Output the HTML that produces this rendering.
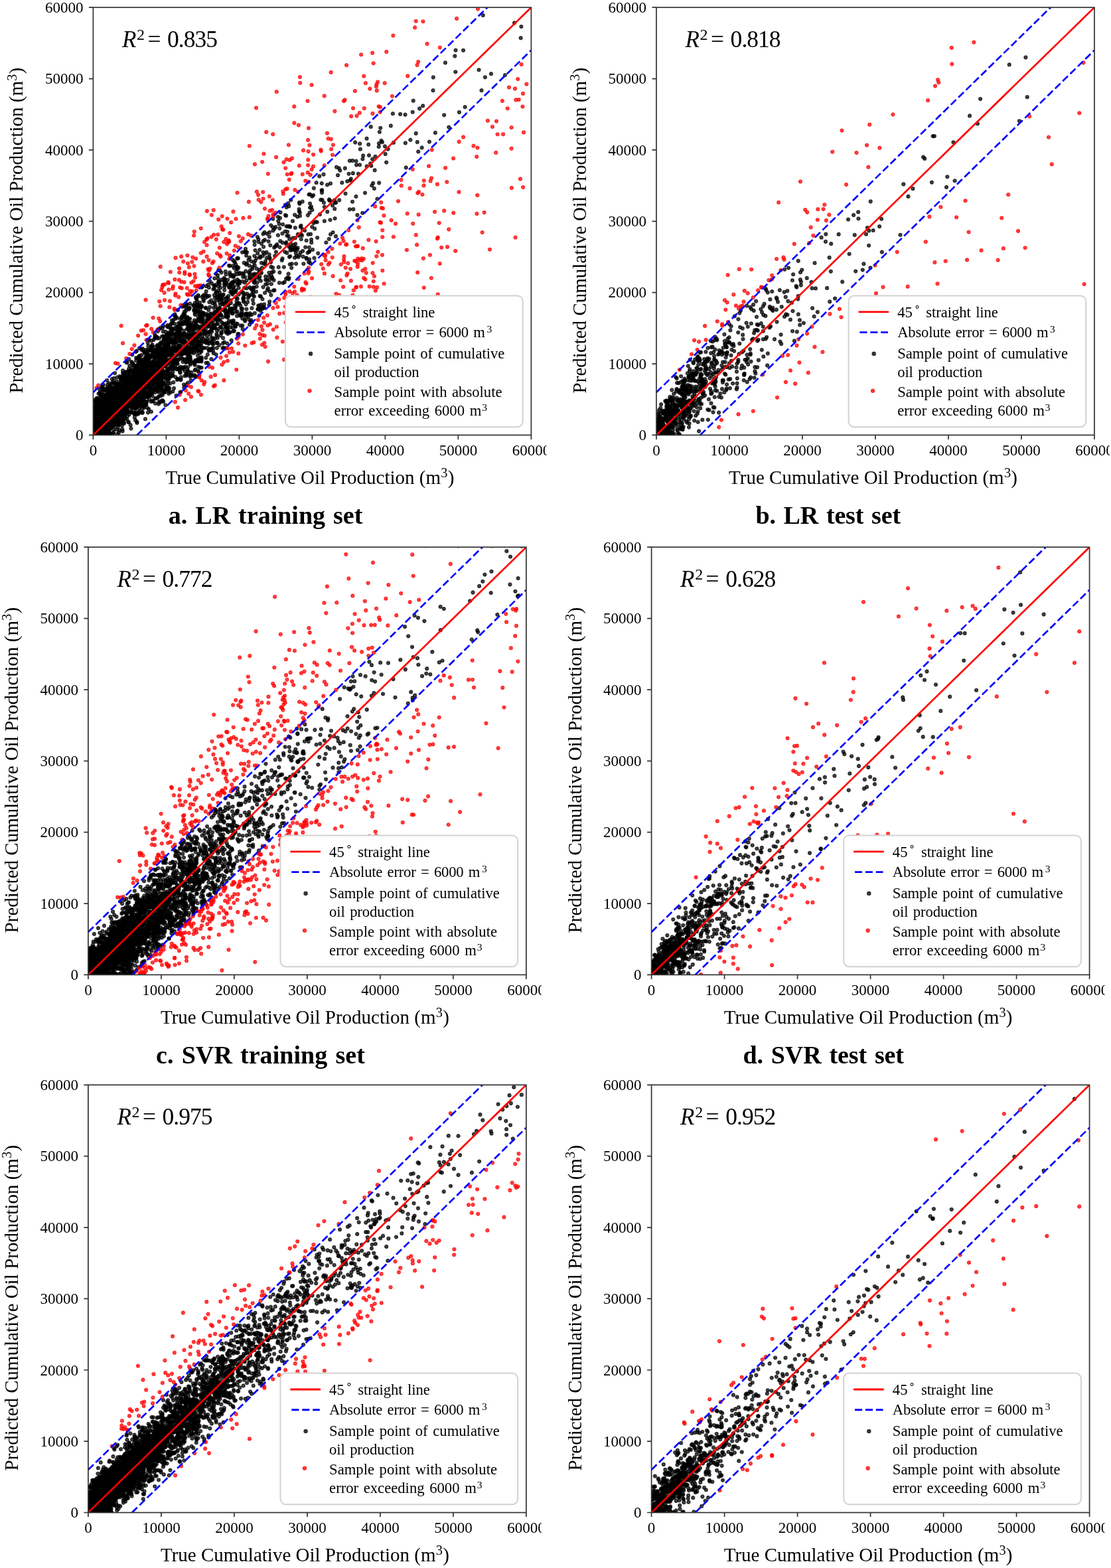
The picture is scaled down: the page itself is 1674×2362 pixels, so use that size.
<!DOCTYPE html>
<html><head><meta charset="utf-8"><title>Figure</title><style>
html,body{margin:0;padding:0;background:#fff;}
svg{display:block;}
text{font-family:"Liberation Serif", "Times New Roman", serif;fill:#000;}
.tl{font-size:23px;}
.al{font-size:29px;}
.sup{font-size:20.3px;}
.r2{font-size:35.5px;}
.it{font-style:italic;font-size:35px;}
.r2s{font-size:24px;}
.lt{font-size:22.7px;word-spacing:2px;}
.lts{font-size:15.5px;}
.ltd{font-size:16px;}
.cap{font-size:38px;font-weight:bold;word-spacing:2.5px;}
.sp{fill:none;stroke:#333;stroke-width:1.7;}
.tk{fill:none;stroke:#333;stroke-width:1.7;}
.l45{stroke:#ff0000;stroke-width:2.7;fill:none;}
.lb{stroke:#0000ff;stroke-width:2.7;fill:none;stroke-dasharray:11.1 4.8;}
.lr{stroke:#ff0000;stroke-width:2.9;fill:none;}
.lbl{stroke:#0000ff;stroke-width:2.9;fill:none;stroke-dasharray:11.1 4.8;}
.lg{fill:#fff;fill-opacity:1;stroke:#d2d2d2;stroke-width:2;}
.pb{fill:none;stroke:none;marker-start:url(#mkb);marker-mid:url(#mkb);marker-end:url(#mkb);}
.pr{fill:none;stroke:none;marker-start:url(#mkr);marker-mid:url(#mkr);marker-end:url(#mkr);}
.mb{fill:#000;fill-opacity:0.7;stroke:#000;stroke-opacity:0.7;stroke-width:2;}
.mr{fill:#f00;fill-opacity:0.7;stroke:#f00;stroke-opacity:0.7;stroke-width:2;}
</style></head>
<body><svg width="1674" height="2362" viewBox="0 0 1674 2362">
<rect x="0" y="0" width="1674" height="2362" fill="#fff"/>
<defs>
<clipPath id="ax"><rect x="0" y="0" width="660" height="644.2"/></clipPath>
<clipPath id="xc"><rect x="-40" y="649.2" width="723" height="60"/></clipPath>
<marker id="mkb" markerUnits="userSpaceOnUse" markerWidth="10" markerHeight="10" refX="5" refY="5" overflow="visible"><circle cx="5" cy="5" r="2.3" fill="#000" fill-opacity="0.7" stroke="#000" stroke-opacity="0.7" stroke-width="1.7"/></marker>
<marker id="mkr" markerUnits="userSpaceOnUse" markerWidth="10" markerHeight="10" refX="5" refY="5" overflow="visible"><circle cx="5" cy="5" r="2.3" fill="#f00" fill-opacity="0.7" stroke="#f00" stroke-opacity="0.7" stroke-width="1.7"/></marker>
</defs>
<g transform="translate(140.4 11.2)">
<g clip-path="url(#ax)">
<path class="pb" d="M107.4 551.6l423.1-468.3l-376.5 395.8l-5.3 27.6l9.6-59.1l-110.5 144.3l36.6-13.8l151.4-169.9l-57 56.3l63-42.1l18-5.3l-132.8 69.6l175.4-128.7l-212.1 211.4l-44.5-11.4l62.9-18.1l39.5-39.3l96.6-97.5l-224.7 223.1l84.9-103.6l-15.3 55.2l-81 49l3.7-7l110.2-136.6l-100.5 119.5l20.7-27.3l8.5 24.9l239.9-299.2l-245.5 251.2l100.2-65.5l-98.8 115.8l148.7-117.4l-174.8 111.9l131.4-104.6l115.4-164.4l-167.3 223.8l-61.4 34.9l158.2-176.8l-141.3 165.2l22.5 44.8l251.3-289.4l-188 136.2l-118.8 122.9l115.4-90.8l86.3-30.3l-213.4 149.9l232.1-229.9l-192.4 215.6l27.2-72.8l150.2-99.3l-148.9 93l-46.3 89.4l5.1-10.2l56.3-67l-57 90.9l44.4-94.3l-58.2 55.3l122.2-52.8l-6.5-31.6l-1.6-2.7l-39.7-17.4l-63.4 114.7l35-86.3l27.1 75.1l-78.7 11.3l-16.2 21l254.1-199.2l69.4-53.6l-259.2 207.4l1.1 20l-32.7-7.1l37.3-18.4l90.8-53.8l-94.7 82.8l-64.4 15.2l68.9-49.9l413.7-374.2l-423.4 420.5l29.3-33.8l-71.8 10.3l54.7 6.5l86.7-119.3l-67.6 88.1l-81.4 64.1l45.4-53.7l159.3-178.7l120.2-46.8l-318.6 274.9l67.7-51.3l180-212.1l-127.3 92.2l55.7-17.2l-171.4 186.5l321.3-330l-252.8 227.5l135.6-95l-167.8 146.1l112.3-33l-155.1 84.7l85.2-44.3l-52.1-26.2l145.3-51.7l-121.9 38.4l28.8 33.6l-39.5-7.4l125.1-153.9l-93.6 140.4l-50.8 8.7l-9.8 59.3l-6.6-19.5l203.5-186.3l78.2-35.3l-304.4 241.4l13.9-25.4l49.4-65.1l70.4 21.7l-138.4 75.4l27.8-23.1l177.1-110.9l-104.7 49.6l-84.2 76.5l90.6-102.6l56.2-10.1l7.9-69.7l20.4 1.2l-125.8 105.4l-41.2 96.5l90-91.9l-109.1 91.1l71-56.6l-49.6 61.9l-8.6-33.4l28.9-31.8l-31.7 19l148-126.3l-124.2 159.5l111.5-129.5l-16.1 23.5l-85.4 62.9l337.6-354.2l41.6 57.5l-332.4 253.4l103.6-127.7l231.1-204.4l-361.7 327.5l-10.6 67.9l58.2-126.9l-2.7 99.6l-55-10.2l88.9-13.5l-93.9 2.8l-13 25.2l-3.3 17.1l8.1-18.3l176.7-131.6l-214.9 170.9l46-31.4l-39.1 54.3l96.6-94.7l-97.9 49.6l6.7 5.1l242.5-192.6l29.1-56.9l-173.3 122.6l73.3-18.5l-147 136.6l172.1-151.8l-173.3 167.4l-20.4 10.1l132-146.5l97.7-16.6l-110.4 27l-0.1-6l-65.4 53.2l86.8-12.8l-55.2 22.6l39.3-66.2l-57.4 50.6l-67.7 83.6l150.8-129.3l-78.3 35.9l3.6 48.3l-65.1 35.6l-8.6-14.2l40.2-57.4l-0.8 58.8l-1.4-23.8l48.1-68.7l359.6-332.7l-356.5 320.1l197.3-108.6l-84.1 69.6l-186.7 152.2l43.3-42.6l105.2-138.3l-159.8 172.1l-13.7 21.2l235.2-209.2l75.3-30.4l-121.7 80.1l-125.3 110.6l-59.6 51.3l35.9-69.9l128.5-40.8l-145.4 72.2l350.3-312.8l-380.3 384.9l49.4-43.7l115.8-124.4l-109 94l72-56.4l448.9-387.7l-523.6 456.7l22.8-40.1l-12.3 18.8l192.1-208l-238.9 245l99.4-112.7l-30.5 68.8l-76.2 84.5l102.7-121.6l168.9-203.5l-216.9 237.6l38.4-58.3l122.7-27l-198.3 123.3l294.5-283.5l-172.9 225.6l10.8-39.4l-86.9 91.6l-79.9 60.2l17.6-29.1l-6.5-8.4l99.9-35.4l-64.2-17.7l83.3 27.2l-34.7-52.4l10.1 53l-101.7 60.6l30.4-41.2l118.9-54.2l105.2-158.7l-209.3 205.3l124.2-102.7l39.7-61.3l-27.6 48.8l-151.2 158.9l38-83.2l30.4-6.1l-100.3 65.4l40.6-50.9l137.6-39.9l-41-4.5l71.2-91.1l-210.6 198.7l68-50.1l40.5-55l203.5-177.5l-184.3 168.7l-101.9 117.4l10.1-37.4l-34.1 46.8l24.3-12.4l258.1-270.3l-70.3 33.2l204.9-119.3l-333.8 273.5l355.7-308.3l-440.7 395.9l30.4-35l-13.7 33.9l145.5-85.6l-108 40.4l-42.8 49.5l80.4-82.4l355.6-371.8l-192.1 173.6l-139.3 150.8l-113.2 139.1l35.5-31.4l-36.8 12.4l236.5-169.8l-200.1 147.6l100.1-124.3l-69.4 100.1l1.7 9.6l1.3-11.8l-65 61.8l168.9-167.7l-111.8 84.9l21.9-37.7l3.1 0.6l16.8 13.3l-90.6 96l32-34.3l-45.3 44.1l113.7-116.6l-22.1 8.7l81.7-115.1l-70.5 76l-51.8 85.5l64.3-40.8l16.7-81.9l18.5 87.6l20.4-61.5l45.7-31.7l-77.8 99.8l-15.7-0.1l-47.2 24l-2.6-14.6l-46.8 58.3l76.2-63.7l-93.8 93.8l346.3-351.3l6 11.9l-335.5 298.8l-14.9-12.7l6.3 10.4l-15.8 8.8l83.7-98.1l76.5-12l-129.3 115.4l106.8-102.4l-101.3 67.9l172.9-130.7l51.8-49.3l-248.4 200.1l49.4 26.1l23.2-71.4l-20.9 28.2l117.8-111.5l-56.8 26.7l-58.8 79l-44.3 39.1l394.5-387.4l-407.5 376l64.9-67.2l-25 42.6l31.1-18.5l-15-3.5l-9.3-8.7l164.2-86.9l-184.3 93.3l121.4-89.6l-124.1 139.1l3.6-9.6l-5.6 19.2l19.2-58.7l-36.7 63.8l309.5-234.6l69-153.7l-265.5 268.8l-76.8 84.7l9.7 36.7l263.1-326.3l-242.8 309.8l-1.3 5.2l1.5-29.4l-31.3-5l29.7 4.5l-60.8 30l81.2-97.3l312.7-290.3l-388.6 359l89.1-70l-2.8 10.2l5.7-33.7l-96.4 154.3l13.4-64.2l-16.8 60.9l23.7-32.6l-15.2-0.1l20.9-57.7l145-58.5l-171.4 101l2.5 2l-14.1 14.6l69.7-49.6l-52 37l13.9 16.3l64.4-76l27.4-21.9l-2.5-11.3l14.8 26.4l32.5-113.2l-50 114.9l-116.3 63.4l-5.1 24.5l97-85.6l-63.9 55.3l145.2-117.7l-143.7 122.4l91.5-94.8l-96.5 120.9l284.3-268l-129.8 120.1l-44.7 43.9l50.7-38.5l76.9-116.9l-126.1 124.9l81.5-23.2l-140.6 72.6l-83 58.3l174.6-74.7l237.6-337.9l-114.6 132.8l-220.9 239.8l-34.3 37.5l82.6-105.5l364.1-273.1l-344.3 344.2l-112.6 49.7l111.7-106.9l-63.9 81.8l-54 28.9l1.3 1.4l277.1-316.5l-290.7 320.1l229.1-264.8l-157.6 198.8l-22.1 56.2l10.7-6l13.7-1.6l105.1-141.1l-177.6 145.8l-0.5 22.4l18.4-0.6l-29.1-27l386.1-311.2l-337 273.3l128.6-103.9l-155.1 154.1l132.9-131.6l-163.1 162.1l58.5-54.4l65.7-92.1l31.4-26.7l142.9-118.1l-200.2 212l-16.9-10.4l-73.5 56.5l126.3-114.5l-123.7 142.2l15.3-16.3l-23.9-3.1l6.7-6.5l125-64.2l-4.2 17.9l225.9-219.3l-44.5-13.1l-291.7 271l80.9-45.9l-98.7 55.2l99.8-36.5l-103 65.5l248.6-284.8l-247.3 289l130.4-81.7l98.3-93.7l-198.6 149.2l96.9-140.5l144.4-49.5l-202.3 129.6l12.5-20.6l-33.7 57.1l-49.2 45.1l75.2-57.8l56-37.9l280.6-302.2l-212.2 162.9l-154.9 198l-44.5 18l67.6-82.2l113.4-83.6l-114.1 134.9l93.1-104.3l68.9-119.3l-68.1 152.9l86.8-61.8l46.9-47l-282 222.1l129.3-103.9l-32.6-6.5l-79.2 77.7l26.7-6l-44.6 50.6l63.9-78.8l60.6-46.7l-110 83.6l7.9 23.7l-4-42l-18.2 46.3l23.4-70.7l82.8-42.7l-28.1 26.2l-55.7 54.1l21.2-5.3l41.8-54.3l-40.7 26.2l108.4-80.8l-163.2 144.3l146.6-129.8l-15.1 34.3l-15.6-25.3l-36.9 51.4l47.2-60.1l195.7-111.6l-180.3 116.5l87-39l-14.3-3.2l-210.9 149.9l87.2-59.9l-6.2-23.5l181.2-108l23.6-72.8l-274.2 280.8l4.5-18.6l25.6 0.5l-1.7 18.2l234.2-209.9l-170.7 117.1l47.8-7.4l-118.8 81l-10.3-4.7l138-158.4l-55.6 69.9l69-66.7l-174.1 196.6l288.7-232.8l-245.6 190.5l148.2-152.4l-163.1 135.2l-33.2 38.4l208.9-217.9l-109.8 143.8l63.1-44.8l-123.1 86.5l26.7-1.6l-53.8 55.7l42.4-46.5l23.6-46.2l9.8 31.5l-25.9-4.2l16-48.7l111.9-111.4l-109.2 129.7l64-94.1l-135.4 122.8l17.9 35.1l21.8-20.9l116.2-129.6l-85.8 125.2l118.8-131.5l-45.6 92.6l261.6-340.1l-388.8 377l8.5 6.3l123.3-140.9l47.9-49.8l-43.8 49.9l168.7-84l-257.5 184.8l30.4-21.1l82.8-15.7l-133.6 86.4l32.1-62.4l168.7-181.1l-224 243.1l71.1-74.9l92.5-84l-23.4 43.6l-141.1 90.7l-11 52l260.8-283.3l-254.7 241.2l57.3-42.8l20.1-12.9l-91.2 108.2l101.3-102.5l-105.7 103.7l245.9-261l-176.3 224.3l-71.6 8.8l108.2-74.7l-24.4 26.9l-66.6 23.9l358.7-343.9l-309.3 321.6l156.5-162.4l-178.3 194.6l-30.5 38.6l2-40.1l97-80.2l61.7-30.5l-63.7 89.7l37.7-79.7l-108.9 113.6l-26 1l19.6-14.5l2.7 12.5l-28.5 23.5l98.6-57.9l38-75.6l-81.2 70.9l-51.4 1.3l57.6-15.9l24.6-42.2l45.4 19.3l-133.3 89.6l146.1-106.9l-99.6 116.4l-3.4-64.4l23.3-19.3l150.1-107l-14.7-32.3l51.9 17l31.6-93.4l-170.2 186.7l59.8-66l-162.2 160.9l26-30.2l242.1-172.1l-170.8 66.9l-15.9 19.7l-90.9 146.3l3.4-6.9l115.5-55.5l-124.2 61.8l158.2-128.3l-12.5-50l-29.9 29.3l-119.9 146l15.1-31.5l42.2-28.8l43.9-20.6l-101.4 65l270.5-248l-189.5 192.8l560.7-538.2l-445.4 414.5l-143.2 103.7l15.9 51.4l-61-4.4l29.4 0l-27.1 30.9l112.3-111l-120.5 100.6l88-34.7l-62.6-3.8l44.5-31l-43.5 48.7l33.9 30.3l112.8-120.2l-103 35.2l-42.9 55l54.3-32.4l125.4-179.2l29 25.8l-153.2 151.4l-35.2 4l42.3-38.3l-66.9 86.5l35.7-64.7l353.7-312l-364 327.4l-24.2 39.6l101.6-112.3l-99.8 99l195.1-125.7l-146.9 134.7l-78.7 23.7l223.8-252.7l-113.2 147l-58.1 66.5l-16.6 15.9l66.3-17l-83.1 25.2l-3.7-22.1l-8 58.6l23.4-41l78.1-107.2l106.8-48.8l-126.8 105.5l73.6-129.6l-93.1 187.5l-53.5-14.1l39.9 5.7l-19.7-7.5l25.2 2.2l203.1-147.5l-264.7 192.9l256.1-280.5l-100.3 96.7l182.5-86.9l-200.9 184.7l136.9-224.4l-240.2 296.7l148.6-163.9l-100.7 93.3l-18.4 55.3l39.2-98.4l-87.3 104.1l-3.3-32.2l367.4-305.2l-375.7 348.9l13.2-35.7l220.5-122.3l-155.2 74.1l-37.2 55.1l-15.3 17.2l128-111.8l-60.6 10.5l380.1-316.9l-464.7 412.9l28.9-9.2l153-89.9l-152.6 63.6l-32.9 41.9l17.9-16.2l264.4-232.8l-122 132.2l-30.3-29.6l-22.6 29.2l-106.4 93.9l23.7-28.3l59-19.8l-81.2 95.4l38.9-38.4l127.3-143.3l-174.2 173.7l-0.6-4.4l98.3-66.5l21.4-101.6l-58.9 112.8l24.1-31.8l63.8-59l-108.2 126.1l-23.9-32.4l337.4-312.8l-130.8 169.2l-179.8 173.7l-42 0.5l100.6-101.3l242.9-206.8l-245.4 228.4l-47.8 31.7l-52.7 80.5l110.8-68.1l-83.9 41.6l158.8-144.4l-113.7 139.8l188-193.7l-254.7 178.6l88.7-27.3l-88 56.8l154.9-174.4l-31.1 107l48-81.5l-146.8 126.8l272.2-216.2l-158.7 120.9l-144.9 113.9l128.6-129.2l-110.6 117.2l41.9-9.6l-7.8 0.4l109.6-134.8l-45.2 75.5l-56.9 47.5l141.8-100.3l49.4-39.8l-169.8 138l97.4-87.6l-79.4 69l-35.3-9.5l139.9-136l-173.1 181.5l331.6-285.3l-295.7 237l-38 41.2l0.2 34.2l147.6-147.7l78.8-96.7l-138.4 147.4l-97.3 80.4l75.9-125.8l50.1-9.8l-83.7 104.4l195.9-200.2l-138.7 88.5l223.4-195.2l-218.6 261l-94.8 46.1l27.6 2l-45.2 41.8l23.1-16.2l-15.9-11.1l469.3-382l-443.3 377.1l-10.6-27l370.1-338.9l-371.3 368.5l74-17.5l-108.4 58.5l50-70.1l-26.3 46.4l1.2-17l306.7-272.5l-283.7 239.3l-44.9 77.9l112-111.4l-97.8 79.6l185.9-144.9l-112.3 35.5l-72 117.8l123.4-97.4l-44 21.1l-50.9 28.4l163.1-140.4l-156.9 99.8l30-6.9l-77.3 69l1.8 40.6l118.7-143.6l-101.5 154.3l55.5-98.9l117.5-135l-133.7 169.1l-48.1 11.1l21.6 29.4l104.8-71.5l8.7-72.7l-13.9 56.9l-63.8-1.3l6.5 41.5l35.6-54.6l-3.5 38.8l130.2-181.8l-223.6 239.8l32-41.9l129.4-101.2l-110.6 92.3l84.8-30.7l96-78.7l-57.5-43.8l-160.9 209.9l29-26.9l128.7-153.3l-38.2 50l39.4-56.3l-109.7 127.5l-14.8 4.3l-5.2 9l73.3-53.5l-124.4 82l-7.4 12.5l134.7-101.7l-92.6 75.7l-9.6-7.8l-33.9 62.1l48.4-51l198.6-143.6l-214.7 123.7l104.8-60.9l184.5-198.8l-231.5 226.7l57.4-51.6l-109.7 90l5.6 7.1l-39 24.7l55.6-33.1l-34.4 28.1l159.5-139.8l-160.1 137.4l-4.8 0.9l2.1-5.1l-0.3 5.6l-4.5-12.2l200.8-179.2l-194.7 204.4l82.4-94.2l-2.4-1.9l-87.8 100.5l134.2-165.1l-23.6 66.5l-43.6 67.4l93.5-122l-165 111l69.6-50.5l-12.3 64.5l-51.1 6.5l25.4-23.4l7 39.3l25.3-42.9l-74.4 70.4l17.5-5l8-71.8l55.1-7.5l-52.2 23.8l333.2-288.6l-230.7 209.6l-51.7 83.5l-66 55.1l35.4-62.4l-48.2 54.8l13.5 5.2l18-72.1l60.8-33l-85.7 89.9l-6.8-18.2l3 35.2l-4.9-7.5l280.7-316.8l-210.9 267.3l-13.8-25l-47.3 52l0.7-20.2l8.3 27.1l92.5-65.3l-0.9-34.6l124.6-48.2l-228.8 147.9l294-256.7l-252.2 208.7l104.3-66.4l253.7-194.3l-361.4 286.5l452.3-447.9l-327.5 289.2l-32.2 80.8l113.9-112.7l-206.4 197l-37.6 36l275.2-329.8l-275.8 335l21.5-32.7l-4.2-0.3l-3.7-15.3l14.8-3l-11.7-12l489.4-475.1l-289.6 359l-179.4 139.4l75.5-98.4l-92.9 80.4l113.8-114.8l-44.2 95.3l-94.9 33.2l102.8-93.5l-64.7 100.9l81.1-105.2l-109.6 78l61.4-46.3l42.1 48.5l-84.3 18l10 5.4l281.5-228l23.7-102l-329 342.7l17.6 11.2l-20.9-12.6l51.6-70.8l-62 86.5l198.3-156.2l-158.1 112.6l-32.6 38.2l31.8-8.6l31.1-46.1l-22.7 17.9l-22.6 38.4l104-77.9l-39.2 6.3l-87.7 47.3l78.8-78.9l125.7-67.9l-199.2 142.2l-1.5-17.7l183.8-100.9l-191.5 128.5l48.6-15.9l-16.3 26.1l-23.6 21.7l80.5-96.3l62.2-32.5l10.7-62.5l-57.9 97.4l-68.3 26.4l154.7-135.2l-28.7 94.1l277.9-311.9l-382.8 353.3l21.9-58.5l256.9-251.6l88.8-39.4l-300.5 304.9l-57.9 60.5l-22.7 45.5l-31.9-19.9l30.7-54.6l84.8-39.3l44.4-52.3l-152.5 153.9l14.8-21.1l447.1-444.6l-343.6 303.9l-44.6 34.7l-74.8 140.7l104.6-92.9l198.7-165.5l-181.9 78.6l-82.8 113.5l-35.6 57.9l76.2-64.8l154.9-110.2l-240.2 129.7l71.8-26.2l122.2-67.7l-46 2.3l-99.1 108.9l-33.6-26.5l155.2-130.2l15.7 11.5l-123.3 86.9l12.7-4.9l9-28.7l43.6-16.6l-81.5 43.5l82.9-51.3l-105.8 88.3l-35.4 62.1l40.9-50.2l66.8-15l53.4-101.9l-27.5 4.5l-131.4 154.5l34-53l153.2-160.3l12.8 45.7l-180.1 167l8-13l8.9-27.3l-33.2 33.3l64.3-51.7l-50.7 49l18.1-7.9l12.5-21l-30.2 3.7l80.9-108.5l45.9-2.5l-120.4 93l97.4-104.3l-32.5 69.5l-37.5 50.6l-27 7.2l-17.2-3.2l35.4 6.2l-21.4 15l341.5-269.3l-97.6 88.5l-51.3 31.7l-18.8-39.1l-74.9 109.7l-17.1 43.2l144.2-170.2l-72.1 121.3l197-265.8l-261.2 243.1l-94 96.8l26.3-21.4l-15.3 5.2l22.3 10.5l272.1-316.4l-284.2 318.5l11.4-2.7l84.7-101.8l-121.8 123.4l169.4-151.4l-181.2 147.7l34.5-29.3l44-23.8l-3.4-42.6l-63.3 116.7l167.8-217.2l52.5-42.5l-229.9 217.1l10.2 30.8l55.6-50.8l-58.7 37l61.6-22.2l308.5-326.8l-368.9 337l227-165.1l-122.3 37.7l-12.3 76.5l-60.1 42.3l86.1-95l109.8-92l-49.3 86.2l-58.6-13l131.5-65.6l-91.3 11.1l-118 172.9l161.4-100l-181.8 97.2l259.7-243.3l-270.6 238.3l109.6-109.8l-70.6 98.1l59.8-84.1l-34.6 63.3l-49.4 27.9l-39.1 42l29.9-9.9l-13 19.2l9-46.3l5.5 22.3l-15-21.9l11.4 14.6l57.5-55.1l-36.9 42.2l209.5-159.6l-139.4 107.2l165-156.2l-269.1 233l62.4-58.3l248.5-246.5l-202 209.1l181.3-148l-290.6 213.3l221.4-120.5l7.1-52.8l-114.3 111.3l9.7-17.1l-59.2 80.9l-23.2-21.3l-27.1 51.8l9.6-36.5l147.7-144.4l-158.7 152.3l58.4-26.1l-52.2 47.4l18.1-58.8l-30.5 22.4l51.7 16l-63.1 22.1l32.6-16.5l-40.7 25.3l73.3-102l-13.9 78.6l-45.6 33.4l245.5-251.9l-195 162.9l-17.9 55.1l68.8-49.7l86.5-84.1l38.5-77l-149.3 170.1l-64.3 21.6l18.1 15l17.8-3l132.2-131.6l-185.3 166.9l96.6-46.5l-21.9-1.2l-35.5 9.6l-1.6-1.3l11.1-19.4l-13.9 3.2l-14.4 23.4l48.1-23.7l-35-12l-41.7 87.4l228.5-211.8l-189 185.6l33.5-17.1l-23.3-21l60.2-70.6l-107.6 95.3l110.6-23.4l-18.2-8.6l58.1-64.4l-94.6 56.8l24.2-19.5l-69.8 62.9l98.1-117.3l44.4 13.9l-82.7 38l35.1-4.1l-6.9 8.6l16.1 32.3l65-148.8l-27.1 40.3l-4.7 11.4l-153 120.4l223.6-172.6l-129.9 105.7l115.6-118.7l-179.7 156.6l-9.6 62.8l56.7-104.6l129.1-141.6l-203.8 252.1l221.8-183.2l-52.4 30.8l160.8-216.8l-331.7 369.4l35.7-65l61.8-64.8l89.7-54.2l-129.5 112.6l172.6-115.9l-82 41.5l-140.4 128.9l249.2-172.3l-149.2 74.6l-55 41.9l29.1-26l-43.3 70.2l48.4-111.1l-79.3 117.8l207.7-227.9l-96.1 156.9l-114 50.4l47.7-38.5l163.5-150.9l-144.8 125.3l31-15.8l-69.7 56.5l149.5-129.4l-122.6 120.5l149.2-134.7l-150.6 111.2l78.3-80.8l-43.5 54.6l-23.2 37.4l-9.3 31.5l-46-11.5l45.3-4.7l-57 53.7l101.4-58.8l-41.8 15.8l-19.9 23.2l45.7-47.6l-81.3 57.4l38.7-9.3l52.6-44.3l-56.5 23.4l97.8-63.5l-71.4 76.1l-48.1 28.9l106.6-80.3l-4.6-12.8l70.8-57.1l-119.1 72.6l-62.9 76.3l2.2-5l-3.1 15.5l50.6-57.6l-49.9 52.1l283.2-329.3l-264.7 279.6l285.2-244.9l-274 275.3l265.8-244.1l-188.6 153.1l-49.9 31.9l28.6-6.7l-63.9 41.9l65.1-30.6l45.6-37l-49.7 56.7l-52.6 16.9l72.1-15.4l104.1-158.4l-201.6 198.8l166.8-134.6l-125.6 106.6l-11.9-0.1l123.2-97.1l27.3-58.9l-179.9 185l4.1-43.5l118.5-57.6l-111 86.1l7.5-12l18.5 7.1l6.4-19.8l28.9 7.7l88.8-108.5l-158.3 144.7l11.5-14.7l-26.3 25.7l139.4-139.6l74.5-101.1l17.1 29.8l-233 191.7l18.7 13.5l75.5-54.2l4.9-41.9l31-3.3l192.6-148l-254.5 198.1l-55.9 39.5l140.4-119.3l84.1-104.1l195.8-190.7l-429.7 412.3l62.2-40.1l0.8-4.6l-9.2-9.4l12.7-45.9l327.2-264.7l-378.3 353.3l150-131.3l25.1 40.2l-187.9 92.8l30.1 1.1l37.7-31.4l439.2-386.5l-393.2 340l-113.3 113.1l45.6-32.3l90.8-122.3l-133.6 134l41.1-23.9l47.6-2.2l-25.8-13.5l-74.1 60.1l6.6-33.4l-3.7 34.4l10.9-30l42.1-18.8l62.6-63l46.7-96.9l-165.4 209.2l50.7-22.9l41.1-60.7l-26.4 16.9l-18.4 38.2l243.4-301.1l-73.4 88.2l-61 111.5l-125.2 62.6l75.5-75.1l118.3-88.1l-135.3 166.5l-62.7 39.9l80.8-123.6l179.7-104.5l-284.9 250.2l5-38.5l28.2 8.1l42.9-37.2l250-224l-290 243.3l15.1 0.7l8.4-54.3l-9.6 55.7l-35.3 0l401.7-356.5l-335.7 326.5l93.3-92.9l-105.4 97.5l-22.2-6.5l-35.2 34.2l56.1-66.4l240.4-227.1l-159.3 212.7l-109.5 82.6l-33.4-9.3l191.3-192.2l-149.8 192.8l337.9-329.9l-349.5 338.9l113.1-97.7l-130.1 94.7l63.9-47.5l102.8-145.3l348.3-223.3l-523.8 425.6l29.9-9.2l-14.1 8.7l532.3-455.5l-379 329.5l-163.1 125.9l15.8 10.4l238-217.9l32.2-34.6l-145.7 178.1l-127 74.9l298.4-331.7l-123.1 132.6l-183.7 182.3l-18.1 28.9l60.9-43.6l97.5-79.1l-137.9 136.8l72.9-84.5l-65.9 69.7l58.7-74.1l-5.8-27.4l61.3 28.2l-135.6 38.5l7.8 9.7l156.2-113.9l-70.7 52.6l65.7-36l-123.2 99.5l172.1-112.9l-154.7 50.3l-54.5 71.1l40.3-9l25.2-39.1l250.2-203.7l-188.9 146.2l-133.3 126.4l62-57.3l118.4-111.2l-25.8 27.5l-86.1 63.6l-29.1 52.1l184.4-171.2l-54.9-2.1l-159.2 167.8l92.4-36.4l45.9-32.7l-81.3 26.9l30.2-22.8l72.1-74.4l-169 150.6l234.6-190.6l65.8-46.9l-273.1 237l21.8-52.7l74.3-24.8l-125.2 100.3l58.7-40l36.8-19.3l-67-13.5l67.6-40.6l143.7-99.2l-94.8 79.3l-117.1 111.3l132-163.5l-147.3 168l7.5 5.5l3.6-44l100.7-72.4l-103 103.5l3.8-2.7l-16.3 7.1l47.1-57.7l132.7-105.5l-48.6 13.7l-32.5 132.3l-103.6 18.1l237.6-202.3l-204.7 165.6l122.5-70.6l-137.7 95l133.7-109.4l177-162.2l-82.3 41.8l-108.5 141.4l-88.9 60.9l38.2-28.5l-74.6 83.3l35.2-37.8l-4.4-5.7l-46.6 19.6l206.6-151.4l-149.4 126.8l-1.2-6.9l13.6 15.6l45.6-77.7l39.5-35.2l-151.3 162.1l19.4-33.2l-11.8 12.2l60.6-15.6l-52.9-19.1l-19.2 38.5l292.8-223.1l-223.9 162.2l11.1-1.8l-19.1 7.4l-12.2 21.1l-30.2 27.2l102.8-140.8l-121.2 128.7l81.5-23.7l90.8-125.8l-135.2 156.6l165-137.5l-28.7-30.9l66.5 2.1l-125 91.3l51.2-61.6l-125 103.9l61.3-10.3l64.4-65.7l-123.4 79.1l-36.1 59.1l13.9-36.1l103.9-45l-111.6 36.8l59.4 2.7l34.8-70.5l-107.4 90.9l5-20.9l56.7-29.4l89.1-71.2l-102.4 53.6l-34.6 52.4l185.8-140.3l-186.4 150.8l175.6-186.6l-89.7 105.8l-50.5 37l120.3-110.2l-135.9 114l176.1-153.4l-208.4 202.1l51.9-42.3l52.8-54.8l50.6-35.9l-103.8 79.7l8.3-3.7l-5.7-21.2l127.2-63.6l-173.8 137.1l127.6-153.8l-94.7 137.2l-34.3 26.4l144.7-184.4l112.1-99.8l-218.8 251.6l56-37.9l-53.2 27.3l105.8-132.9l-129.4 134.7l65.7-29.2l6.3-14.1l158.8-93.9l-61.1-6.6l-145.2 149.7l-25-9.1l-8.6 20.7l190.4-164.5l9 7.4l-208.6 155.9l116.8-62l-29 21.1l79.2-47.5l37.9-95.9l-140.8 121.1l0.3 49.5l27.9-41.3l-42.1 32.5l351.9-302.5l-153.5 61.8l-211.5 264.1l-5.7-11.8l8.7-18.7l21.4 0l130.6-136.2l143.3-148.8l-201.8 158.1l-103.9 147.8l208.3-167.6l-242 165.2l202.5-139.3l-67.2 87.5l-39.5-56.6l-70.1 133.5l-7.5 11.6l50.8-57.8l-72.1 34.1l4.3-15.8l8.7 31l5.3 6l27.1-7.9l15.1-67.7l-21 57.4l164.2-152.1l-183.6 162.4l-10.6-10.8l125.9-146.8l-13.9 49.6l-34.6 24l131.9-123.5l-176.8 174.5l20.2 13.3l35.6-80.5l3.9 43.1l-83 44l47.2-65.3l-2.8 40.9l129.6-182.7l-161.2 200l144.5-137.8l-157.8 131.4l-4 17.1l-12.2 11.7l19.1-29.3l15.9-2l155.1-108.7l50.4-129.4l-231.7 287.6l47.9-80.9l-15.6 25l20-32.9l-32.1 7.3l156.3-81.9l-52.6-27.9l-46.6 93l7.7-43.5l-13 19.3l157.3-115.1l55.8-15.4l-278 220.6l43.9-43.9l-26.2 20.9l-13.5 4l96.8-69.4l-49.9 46l-23.9 21.4l388.6-386l-284.5 292.1l-92 78.3l-35.8 50.6l49.3-82.8l44.4 17.1l-97.7 46.4l202.7-186.6l-213.8 217.3l66.1-75.6l21.7-10.1l-36 28.6l19.9 23.4l32.6-91.5l33.5-13l168.8-145.7l-252 233.9l50-77.1l113.9-21.4l64.4-187.1l-265.1 306.6l6.7 0.2l67.2-70.7l-84.7 63.1l72.3-80l-51.2 62.2l-14.5 29.1l84.3-15.8l-91.1 39.3l176.1-161.6l-129.7 126.2l26.8-52l-4-9.9l225.5-171.8l-275.8 251l-24.8 9.5l130.4-102.2l-57.4 56.1l132.2-164.7l-210.4 222.4l15.6-30.5l-15 38.3l22.7-18.9l-24.1-1.4l108.2-113.2l-108.5 115.5l160.1-96.2l-80.5 11.8l49.6 8.9l-105.8 35.5l267.9-246.3l-150.1 227.6l-77.3 7.1l193.3-201.6l-95.4 88.8l-126.5 121.9l63.5-14.3l-77.4 11.8l37.1-9.6l168.6-98.7l24.1-59l-189.7 157.3l-28.7 18.7l146.8-163.6l-88.4 137.1l-90.7 63.6l121-82l-3.5-21.3l-15.6 9l38.8-15.3l-67.5 18.7l-33.9 88l3.1-36.9l35.8-58.4l-37.4 69l3.9 30.9l59.2-32.7l-57.3-37.3l181.7-109.3l-151.6 85.1l-13.9-0.5l3.4 77.4l107.8-158l133.7-107.5l-265.3 222.1l19.7 11.5l94.1-144l-153.9 209.6l137.9-171.4l61.8-27.9l-167.4 158.5l-16.6 7.2l0-25.2l108.2-103.1l-22 37.8l-38.5 73.1l-35.1-8.7l264.3-252.9l-130.1 168.9l-60.8 17.3l60.2-76.6l-85.3 88.8l102.5-70.8l-149.2 146.1l11.8-49.4l158.8-165.9l-167.6 223.9l154.8-118.4l30.3-15l-136.7 92.8l75.4-40.1l-78 40.1l-2.5-52.2l152.3-57.7l-224.6 136.6l201.7-138.9l-72.8 82l-92.6 80.2l215.4-211.8l-252 189.3l24.2 0.2l58.3-48.3l-81.3 74.1l193.3-177.3l101.7-82.3l-238.8 184.3l-11.6 7.3l262.3-190.8l-300.7 252.9l139.9-64.2l-101 11l-12 48.2l26.3-65.7l-41.4 57.4l201.9-134l4.5-34.7l-190.5 179l-31.2 7.4l171.7-186.4l-133.8 118.4l-48.6 50.4l51.3-35.5l258.8-275.4l-208.9 257.5l-84.9 53.9l-13.4 35.6l50-33.5l149-198.8l-167.1 183.9l194.9-131.5l-229.8 153.4l23.8-44.9l95.2-71.2l-45 60.7l34.2-29.8l-63.4 57.3l0.1-2.1l17-15.3l-22.9 31.9l74.1-71.7l-86.9 56.4l28.4-39.3l-52.5 72.9l99.7-116.7l137-78.5l-225.4 217.3l66.7-80.2l-33.1-3.5l34.8-10.8l2.5-21.5l-47.7 65.5l20.3-58.8l149.2-114.9l-172.1 166.8l177.7-98.6l-202.6 146.3l-4 8.8l23.8-33.8l12.9-0.9l29-14l-54.9 22.8l64.3-59.6l11.9-30.3l-51.4 45.3l-36.1 47.3l208.1-234.9l-202.2 214.3l-9.5 28.7l58.6-52.6l363.8-329.4l-422.6 355l28.3-9.4l-22.2 42.1l68.2-75.9l44.3-31.9l27.9-6.3l60.1-17.3l-116 55.3l-10.8-7.4l310-299.7l-292.6 306.6l-75.8 52.8l12.4-1.7l108.3-90.8l43.4-58.6l-111.1 92.5l-68.9 56.6l15.9-21.4l45.2-49.1l-2.9 50.4l54.4-73.5l-18.4 21.9l-65.8 45.4l55.4-8.5l106.5-155.7l-118.8 134.1l177.4-181.8l-131.1 128.5l81.8-15.9l-189.3 149l19.5-41l210.5-243.9l-210.6 258.6l-1.3-13.6l17.4-6.3l57.1-61.5l-15.5 66.3l-56.1-6.9l-5.5 24.3l-5.3-0.2l9.9-24.7l115.8-121.4l-144.6 182.8l114.9-138.7l6.2 12.4l-115.2 117.8l53.9-22.7l68.3-147l35.9 3.4l80.7-68.2l-218.6 195.6l59.2-22.4l147.3-151.3l-229.1 176.8l120.7-77.4l133.2-142.7l25.2-48.8l-265.3 268.4l132.8-140.3l-124.4 149.5l231.3-164.1l-250.1 146.8l-6.2 32.3l100.2-117.5l18.7 8.6l-122.6 91.4l23.8-10.4l214.6-228.6l-168.3 169.8l-35 83.5l45-58.3l-72.2 80.8l-5.1-23.8l90.9-24.1l287.1-289.7l-300.6 243.5l-55.7 31.7l76.5-78.7l-24.5 22.6l409.5-370.9l-467.5 473.3l164.7-141.4l-26.3-3.4l-139.9 158.7l528.8-481.6l-511.8 408.7l162.7-80.2l-16.3-17.9l-131.7 116.1l-50.4 58.7l86-50l-78.7 35.6l60.5-95.8l17.3-25.2l-7.5 33.6l-21.7 49.8l-51.7 41.5l13.2-30.4l139.3-157.8l-122.7 136.3l75.9-29.8l-100.2 59.5l36.1-17.2l93.5-110.9l-113.6 125.5l-23.7 5.2l106.3-80.1l-37.2-16.3l9.8 16.7l207.9-126.6l-221 167.9l-40.8 21.3l157.5-169.8l-32.5 106.8l-35.9 21.9l-91.6 22.3l124.1-23.4l-137.3 53.9l89.4-84.9l-22.4-17.5l75.6-2.3l-120.9 121l17.3-67.8l64.5-72.4l-62.7 93.9l-31.8-11.6l84.9-66.1l-74 63.1l13.6-9.9l47.1-56.5l102.9-79l-197.7 223.2l129-95.5l-91.8 42.7l65.8-70l112.9-140.2l-50.1 108.3l-79.2 88.5l-3.6-32.8l-14 53.6l-19.1-60.9l10 45.1l3.2 24.2l-58.5 25.8l341.8-335.7l-112.5 140.7l-161.2 150.8l-70.1 6.6l107.3-77.4l-109.6 128.3l16.6-28.8l181.5-154.6l-145.2 129.3l101.9-92.4l-135.2 109l2.7 10.2l210.9-216.8l-117.7 125.2l52.9-71.7l60.7-65.2l-139 130.6l20.2 28.4l-66.6 30.6l-37.1 65.6l87-80.8l63.7-126.6l-31.4 45.8l-121 139l107.4-128.2l-99.7 129.5l27.1-31.8l51.4-71.3l234.1-236.5l-171.7 228.9l103.1-171.7l186.1-125.4l-133.8 93.7l-275.2 284.7l232.5-207.9l-224.9 223l108.1-104.8l-100.8 53.1l-44.3 87.6l41.6-69.1l40.2-36.9l-74.4 99.7l42.3-45.1l3.3-15.2l-29 8.7l24.9-20.8l164.8-131.8l-165 159l4-42.3l82.2-41.1l-45.3 55.4l-64.7 21.8l50.5-43.7l-62.6 70.8l45-25.8l97.9-94.1l-84.6 73.6l-3.7-1.3l-41.9 62.1l47-87.8l62-85.7l-52.9 140.5l-36.2 17.3l93.6-84.4l-144.6 115.5l68.1-84.1l295.5-267.6l-301 260.5l16.9 1.3l40.2-22l-53.9 39.1l22.4-45.9l394-382.9l-459.7 465.1l4.6 19.2l32-57.3l-15.2 31.9l206.3-135.2l-57.9-26.1l-177.4 158.3l163.8-108l-105.4 96l155.3-178.3l-151.1 172.5l57.2-33.8l-83 28.2l34.2-45.3l-49 46.5l25.1-28.3l-25.9 44.2l210.9-175.6l-242.4 226.8l15.9-58l13.6 30.8l-9.5-13.4l50.7-42.2l69.1-8.3l15.3-69.1l-145.1 127.8l6.4 4.3l26.3-48.2l-45.5 64.6l7.8-25.4l93.3-46.4l-73.2 32.9l201.9-221.8l-228.8 237.7l78.3-57.2l-72.2 74.5l54.8-73l191.4-176.4l-105.6 106.1l338.7-277.8l-484.1 410.4l148.5-142.1l-6.6 31.7l-41.7 81.3l-101.1 28.1l134.2-120.1l-20.9 6.7l-69.8 92l197.3-209.2l-231.6 221.3l21.3 8.3l-28.7-0.4l153.6-140.6l-127.5 153.1l-2.9-63.6l-5.2 67.8l31.2-43.4l-52.8 57.9l26.8-49.3l-15.9 34.8l224.2-231.5l-166.4 155.9l-35.7 63.8l-29.9 5.4l235.6-230.5l-205.5 230l52.7-79.5l-0.8 42.5l-33 41.1l69.9-159.2l144.8-62l-239.8 216.6l13.5-25.8l260.2-229.8l-274.8 246.6l42.7-52.9l22.9-11l13-7.2l91.7-119.2l-162.9 176.3l55.8-30.4l68-62.5l-151.5 133.8l145.6-121.7l-28.5 15.4l67-68.2l-133.3 106.6l123.3-89.1l-139.2 118.3l20.7-38.4l208.3-224.7l-134.7 156l36.4 13.1l-167.9 106.5l135.3-58.3l-110.7 74.4l53.5-78.1l311.9-346.5l-289 292l52.9-44.8l99.9-100.4l-225.1 222.4l63.1-33.4l11.1-2.3l-79.2 48.2l68.8-75.6l-32 62.9l145.3-96l-191.3 166.4l89.9-127.7l-50.8 45.4l-51.9 37l147-96.3l143.6-135.3l-96.4 92.1l8.9 2.8l-201.7 139.8l43.6-30.3l-30.8 31.8l290.6-293l-255.7 273l13.1-7.2l185.7-182.6l-192.3 183.4l27.6-16.7l-37 28.3l77.2-98.2l-18.7 18.6l-70.4 116.5l-34.7 18.2l21.5-24.2l-20.8-18.6l29.5-26.3l85.4-79l-45.1 48.2l-34.5 56.7l-26.6 11.6l27.2 15.9l157.8-138.1l-107.1 68.7l-78.1 55.5l12.5 17.6l234.5-204.6l-243.8 161.6l224.5-186l-116.4 117.6l-99.2 79.2l34.5-19.6l37.7-69.2l-92.9 131.8l286.7-311.2l-288.6 281.4l20.5-11.5l38.9-24.5l-42.8 56.1l47.7-87.4l-58.3 67.9l107.2-56.5l132.7-190.2l-235.8 275.3l15.8-35.3l2.7-5.3l267.1-278.2l-224.6 245.2l10.2-16.1l145.1-127.8l0.5 39.5l-103.2 81.7l-33.1 16.5l-34.3-3.2l291.5-290.3l-323.9 364.8l72.3-83.9l-94 61.8l150.5-118.4l17-21.4l-142 122.1l185.5-176.8l-65.5 94.1l-22.8 33.6l-57.3 30.5l31.1 18.5l-63.2-20.8l10.1-21.6l89.9 18.8l-132.7 72.8l146-129.4l-69.2 42.6l135.9-91.8l-193.2 131.7l44.2-14.9l-34.2-3l59.9-57.1l-72.3 95.6l29.3-58.2l145.9-93.9l185.2-212.3l-170.8 230.1l12.9-96l-100.1 133.2l-67.3 80.5l-20.2 6l179.6-181.9l-45.5 55.6l-133.4 123.1l41.4-51.3l-20.1 47.6l118.3-91l26.9-77.6l-200.8 194.7l181.2-182.7l-40.7 90.8l124.1-200.6l-267.8 290.8l201.7-164.7l-81.9 6.9l20.6 50.2l-50.6 13.9l2.7 19.6l193.5-179.7l-162.9 98.9l-56.3 98.3l-57.8 63.8l136.6-119l-128.9 91l75-46.1l-94.3 56.6l14.7-10.5l115.7-91l-37.7-17.2l132.3-92.4l172.8-87.8l-293 203.8l407.1-391.5l-335 391.4l-75.1-3.2l11 32.3l-89.5 64.7l57.7-41.1l-46.2 43.1l43.3-73.4l-20.3 28.5l394.4-363.6l-229.2 250.3l-121.9 65.1l-85.5 90.9l9.3 11.9l315.7-367.7l-326.8 361.3l201.3-189.3l-86 90.9l-22.4 4.4l75.5-88.2l-157.2 171.2l41 8.6l143.9-232.9l180.5-87.6l-297.4 205.5l133.4-54.8l-193.5 147.1l27.1-51.5l-36.5 86.8l81.6-93.2l-86.2 73.8l140.8-106.2l-99.2 70.7l390.7-410.8l-415.9 463.8l230-285.1l-217.2 231.1l-28.6 52.6l39.4-67.1l-43.4 51.3l28.6-31.8l-9 29.2l8.6-5.2l501-525.6l-491.1 470.8l35.5-25l-86.3 98.9l167.3-140.9l-42.7 82.6l-100.3 25.5l-2.6 22.2l2.5 14.1l62.6-29.1l-51.4 5.2l56.8-76.9l-35.2 61.1l-17.8 20.5l15.4-28.8l149.7-128l-160.3 156.4l-15.2-36.6l-28.2 76.2l30.3-36l209.3-247.8l-232.6 273.2l188.6-150l73.9-147.5l-249.7 270.1l75-64.9l46.1-62.2l-15.7 43.3l88.5-42.8l-165.1 113.8l79.8-107.2l-101.9 137.5l57.7-80.7l21.4-8.6l126.7-131l-79.2 79.6l56.1-77l-200.6 218.3l-11.5 6.1l0.4-21.2l354.8-315.7l-79.8 68.4l-117.4 152l-155.3 122.7l163.4-171.9l-96.3 129.9l-54.1 19.1l-11.9-10l127.2-123.4l52-17.6l-126.3 132.7l-46 21.5l100-112.9l319.3-236.9l-429.6 361l23.9-11.1l13.9 0l17.9-19.3l255.5-225.7l-311.9 257.3l136.7-124.1l-131.3 133.7l110.7-105.4l-43.5 21.3l111.5-83.4l24.5 6.8l-28.2 32.2l136.1-121.5l-302.4 230.3l24.1-39.4l63.4-4l-57.6 22l140.8-177.4l-159.1 183.8l-12.9 9.6l-8.6 14.6l52.9-40l-18.3-2l-25.2 29.2l203.2-234.8l-149.1 213.8l-47.1 21l37.8-52.9l96.2-121.8l-112.2 168.1l147.1-172.9l-48.1 34.2l-87.6 109.6l46-67.6l27-16.3l-46.2 93.7l-67.4 38.7l25.2-32.6l-31.7 7.7l260.9-210l-115.6 88.8l-26.5 25.2l-109.8 126.2l23.6 5.7l287.9-295.1l-310.3 265.6l317.6-284.1l-331.2 310.5l75.6-92.7l29.3-13.6l-98.4 116.3l42.7-67.1l-40.7-3.8l38.1 7.6l195.9-159.7l-36.3 62l-109 89.3l-57.6 58.5l144.1-132.5l-59.9-42.1l130.1-8.5l-204.8 154.3l115-88.4l200.8-260.4l-173.5 185.5l-90.1 118.9l0.1-42.8l-98.5 127.8l13-29.5l89.6-105.1l188.6-217.5l-35.9 50.9l-191.5 259.7l282.4-292.9l-247.1 214.4l46.7-68.6l-125.4 144.4l10 34.4l115.5-175.3l-64.4 108.3l-56.2 30.8l37-14.3l-5.1-30.7l110.5-34.2l55.7-148.2l-65.2 115.6l-82 31.4l89.6 7.1l113.3-195.9l-281.3 291.3l2.5 24.4l33.4-48.2l105.5-148.1l104.6-51.1l-205.7 192.4l99.4-100.2l1.2 38.3l-88.4 47.4l74-50.3l-106.2 109.5l-9.7-20.1l111-115l84.4-23.6l-18.4-10.5l-75.3 59.8l26.8-53.7l-142.2 156.9l30.7-47.5l77.4-19.2l-58.8 25.3l-3.8-3.4l286.2-203.8l-316.3 240.3l269.2-202.7l-98.1 40.4l-58.9 30.1l-90.9 114.4l240.3-284.5l-178.4 239.6l52.9-18.5l-119.6 72.9l-27.2-21l539.9-491.4l-498.1 498.6l56.1-48.1l-11.2 10.3l369.9-397.2l-345.7 391l-34.7 28.6l-81.2 30.8l61 1.6l-45.1-12.5l-8.1 30.4l17.6-21.5l50.9-26.2l-49.6 49.1l35.3-28.1l92.7-123l-55.8 83.5l-63.8 30.3l-8 3.5l136.3-177.9l-46.9 97.4l-72.9 29.3l33.1 11.1l-51.4 50.8l12.5 19.9l158.6-124.6l-188.9 110.4l74.4-104.4l-74.2 106.9l45-44.4l61.3-49.6l-85.1 97l91.7-46.4l-5.5-31.6l-89.3 45.6l73.6-44.8l-96.6 95l62.7-98.7l-4.8 22.2l86-76.4l-90.6 88.2l16.9-11.1l-25.1 24l163.4-193.4l-198.7 178.2l15.4 45.8l83.5-57.1l-7.4-6.6l54-60l-129.5 87.2l-24.8 62.7l33.5-54.5l104.6-114.1l138-141.5l-229.6 275.4l64.8-41.9l153.9-158.1l-267.6 233.1l6.3 1.1l82.5-66.6l33-40.6l-54-8.8l93.3-75.9l155.1-114.5l-245 208.6l143.8-106l-2-40.9l5.5 3.8l-156.9 151.9l126.9-99.9l-67.4 71.1l-94.9 72.1l342.1-306.4l-335.3 310.4l-25.3-19.3l98.9-15.8l-42 22.9l-37.2 17.6l64.1-94.9l-52.5 91.2l-9.8 2.2l193.1-150.7l-23.3-17l-71.3 72.7l81.4-37.9l19.1-97.8l-206.3 221.5l39.7-31.7l108.8-61.2l-100 58.6l-49.5 38l-18.1-10.2l113.3-63.1l40.6-65.3l-81.6 126.5l-23.2-1.6l-50.6 42.5l63.4-49.9l48.7-86.1l-107.8 135.5l289.1-265.6l-265.5 227.1l-23.4 17.9l29.5 2.6l198.3-148.6l-137.8 73.2l157.4-80.4l-179.4 111.2l2.4-4.8l-42.9 45.8l68-38.2l71.2-97.1l28-31.7l-194 184.5l-7.8 16.4l39-36.1l0.6-35.9l-30.8 27.2l35.3-21.4l53.2 23.9l15.2-99.4l-50.8 114.5l126.5-199l-91 125.5l-40.4 24.8l-42.8 39.3l52.2-74.6l-60 78.1l337-341.6l-246.4 277l46.3-87.3l-75.7 91l-48.1 87.7l277.5-277.2l-151.6 140.9l-70.3 34.2l115.5-83l-147.1 161.1l52.5-78.4l5.9 27.1l73.8-64.8l-121.1 73.1l52.8-12.3l-68.2 33l74.3-90.1l179.4-202l10.6 36.9l52.7-11.8l-211.3 161.4l-67.2 37.5l-62.5 91.7l189.9-157l118.1-111.9l-212.3 183l-46.5 74.9l18.6-14.7l-10.6-29.1l-71.6 59.6l26-17.9l62.8-72.8l-56.6 44.7l108-40.9l-128.3 85.7l-7.3 7.7l147.5-139l-143.5 142.7l66.2-22.6l-18.7 6.9l173.8-224.7l201.2-203.7l-411.2 447.1l51.5-105.2l366.4-314.2l-343.3 341.4l13.8-40.8l-71.6 103.5l-7.9-31.6l15.1-28.8l99.9-49.1l-99.5 76.9l344.7-350l-385.5 363l141.6-56.2l-39.2 0.8l10.4-48.9l-107.5 132l235.6-243.6l-233.9 252.4l67.4-35.9l-61.9-3.8l167.8-162.2l-89.4 125.5l29.4-52.5l-72.4 91.5l129.7-114.3l-154 102l-26.7 23.5l2.7 26.8l141.6-101.1l-140.4 98.9l86.4-82.5l-31 22.3l-52.5 75.6l53.6-32.3l43.5-77.2l-73.3 84.3l4.4-20.7l553.4-493.1l-453.9 463l6-46.5l11.2-24.5l165.9-136l-245.9 249.6l-72.3-5.5l17.1 2.5l-15.8 24.3l263-255.3l-254.4 261.3l41-84.4l-18.4 51.2l15.1-17.6l110-128.2l-82.8 98.2l43.4-3.4l-75.4 34.3l99-109.1l15.4-27.7l-80.1 96.9l11.3-25.2l-80.8 104.1l2.3 5.1l229.1-191.5l-205.5 162.3l79.8-44.2l-16.1 27.2l-10.5-47l83.9-26.1l-92.9 34.8l10.3 29.8l-37.1-5.3l90.7-30.6l-82.5 6l-22.6 55.6l149.4-133.2l-174 154.3l202.1-186.9l-140.2 118.1l-3.7 11.1l-2.3-18.2l-24.7 44.4l60.6-15.9l6.4-95.8l-57.8 100.6l83.6-123.4l40.8 44.8l-118.4 83l-53.5 41l593.2-527.1l-573.8 525.6l121.5-63.9l-98.7 5.6l-21 36.8l254.3-252.1l-255.3 248.4l-13.2 43.3l65.2-88.8l48.5-67.3l28.9-48.2l-6.9 80.2l-80.4 61l126.8-114l103.9-80.4l-162.1 80.2l-90 92.7l-13.4 24.9l-33.2 40.1l241.5-213.3l-212.3 181.2l36.9-0.6l-61.4 44.9l119.6-121.8l-19.5-0.4l41.7-19.7l56.6-59.6l-140 146.6l-39.1 14.5l610-572.7l-448.6 468.6l-51.5 25.2l-81.7 107.6l30.5-39l-61.9 16.6l-3.8 1.6l-3 10.7l32-1l60.9-103.1l43.5-61.7l-50.8 99.6l-93 70.7l37.9-34.2l192-111.2l-49-9.6l-90.4 94.2l-41.3 20.9l129.6-73.4l-8.4-64.4l-16.9 22l109.9-71.3l235.9-189.6l-217.3 135l-249.1 290.2l121.1-139.7l-133.7 94.2l11.8 37l203.3-183.7l-186.8 132.1l107.3-105.8l-120.9 95l74.4-60.8l126.8-35.4l-173.7 96.8l-21.3 37.8l30.8-52.7l-60.1 88.7l135-124.3l-28.9 77.9l-80.6-33.8l9.3 22.2l83.2-43.2l72.2-76.1l-126.7 115.2l29.5-32.2l-103.5 102.2l69.2-80.5l-76.1 61.5l39.4-32.2l81.9-89.7l-113.9 99.3l14.2-7.8l35.8-40.1l112.2-54.7l-135 98.9l-34.3 35.7l111-96.7l-68.6 48.1l-23.6-19l42.3 40.3l3-19.4l87.5-51l131.5-153.4l-136.3 126.2l-107.4 81.3l33 12.3l6.5-65.8l-76 100.1l187.9-169l-128.1 112.8l91.7-133.4l-25 70.4l-0.3-4l-94.8 76.3l30.1-20.9l-35.2 60.8l65-55.4l66.6-120.1l-38.8 106.9l175.2-191.4l-93.2 36.8l-177.4 215.2l12.7-36.2l-19.8 60.6l-20.6 1.2l-0.4-1.7l182-217.6l-106.2 161.3l111.7-125.2l-117.2 88.4l-7 34.6l174.4-200.4l-230.9 237.2l76.8-119.1l-18.3 77.4l-9.6-10.9l77.5-51.7l10.6 5.5l-93.2 63.4l89.6-137.2l-1.5 27.5l-111.9 100l142.8-39l-88.4 10.2l-57.7 47.5l26.2-11.1l50.1-38.2l57-13.4l-96.9 6.7l-36.6 73.5l184.3-195.7l-109.4 164.5l-95.2 49.8l-0.5 14.1l166.8-115.7l-154.6 79.2l329.4-327.8l-323.4 336l14.3-13.4l34.6-67.8l75.7-64.9l-108.6 131.4l32.5-75.8l-39.3 81.6l78.6-76l47.2-72.5l31 47.2l-52-30.4l27.9 58.7l55.3-155.3l-103.1 126.2l-107.9 138.7l153.7-100.4l-120.4 75.7l18.1-95l-32.2 84.2l93.6-62.9l118.9-70.3l-194.3 103.1l23.8 0l18.8 31.8l154.7-195.4l-173.6 174l-11.9 7.6l180.2-188l42.5-16l-214.4 162.2l336.7-316.3l-320.8 311.8l-42.2 35.4l42.5 9.4l-24.1-7.9l-50.2 23l6.9-10.9l267.2-198.7l-261.9 202.6l116.5-96.9l-82.1 62.2l10.7 7l15.7-7.6l-71.8 56.8l257.2-251.2l-192.1 189.3l-9.9 35.9l42.6-117.4l-48 94.5l-12.3 5.5l351.1-342.6l-379.2 350.9l19.5 20.6l-17.5-3.5l1-13.4l-8.5 49.7l1.4-32.6l6.9 5.7l9.3-18.3l170.7-83.3l271.1-271.9l-454.7 383.2l50.3-64.3l2.5 12.8l115.7-171.5l11.4 10.1l6.2 72.1l-196.8 136.7l13.3 12.4l1.9-49.1l67.7-29.5l-71.2 56.4l200.5-118.6l-113.7-8.9l-49.1 107.8l-36.1 14.3l191.2-215.7l0.2 15.4l-201.4 233.8l192.8-150.5l-161 93.2l-31.7 48.1l39.7-71.6l-25 68.7l37.5-52.2l6 13.6l-61.2 41.9l32.6-52.6l-0.4 29.4l69.7-78.6l-106.7 78.2l321.7-236.6l-312.2 247.4l66.5-40l104.4-158.1l-150.9 161.6l515.1-516l-529.6 518.7l11.4 17.3l120.1-50.8l127.5-181.3l-154.6 196.3l-114.5 46.7l61.2-37.3l13.3-19.6l144.8-116l-198.6 129.8l17.9 0.5l14.3 16.8l34.9-90.2l-42.6 66.3l-28.1 56.7l126-133.9l64.4-55.8l-179.8 198.4l57.4-95.5l-68.2 58.3l36.3-29.8l4.1 50.4l-44.1 7.4l26.1-24.2l242.6-180l-280.6 209l-2.7 6.2l8-23l46.8-25.2l-12.9 17.6l41.5-88.1l210.4-117.8l-255.3 169.2l3.5 41.1l-46.3 28.7l174.2-165.4l-141.1 137l-17.4-25.8l140.3-119.4l-36.8 34.6l62.1-9.2l-132.3 67.9l14.5 42.9l2.3-35.3l11.2-39.1l-66.7 93.8l17.7-19.1l-13.9 35.3l90-99.8l-26.3 4l-73 55.4l100.6-87.9l-23.2 70.2l30-65.3l-102.2 121.6l19.1-4.8l-10.3-23l18.2 9.6l-35.7 12.3l158-140.1l-159.4 137.1l41.9-57.3l-1.8 41.5l161.2-97l-170.7 81l82.9-64.6l181.4-146.6l-199.4 140.6l-86.2 94.1l33.2-41.5l32.5-15.6l36.3-74.7l-29.8 80.5l-60.1 59l-10.6-1.9l-4.5-11.8l84.1-46.3l81.8-94.3l-148.1 177.8l86.6-121.3l-52.9 53.6l53.1-50.3l-55.9 49.7l98.9-137.4l60.9 40.2l-34.8 37l-149 64.7l-21.7 64.1l28.2-69l148.5-86.1l-147.1 102.1l2.5-11.1l379.7-313.3l-284.6 238l87.8-23.6l-171.8 94.1l30.4-6.4l73.1-82l25.5-22.6l-165.8 165.4l16.4-22.5l80.4-92.6l-101.2 100.1l-3.7 22.1l-3.9-25.2l300.9-247.6l-279.6 272.4l10.7-31.9l301-279l-256.5 244.5l-43.7 37.6l183.5-205.8l-56.2 95.4l-145.2 109.1l24.7 1.9l66.9-84.5l-93.6 80.9l-4.7 38.9l174.2-204.3l-161.9 179l112.1-43.5l-96.2 14.8l128.5-134.8l418.1-440.8l-175.2 185.7l-361 408.1l109.4-84.8l-154.2 109.4l0.8 10.2l31.1-32.9l12.6-51.5l23.1-3.2l-69.9 59.8l198.9-134.4l-7-1.4l-112.6 69.8l-58.4 82.3l-21.3-1.5l30.5-26.9l12.2-12l-38.4 23.5l37.1-11.8l32.8-55.5l108.8-87.6l-161.9 119.5l76.1-52l-27.5 48.7l-45 28.6l2 39.3l-16.2-9.6l7.2-5.7l0.4-25.7l168.2-91.4l62.8-110.3l19.5 12.4l-109.7 99.4l-113.6 73.9l18.9-0.2l58-66l-117.3 105.3l108.4-100.4l-100.5 95.9l30.9-61.5l-25 45.1l-17.9 32.8l26.8-17l-14.7-18.4l21.9-19.7l9.4 25.4l-13.5-38.3l144.4-68.9l-79.9 26.4l208.8-209.5l-265.3 300.4l-23.8-12l27.6-28.4l15.4 15l75.1-103.3l-119.2 156.4l113.6-140.7l216.1-251.1l-273.2 342.2l-41.7-19.5l8.8 23.9l-29.7 11.2l267.5-287.6l113.1-17.7l136.8-141.9l-457.1 410.5l69.7-65.5l-55.7 66l135.7-108.7l-104.3 18.3l-34.5 42.3l-64.8 65.6l93.1-89.4l79.3-41.7l-90.4 75.1l33.7-68.9l-71.4 97.1l15.7-22.4l19.5 36.3l-90.3 65.7l3.7-46.4l48.7-10.7l-7.8-14.5l277.3-216.6l-188.3 140.3l68.2-22.2l-77.9 22.2l-117 133.7l-4.2 11.6l9.4-35.2l116.4-110.7l-123.1 96.6l53.3-34.2l-11.4 56.9l69.9-109l-26.1 5.3l210.4-167.8l-295.4 285.6l-11.8 8.7l325.4-334.4l-235.9 224.6l157-155.8l-83.5 100.8l-126.9 122l191.1-178.6l-62.6 76.4l-163.9 138.2l144.3-103.4l-145.6 115.3l14.3-52.6l9.9 4.3l2.3 14.1l-24 16l48.5-61.2l40.1-18.4l35.4 16.4l73.5-78.2l-102.1 41.7l-87.9 104.7l5.6-22.9l135.9-106.8l-151.2 93.2l71.4-11.4l-31.7 13.8l68.3-64.3l-43.2 67.4l341-373.7l-247.9 326.1l-88-18.9l-53.5 45.6l-10.9 58.6l-0.6-11.6l18-14.6l-3.1 28.1l61-33.2l84.1-142.9l-136.1 141.5l126.1-128l-125.2 153.3l45.6-71.8l-24.8 6.5l220.1-135.5l-0.7-107.9l-258.6 325.2l37.3-62l57-59.8l-90.9 102.1l77.5-58.6l81.8-130.8l-67 82.4l-30.3 41.4l123.7-75.3l-173.4 89.8l160.9-177.3l-115.5 136.6l-19.3 20.1l-5.7 67.2l-42.7 11.4l93.7-132.6l26.8-17.3l-99.3 119.3l51.7-33l22.7-37.5l543-483.8l-546.8 511.9l-70.7 45.6l187.5-123.1l-114.9 54.9l18.1-14.3l-65.7 70.3l25.1 0.6l10.9-31.3l-76.7 43.8l2.1-10.3l22.8-24.9l87.2-67.8l-122.8 133.4l150.1-121.9l49.6-23.3l-181.3 135.5l11.1-41.2l-19.5 35l102.8-45.5l-32.7-12.2l172.3-125.8l-126.8 97l-92.9 49.3l195.3-213.5l-155.5 201.7l147.4-123.9l-157.8 171.5l105.5-129.5l-158.8 125.2l112.5-75.4l20.7-41l-126.7 141.9l179.8-192.3l-147.7 159.8l160.8-152.5l-200.6 169l44.6-25l220.2-235.9l-222.2 230.8l67-100.9l8 43.5l115.9-106l-230.4 154.9l195.9-179.1l-116.3 161.1l-0.8-10.4l82.5-84.4l-78.3 47.7l-16.6 28.9l-2.8 8.7l65.2-21.6l-68.2 39.1l35.1-61.9l-64.9 114.9l130.9-157.1l-169.2 123.7l58.1-12.3l45.7-26.5l70.1-68l-46.8-11.5l138.7-76.6l91.9-59.9l-230.7 176.9l20.7-67l7.7 47.3l-147.1 137.1l188.1-188.7l202.5-231l-361.3 357l92.3-102.8l36.3 35.5l-138.5 75.9l160.6-156.7l-180 195.1l201.9-136.6l-49.9-12.7l237.9-262.9l-394.5 413.3l1 7l31.2-32.8l14.2-4.6l-38.8-13.9l15.8 18.7l-20.7 44.5l59.1-68.4l-36.9 26.3l-26.6 29.9l291.3-250.4l-268.4 237.3l-12.6 28.9l30.7-63.6l21.4-18.1l7.7 2.5l-37.2 27.7l-33.9 40.2l104.5-54.9l92.1-159.6l-167.9 158.2l18.4 35.9l198.8-160.2l-75.9 16.9l-44.5 25.4l174.7-135.4l-234 200.8l103.6-76.2l-172.7 115.7l21.8-5.9l105.8-77.8l117-119.2l-203 225.7l-28.8-8.4l2.3 7.8l349-324.5l-292.1 281l-34.9 65.1l-1.9-38.6l21.8-2.3l192.5-164.6l30-73.6l300-267l-276.8 253.2l-173.4 121.9l27.9 47.4l-102.1 58l1.3 0.8l5.7 19.4l-15.1 17.5l421.8-408.1l-391.9 335.9l-30.3 39l-0.6 12.9l-16.6 10.2l5.8 5.3l-30 0.2l61.3-52.6l-52.5 42.8l44 12.3l-5.7-21.4l106.4-116.8l-101.7 83.3l53.1-11.5l23.4-9.9l-103.8 66.2l-28.5 41.4l92-145.7l-88.1 104.7l54.2-26l33-22.5l-55.8 44.6l36.7-6.1l-45.7-7.7l-9.3 38l-16.9-4.9l106.4-56.7l-65.4 18.3l21.7-60.2l-1.4 67.3l-53.7 53.3l12.7-53.2l216.3-153.4l-97.5 82.6l173.3-221.4l-151 143.8l-139.2 155.2l13-7.3l164.3-117.1l-5.3-59.4l-96.3 98.4l-60.9 81.6l161.3-143.1l-80.6 40.6l234.9-195.9l-277.8 254l-42.4 51.5l10.4-39.4l109 1.2l47.3-109.2l-138 71.3l10.3 59.4l296-335.9l-282.9 268.4l-18.7 38.5l78.3-35.2l-60.4 36.9l5.7-2.1l10.9 27.1l107.6-87.8l-178.6 99.1l76.6-56.7l322.6-342.8l-403 417.9l116.5-152.9l-103.7 141l32-17.9l96-71.9l16.8-9.3l-54 7.4l-123.7 109.4l49.6-47.4l-56.4 46.1l189.6-213.7l-96.9 139.1l-57.9 42.1l30.6 24l38.8-36.1l36.5-96.4l-103.3 115.5l-35.5 42.8l58.7-34.8l286.3-270.7l-298 241.7l-47.7 80.5l25.6-18.3l73.1-75.8l-55.8 58.3l-7.9-5.7l26.3-30.6l10.1 0l-60.2 70l-11.5-28.3l40.9-45.2l-29.5 48.6l159-147.1l-57.1 50.5l-33.4-19.8l108.5-56.4l-168.4 132.7l8.6 9.1l73.1-22.5l144-162.3l-80.5 31.5l6.7 73.9l-36.6 9.8l-25.1 49.5l-99.5 26.2l-9.1 50.5l87.2-85.4l143.1-123l-226.1 186.3l132.5-66.2l-111.6 46.8l219-146.9l-242.4 150.1l30.3-13.8l-6.2 15.9l44.9-35l-72.2 36.2l17-0.3l-1.5 32.7l49.3-94.7l-44.6 51.7l5.1 8.5l68.9-40.1l52.4-81.4l12.5-29l458.9-353l-340.3 224.2l-65.8 126.7l24.3 9.9l-217.2 157.8l-6.8 6.7l54.4-77.5l-2.4 28l-63.5 59.8l16.9-27.1l67.8-63.1l226.7-203.9l57.4-97.9l-269.6 260.8l67.8-78.7l-131.7 139.1l20.3 2.5l-33.8 24.9l4.3 21.9l2.3-21.7l280.8-263.9l-263.1 237.8l-26.5 38l2.9 20.6l9.1-23.5l131-132.7l-112.5 83l28.1 9.1l148.4-165.5l-219.1 244.5l546.9-577.2l-531.6 525.8l290.1-215l-199.1 110.2l-28 93.1l-69.2 43.8l76.6-95l-76.5 47.4l27.7 6.5l175.6-120.6l-149.5 104.8l48.7-61l-99.8 106.4l77.5-91.6l102.7-70.9l-199.2 159.1l56.6-29.4l-11.3 6.2l-25.5 23.1l155.7-93.9l-39.6 8l70.6-60.5l0.1-47.6l-186.5 168.1l60 0.3l142-176.1l-203.8 212.4l109.2-114.7l-94.6 139.1l28.9-92l139-78.5l-41.1 57.9l-43.4 10l-61.3 19l308-318.5l-243.8 274.3l-88 92.7l152.1-171.4l-74.1 114.3l-99.4 65.5l21.5-28.3l148.4-121.6l-174.8 175.9l11.1-39.7l-19 35.5l354.7-288.9l-331.7 282.5l-8-40.5l50-39.9l-15.2-15.8l-48 67.6l28.2 37.5l49.3-110.2l-72 86.9l47.9-47.2l71.3-33l-92 75.7l-4.9 0.8l37.3-60.8l105.8-134.9l-103.4 153.4l-30.2 16.8l-32.8 39.2l10.4-33.2l10.3-18.8l-22.2 51.5l54.1-77.5l56.1-5.9l-42.1 20.9l82.2-72.7l-135.7 129.4l93-58.9l-97.6 62.4l75.7-91.4l162.4-147.9l-244.3 244l134-133l-135.7 124.1l7.8 0.2l218.8-240.1l-205.3 221.2l34.6 3.1l-44.2 22.9l49.6-91.7l-38.1 99.7l124.6-116.3l-53.9 66.2l-67-9.8l135.6-155.4l-153 190.1l38.2-17.7l19.2-78.4l11.1 33.7l-23.5 37.1l37.7-46.8l-77.9 43.7l4.3-5.3l174.2-110.4l-187.9 152.6l53.1-57l9.1 12.1l82-126l112.9-40.8l-255.3 194l21.8-32.8l176.7-154.4l119-130.7l-283.3 318.2l51.3-52l-98.2 65.5l62.9-21.3l-57.4 44.7l118.9-114.1l106.8-80.1l-143.7 69.2l170.7-107.7l-180.9 122.9l16.9-6.3l-77.2 107.6l141.9-99.8l-127.7 21.2l-24.8 60.1l269-254l-74.2 134.6l-112 65l-57.1 11.9l43.7-30.1l-73.8 76.3l61.2-72l123.8-122.5l-131.5 214.1l-23.9-61.7l-8.1 29.7l16-44.1l244-217.7l-127.2 176.2l-154.2 119.2l62.3-54.9l-54.8 43.8l91.9-70.6l-68.4 43.7l-18.3-6l96.2-45l-75.4 36.4l-36.5 39l133.7-79.8l73.6-117.5l-151.8 146l-21.7 35.9l201.2-129.1l-151.6 52l266.9-175.7l-326.7 236.6l127.7-55.8l-121 89.9l136.4-160.2l-134.9 140.7l23.4-32.2l49.9-47.1l-75 59.9l22.5-38.5l-29.2 61.3l180.6-187l-134 151.1l119.7-118.2l-46.1 68.5l2.3-30.1l-125.8 96.2l110.7-104.6l-92.7 110.3l227.3-167l-117.7 72.8l-126.1 97l96.9-77.7l36.4-70.2l-95.9 122.9l-34.1 62.1l24.7-55.9l-33.1 52.9l6.4-21.6l111.6-108.3l-26.7 23.4l197.9-150.7l-176.1 154.4l198.4-228.7l-124.6 118.5l-126.1 101.4l-32.4 33.6l12.9 16.2l43.5-33.3l51.9-56.1l-129 140.5l16.4-59.1l99.4-10.6l-82.2 51.8l7.2-24.9l4.9 12.5l-27.2 33.4l-33.5 17l284.3-297.1l-253.6 250.8l-24 17.3l-0.2 7.8l2.5 8.8l-7.5-24.8l165.5-89.5l70.1-108.1l-175.6 153.5l-29.9 35.7l193.8-206.5l-16.9 27l-149 155.2l-25.1 67.1l25.5-53.3l-65.2 56.1l73.7-75.7l-24.5 34.4l45-32.3l-49.2 16.2l133.3-175.7l158.7-96.3l-76.8 93.4l-101.5 122l-135.8 53.5l8.4 33l158.9-167.5l-41.1 9.7l-63.1 63.5l-5.1-3.3l36.3-4.7l-91 85.9l-27.3 8.7l140.5-90.2l-67.7 30.2l55.2-68.3l63.8 28.4l-127.5 47l91.1-19.7l201.8-235.2l-65.6 62.3l135.5-155.7l-346.9 331.1l-41.6 89.3l173.2-166.3l-182.7 138l-5.1 0.4l119-99.9l-46.1 19.7l-30.5 53.3l-56.6 32.3l298.3-288.7l-258.2 266.3l48.3-46l-22.6 2.9l93.7-38.1l-139.1 99.2l201.4-164.4l-184.6 147.6l373-308.7l-206.7 117.9l-31.5 132.2l-64.5-15l-62.5 82.8l-50.2 52.6l46.4-94.3l2.1 19.6l-20.4 30.4l26-19l15.6-51.1l24.1-13.3l43.3 17.1l-130.3 62.4l-4.2 28.4l-1.1-7.9l43.7-38l106.9-67.8l-139.5 85.8l240.6-227l-94.7 116.1l-154.3 110.6l284-265.2l-152 181.8l81.6-82.7l-74.4 91.7l-122.6 66.5l-9.1 8.6l215.7-191.3l-234.2 237.1l289-286l-173.1 165.4l-70.7 90.5l135-109.2l-171 96.2l44.8-43.7l160.9-163.4l-209.4 229.4l134.7-87.2l-115.9 69.3l2.6 5.4l130.1-60.9l-120.8 43l162.5-110.9l-90.8 8.8l-80 111.7l10.5-18.3l43.6-22.4l-35.6 21l29.8 6l-69.6 32l38-19l-43.3 36.9l105.3-117.2l147.2-79.8l-244.9 148.4l-9.9 56.3l69.8-73.7l-30.3-2.2l169.1-137.9l-195 192.3l-5.8 11.5l138-78l-124.8 40.6l-14.1 2l54.6-22.4l151.6-122.3l-161.6 130l-12.6 31.1l-17.5-46.9l72.1 20.4l-33.4-31.1l74.4-36l-119.4 94.5"/>
<path class="pr" d="M547.7 16.8l-88.1 275.1l-248.9 227l415.8-398.5l-29 244.2l-305.2-113.2l-237.4 270.5l551.9-303.1l-179.1 202.8l-24.2-1.2l-215.7-78.3l-1.1 28.4l112.3-120.8l189.9 29.9l-446.7 199.9l151.8 58.6l114.6-260.3l5 164.8l9.3-47.6l38.6-187.9l148.8 7.4l-295.3 104l-59.6 107.6l242.5-66.5l27.5 66.9l16.4-359.7l-317.7 310.4l348.3-11.8l-43.4 2.8l-133.7-108.8l-24.2 52.1l-129.8 120.4l294.5-96.3l-3.3-185.5l-107.8 242l311.4-45.6l-230.1 49.8l-240.1-13.5l-37.2 53.5l249.3-61.4l-257.7 45.4l516.6-281.1l-312.4 42.6l248.5 26.7l-74.7 213.6l-208.1 52.4l-9.5-13.3l169.8-327.6l-86.6 22.7l-196.3 196.9l411.2-70.3l-88.2-5.1l-300.7 114.2l76.3-85.7l115.6 50.6l106.9 42.3l-165.2 43.9l195.9-96.7l-323.5-11.7l158.4 52.4l-149.4-34.4l-55.9 74.9l430.6-425.3l-280.3 494.9l-120.9-184.6l93 1.7l136.4-210.8l-205.3 428.9l433-410.1l-512.8 333.4l285-48.2l-201.9-33.8l299.8-134.7l-182.3 9.7l-122.7 276.3l173.8-73.7l-163.4-143.8l-29.9 75.3l143-165.9l-216.1 200.2l58.3-49.5l241.2 11l-210.6 183.1l311.3-300.2l-371 152.4l-69.5 80.5l20-10.2l35.7 110.1l34.6-16.4l-5-176.3l111.1-87.4l30.4-107.1l-249.9 298.6l332.9-364.7l-315.5 368l209-56.3l153.7-153l-295.4 110.8l15.9-8.4l351.8-381l-117.9 118.2l-116.3 339.7l109.9-67.9l234.9-239.7l-378.7 338l-67.2-90.6l462.6-266.7l-303.2 264l-207.5-0.7l429.1-188l-505.6 309.2l114.9-147l19.1-31.6l212.7 27.3l114.5-124.4l-170.3 182.6l63-10l-239.9-21.1l188.4 30.9l-11-6.8l77.8-73.8l-247.4 215.6l223-174.7l-291.5 85.7l347.8-73.2l-82.1-31.5l283.7-276.7l-516.2 325.9l34.8-14.5l275.4-125.7l-108.9 104.3l-120.7-46.9l113.5 73.8l121.5-310.8l-11.9 11.2l-157.7 179.9l122.8 121l-211.1-120.8l95-178.3l-226.6 401.7l30.4-27.7l101.4 69.6l-27.9-151l375.2-113.4l-167.7 98.5l-302.9 109.9l17.3-28.5l224-258.8l-198.3 222.6l247.1-211.9l-314.8 297.8l284.6-135l224.7-91.3l-253-67.4l110.5 89.2l-76.6-93.7l-65.2 65.5l31.4-29.2l45.3 184.9l-138.4 75.5l-2.2-199.9l-55.3 242.5l32.1-270.2l-38.7 68.6l70.2 138.3l194.2-350.3l-85.6-58.4l98.9 9.1l-63.8 258.3l171.9-24.1l-92.1-229l-201.1 228.8l172.9-27.5l-172.2-3.3l134.3 59.4l68.3-264.4l-30.4 278.5l-21.1-39l-214.8 18.3l46.2 143.6l-72.7-130.8l259.7-22.9l252-230.2l-357.8 299.1l-92.8-75.5l99.1-123.6l15.8-116.1l40.6 75.9l-177.6 351.8l154.3-424.6l-26.2 57.3l6.3 235.1l177.1-388.5l-115.9 412.5l-271.6 35.4l25.3-37.4l29.6-24.2l172.2-199.4l-68.9 13l-252 352.8l260.4-288.7l-48.4 214.5l37.4 9l16.4-317.1l146.1-68.5l-74 91.9l-80.4 103.7l125.1 75.8l-258-0.8l291.1-324.6l-297.8 341.2l140.5-159.1l65.8-6.6l-154.8 152.2l358.5-133.3l-428.3 155.6l187.6-145.5l-175.8 125.4l-9.3 31.4l270.6-50.3l131.9-122.4l-292.5 22l-39.9 277.2l42.3-211.7l-122.8 140.7l227.5-84.8l77.1-241.7l149.7 119.2l-332.2 83.5l159 22l-245.1 29.7l250.4-12.3l-223.2 156.5l79.2-51.9l225.2-237l-321.4 164.5l144.9 4.5l-36.5 61.4l49.2-68.3l129.7-281.5l-38.6 2.8l-2.9 12.1l-221.9 403.6l186-65l295.8-314.4l-134 119.7l-92.4-223.8l-276.6 319l68.6-44l29.4 124.4l386.6-302.6l-306.4 48.6l97.2-69.7l-133.9 73.4l135.2 187.8l-126.4 6.9l-19 69.4l16.5-54.3l105.2-56.5l-40.2-188.1l-166.3 329.1l108-40.4l-143.6-67.1l99.6-131.9l-108.6 298.4l172.5-172.5l60.8-56.8l7.6 54.6l-133.4 74.1l194.2-165.3l-286.9 12.3l490.6-217.4l-573.8 325l95.5-36.4l10.8-54.8l180.6 82.1l66.2-273.7l-258.6 244.5l-72.9 70.6l395.3-190.9l-135.3-59.8l157.7 44.2l-312.9 253.3l302-146.7l26.1-12.2l-271.2 103.2l60.7-323l-65.5 333.9l-155-49.1l28.2-3.8l227.8-208.4l-2.7 291.1l221.9-279.7l-234.1 161.9l-73.3-96.7l-87 279.1l-111.1-82.3l247.5-225.7l161.5-17.4l-4.2 28.7l-325.4 71l-21.9 55.9l60.6-37.4l191.2-275l-6 260l-116.4 164.1l172.8-187.4l-26.7 173.6l-245.7 58.5l234.8-429.9l-262.5 322.6l425.7-253.2l-242.3 56l-207.7 189.6l150.3 64.5l-119.3 85.9l258-170.1l91.1-63.7l101.5-48.6l-322.8 168.3l-98.6 87.1l226-182.7l27.5 3.3l-27.9-32l142.4-18.6l-248.2 126l37-197.5l23.6-129.5l-114.8 208.4l-95.5 59.6l20.7 19l331.2-338.4l-316.8 312.4l103.4 86.8l-268.7 88.2l171.9-26.5l113.5-57.3l78.9-129.6l125.4 22.1l-262.1-62l74.2-138.7l-159.6 199.1l302.1-334l-137.6 381.3l-34.4 16.2l184-180.2l-136.8-7.5l108.7 144.2l-40 25.2l31-46.7l-110.3-159.6l-60.8 62.8l374.6-6.3l-550.7 207.4l565.4-393.4l-209.3 260.1l-50.1 190l49.8-163l-251.8 180.8l-2.1-211.2l96.3 108.6l-155.7 2.7l90.2-87.6l119.1-126.7l67.3 138.9l89.3-291.6l36.6 274.8l-333.8 11.5l227.3 93.8l-337 11.7l156.5-134.8l65.9 84.3l170.2-324.9l-358.2 339.1l130.8-164.8l331.6 33.2l-436.7 112.1l205.1-29.4l-242.4 28.2l74.2-76l439.5-154.6l-475.2 194.5l132.7 59.7l-22.4-152.1l101.4 75.1l-149.2 10.5l80.4 124.7l151.1-200.8l36.7 7.9l-158.7 115.7l-213.2-35.7l248.3-17.7l-187.2 210.6l259.9-170.8l75.7-144.4l143.3-129.3l-392.1 150.9l112.2 218.4l72.2-183.9l-56.3 141.9l-235.3-92.6l5.9 40.9l115.7 118.8l23.9-2.8l-87.6-181.6l216.4 71.4l-268.8 151.5l31.9-186.8l96.2-159.5l-14.8-37.8l261.5 198.2l-32.1-73.9l-141.8 88.7l47.5-18.2l-160.5-173.9l-83.1 129l122.6-28.5l-161.9 104.8l321.4-111.9l-102.7-80.4l72-150.5l-155.4 399.7l-2.7-319.5l384.5 61.2l16.9-63.1l-220-33.6l-185 388.7l-70.8-129.3l374.6-8.5l-343.8-48.6l157.9 45.4l-68.8-134.7l-1.3 203.5l87-11.4l3.5-28.8l34.6-41.9l136.3-147.9l-300.3 289.5l175.3-139.4l-207 143.6l-114-78.4l149.5-185l200.9 93.2l130.6 13.1l-342.7-102.7l259.6-181.4l-199.2 220.1l226.8-33.2l-145.9 93.9l-271 89.4l209.8-225.3l-101.3 152.4l-62.1 200.8l65.2-60.5l-62.2 69.3l12.9-168.3l25.1-22.8l-86.4 80.9l293.5-299.5l-192.5 393.6l431.9-274.7l-293.6-73.4l-148.3 142.4l120.5 96.2l23.1-60.7l-160.6-56l405.6-148.8l7.1 9.2l-115.2 162.9l-136.1 38l-23.7 72.7l-19.4-20l-103.9-79.8l249.2-8.1l-308.6 236.3l109.6-101.4l184.6-166.9l-17 86.5l-120.2 59.5l-42.5 34.9l-39.5 26.8l278.5-34.4l-73.8-81.9l95.8 27.2l-347.1-84.3l237.8 61.8l112.4-349.2l-351.6 289.2l-21.8 33.7l-15.6 39.6l12.7 9.4l470.3-291.6l-408.7 183l55.3-4.2l-88.9 61.1l-28.2 46.5l46.1-51.8l387-163.9l-280.9 39.4l-153.8 140.5l-65.2 100.7l564.4-233.7l-553.3 209.1l319.6-73.6l-4.6-12.8l-250.4-2.6l-27.2 224.3l182.7-364.5l181.9 237.8l-10.4-150.4l-165.2 99.3l-123.4-95l78.1 155.3l140-85.3l-154.6 67.6l144.4-86.6l-258.1 188.7l149.1-60.4l192.6-479l-364.9 393.3l253.5-36.4l-118.3 106.7l-155.2-50.9l258.4-345.2l151.2 309.9l-260.7-125.2l-110.8 116.2l383.3-74l-390.9 258.9l159.3-132.9l53.7-234.2l61 161.8l-210.1-63.7l92.1-33.8l112.1 78.8l210.8-168.4l-363.1 287.7l83.5-70.8l-128-51.6l101.2-207.2l104.1 323.9l-188.2 33l107.3-7.3l-91.6-206.1l68.4 127.9l-16.8-143.5"/>
<path class="l45" d="M0 644.2 L660 0"/>
<path class="lb" d="M0 579.78 L594 0"/>
<path class="lb" d="M66 644.2 L660 64.42"/>
</g>
<rect class="sp" x="0" y="0" width="660" height="644.2"/>
<path class="tk" d="M-6.5 644.2H0M0 644.2V650.7M-6.5 536.83H0M110 644.2V650.7M-6.5 429.47H0M220 644.2V650.7M-6.5 322.1H0M330 644.2V650.7M-6.5 214.73H0M440 644.2V650.7M-6.5 107.37H0M550 644.2V650.7M-6.5 0H0M660 644.2V650.7"/>
<text class="tl" x="-15" y="652" text-anchor="end">0</text>
<text class="tl" x="-15" y="544.63" text-anchor="end">10000</text>
<text class="tl" x="-15" y="437.27" text-anchor="end">20000</text>
<text class="tl" x="-15" y="329.9" text-anchor="end">30000</text>
<text class="tl" x="-15" y="222.53" text-anchor="end">40000</text>
<text class="tl" x="-15" y="115.17" text-anchor="end">50000</text>
<text class="tl" x="-15" y="7.8" text-anchor="end">60000</text>
<g clip-path="url(#xc)">
<text class="tl" x="0" y="674.8" text-anchor="middle">0</text>
<text class="tl" x="110" y="674.8" text-anchor="middle">10000</text>
<text class="tl" x="220" y="674.8" text-anchor="middle">20000</text>
<text class="tl" x="330" y="674.8" text-anchor="middle">30000</text>
<text class="tl" x="440" y="674.8" text-anchor="middle">40000</text>
<text class="tl" x="550" y="674.8" text-anchor="middle">50000</text>
<text class="tl" x="660" y="674.8" text-anchor="middle">60000</text>
</g>
<text class="al" x="109.1" y="717.6">True Cumulative Oil Production (m</text>
<text class="sup" x="523.98" y="708.1">3</text>
<text class="al" x="534.28" y="717.6">)</text>
<g transform="translate(-106.1 581.2) rotate(-90)">
<text class="al" x="0" y="0">Predicted Cumulative Oil Production (m</text>
<text class="sup" x="470.67" y="-9.5">3</text>
<text class="al" x="480.97" y="0">)</text>
</g>
<text class="r2" x="43.5" y="59.7"><tspan class="it">R</tspan></text>
<text class="r2s" x="65.6" y="48.6">2</text>
<text class="r2" x="82" y="59.7">=</text>
<text class="r2" x="111.6" y="59.7" textLength="76" lengthAdjust="spacing">0.835</text>
<rect class="lg" x="289.6" y="434.2" width="357.7" height="197.8" rx="8.5"/>
<path class="lr" d="M304.5 458.7H350.1"/>
<path class="lbl" d="M306.4 489.4H348.9"/>
<circle class="mb" cx="327.7" cy="521.7" r="2.3"/>
<circle class="mr" cx="326.1" cy="577.5" r="2.3"/>
<text class="lt" x="363.2" y="466.5">45</text>
<text class="ltd" x="387.7" y="457">&#8728;</text>
<text class="lt" x="406.3" y="466.5" textLength="108.6" lengthAdjust="spacing">straight line</text>
<text class="lt" x="363.2" y="497" textLength="227.4" lengthAdjust="spacing">Absolute error = 6000 m</text>
<text class="lts" x="593.1" y="490">3</text>
<text class="lt" x="363.2" y="528.5" textLength="256.8" lengthAdjust="spacing">Sample point of cumulative</text>
<text class="lt" x="363.2" y="556.4" textLength="128.1" lengthAdjust="spacing">oil production</text>
<text class="lt" x="363.2" y="586.5" textLength="252.9" lengthAdjust="spacing">Sample point with absolute</text>
<text class="lt" x="363.2" y="615.1" textLength="221.7" lengthAdjust="spacing">error exceeding 6000 m</text>
<text class="lts" x="585.8" y="608.1">3</text>
</g>
<g transform="translate(989 11.2)">
<g clip-path="url(#ax)">
<path class="pb" d="M162.6 446.5l-77.1 163.3l-55.9-5.2l-9.5 23.8l104.4-106.4l89.3-59.8l223.2-191.5l-295.5 180.8l-117.3 191.9l64.3-105.6l-81.2 85.6l135.2-90l-127.2 58.8l-0.2 28l47.1-87.8l-44.7 102l42.9-57.2l76.3-13l5-42.9l63.8-63.9l-180.7 164.3l223.8-275.2l-173.8 221.3l-46.3 59.1l187.7-148.7l-110.4 33.6l-100.5 125.1l50.6-101l-44.8 76.5l13.9 10.8l72.9-35.6l8-46.1l-101 84.4l53.5-39.6l-39.2 54.9l80.7-76.3l16.5-54.9l-77.3 80.4l-4.1-9.8l-30.6 62.7l153.3-167.3l-114.4 99.1l22.4-43.7l-32.7 77.1l-24 32.8l104-108.9l-61.9 72.2l-24.4 38.2l-15.2 1.3l251.3-246.5l-168.8 152.3l31.3-43.5l-38 59.2l-10.6-35l23 31l-79.8 29l166.6-87.2l-142.2 91.4l-19.6 46.4l275.5-243.8l-297.5 245.1l319.8-250.4l-202.1 150.1l-78 73.7l20.6-77.5l-1.8 57.8l106.5-166.8l-98.3 137.5l25 19.6l-45.8-6.7l33.6-59l95.8-21l-153.2 133.6l-4.5-19.6l47.8-60.2l-13.9 32.3l-15.4 49.6l68.6-136.3l-107.2 131.5l109.1-126.2l-51.2 94.9l239-286.6l82.3-28.1l-56.7 7.6l-294.4 315.9l-23.7 15.4l102.1-104.1l-76.8 82.5l9.5 2.1l49.2-33l-79.4 72.1l151.5-162.3l-159.9 150.8l41.8-58.4l-18.7 20.7l78.9-91.5l-37.9 26.1l-9.8 67.7l50.1-20.1l-18.5-35.6l14.8-19.6l103.5-33.4l-146.6 74.5l-53.3 65.5l10.6 9.5l24-62.1l121.5-111.7l-123.3 137.9l-21.3 40l74-142.3l-70.9 104.9l-5.3 3.1l15.2 5.5l23.4-60.2l11 18.6l-1.5 37.8l154.5-209.6l-111 142.3l-16.2 8.7l170.8-173.2l-88.5 103.6l386.6-345.4l-525.8 456.7l224.2-169l-253.4 193.4l125.3-76.6l-121.5 79l12.3 11.3l101.7-63.6l-97.3 25.2l-7.4 6.6l15.5 1.6l132.4-100.4l-127.7 94.7l-26.5 37l29.8-33.7l258.4-254.4l-256.8 234.5l2.9-3.2l19.7-8.5l-62 57.1l133.1-147.4l-129.9 140.9l121.2-159.4l11.3 81l101.7-114.6l-91.7 63.1l-148.1 157.7l98.8-124.5l21.9 55.6l-51.5 46.1l36.7-98.4l-90.7 96.4l17.4-12.7l148.1-151.2l-179.5 185.4l39.6-28.5l-8.9-19.1l-19.6 16.3l-9.4 16.3l4.7 7.6l37.2-21l103.5-70.6l-106.6 43.5l-31.7 42.8l253.1-272l-36.5 51.7l-188.8 192.3l6-23.7l-2.3 6.3l-25.2 28.9l87.1-77.2l38.5 23l162.1-249.1l-267.9 327.1l52.2-120.1l-6.1 63l-40.6 22.9l-37.6 35.9l66.3-51l-42.7 22.9l-10.9-10.8l121-117.2l-97.7 92.8l43.4-38.8l-35.8 58.6l-43.8 30.9l20.5-27.8l113.3-67.7l-95.7 65l-14.1 5.4l48.9-45.6l74.2-87.6l37.7-15.2l147.4-121l-287.9 252.9l-8.8 9.2l-20.6 19.2l49.3-32.6l14.4 17.6l81.8-172.9l208-157.1l-303.6 271.2l-25.1 50.2l99.6-133.1l-115.4 149.2l112.7-44l-134.4 58.4l6.6-10.1l29.5-23l150.4-156.2l-150.8 135.9l-22.4 51.7l-3.5-22l-11.8 47.3l177.4-168.1l-112.2 86.6l378.2-357.1l-281.3 293.5l-83.5 15.2l-61.9 96.7l16.2-44.2l25-37.2l-38.3 88.4l59.1-60.6l-27.9 5.2l-7.4 19.4l-26.7 28.9l41.6-44.9l-16.6 30.2l27.9-22.5l-63.4 56.7l11.7-9.4l-20.8 8.6l58.2-56l245-253l-304.3 325.5l31.5-8.8l81-154.5l-70.2 89.7l359.7-344.6l-322.6 381.1l-24.7-55.1l120.7-94.5l241.1-263l-334.7 355.8l4.3-30.3l-47.8 94.4l108.7-123.3l-104.5 108.1l212.7-257.1l-207.7 236.5l75.6-88.4l-48 55.7l-74.2 75.3l289.6-249.2l-203.7 188.1l13.2-25.4l-94.9 109.5l5.5-11l12.5-45l-1.5 32.2l20.1-48l232.8-230.1l-272.9 299.3l34.6-22.4l-15.6 20.6l109.4-146l-120 118.4l10.2 0.3l150.4-161.1l-34.7 83.5l-37.1 40.4l61.9-124.6l-111.8 182.2l18.8-78.8l-65.6 68l89-44l-48.4 7.2l-39.5 33.2l133.2-94.6l-78.2 39.3l-34.1 31l168.9-199l-187.6 247l60.2-44.3l223.3-277.9l-100.8 187.5l-173.9 107.6l2.8 3.3l36.9-46.7l152.1-169l-54 100.3l-132.6 128.9l21.9-16.8l-37.2 27.1l54.3-48.8l281.3-224.3l-335.6 273.3l75.2-97l-63.4 99l4.8-44l17.7-6.5l2.9 27.2l23.2-89.9l-0.5 107.7l-41.6-26.4l121.6-111.2l-59.4 2.5l-37.8 99.5l164.4-181.2l-28.3 22l-88.9 166.8l-84.2-1.7l7.5 35.4l3.2-37.8l346.9-263.6l-361.1 291.3l50.1-25.8l-56.1 26.5l167.4-113.3l152.5-185l-258.8 192.5l-48.3 89.2l19.6-18.3l-10.1 30.5l24.1-68.9l-12.9 81.9l-21.4-5.7l30.7-59.7l98-63l-121.6 105.8l73.5-97.9l-54.8 49.2l97.8-122.5l-120.8 194.6l60.3-112.7l-57.1 98.4l431.1-368.6l-430.7 344.2l142.4-79.4l81.5-67.1l-143.8 86.1l42.7-21.8l-110.6 53.3l-20.6 32.2l31.4-25.6l-14.4 43.1l-7.3-5.2l20.6-14.4l68.8-109.5l-108.1 146.2l48.4-51.3l64.3-50.9l83.1-78l189.1-190l-253.7 278.7l-0.5-9.2l25.1-88l-106.4 116.8l14.5-51.5l-6.1 54l68.5-30.2l-79.7 32.5l50.3-36.9l-64.9 26.5l-13.9 56.6l70.3-65.2l-48.7 43.1l30.9-65l13.4 17.4l-14.9 29l4.3-37.7l-46.7 55.5l44.8-51.6l58.7 13.8l-44.3 41.1l-75.6 28.1l15.4-7.2l94.3-51.1l-71.1-27.5l43 1.3l-60.1 44.4l63.1-9.1l-75.5 27.5l-9 1.4l308.2-251.9l-231.5 218.2l63.1-99.3l-119.1 163.6l24.6-88l16.1 6.6l-65.2 62.7l46.5-27.1l68.7-61.5l-64 19.5l-28.3 12.2l3.3 32l-27.5 29.5l13.6-40.4l-17.7 53l68.5-72.5l12.7-0.9l18.5-73.7l-49 69.7l-38.8 70.4l0.6 5.5l36.2-62.2l-12.6 56.3l65.3-125l11 59.2l-1.7-50.9l-7.7 5.5l-51.1 37.8l200.3-206l-228.2 257.3l5.8 4.4l23-59.9l-19.9 70.2l31.4-61.8l10.8 58.1l-13.9-31.3l22.9-45.4l-5.8 30.1l-6.7-34.1l-12.7 3.3l-32.8 69.4l84.7-105.1l47.3-8.1l-126.8 120.4l118.7-133.6l-80.6 43l-24.1 46.4l46.6-59.5l377.4-353.4l-400.3 401.2l-62.8 58.1l15.4 5.8l31.1-30l-5.5-50.2l-11.9 30.9l-6.5 58.3l13.7-13.8l-43.9 2.1l39.2-16.9l91.7-54.8l-119.5 78.5l64.8-119.4l-62.9 130.9l8.4-27.1l211.5-193.8l-157.2 105.5l14-27.4l14.3 10.3l426.1-425.2l-522.8 540l14.7-2.4l15.6-53.8l92.1-52.8l425.1-441.9l-490 470.2l21.2-44.2l93.3-64.1l-114.6 119.4l-64.5 80l46.8-31l-9.6 20.8l-22.1-4.7l87.4-68.5l-65.8 30.1l-36.1 60.3l122.8-183.2l-85.5 175.4l-37.4 6.3l119.1-105.6l-10.2 23.2l-37-8.3l127.7-81.1l-193 173.4l64.7-99.3l-1.7 24.5l-5.4-15l-22.6 17l116.9-83.3l-160.6 145.1l74.2-113.8l-34.3 97.1l-17.1-23.2l44.1-48.2l64.9 7.6l-93.6 42.3l110.9-43.2l289-296.2l-418.9 361.5l-1.8 20.7l7.2-0.5l-20.6-3.9l181.6-207l140.9-90l-283.2 276.4l109.9-133.9l-106.8 128.7l22.9-25.2l-39.7 25.8l-1.2 15.5l76-96l1.5 40.8l127.4-154.3l-148.9 97.6l-40.5 86.5l73.8-132.7l-52.8 110.6l83.3-27.7l-136.1 62.9l54.5-59.1l-62.5 89.6l47.3-25.5l-40.8 16.9l55.4-29.1l-61.3 19.4l3.6 5.1l-8.4 5.2l108.6-73.2l17.4-78.6l-94.8 119.2l19-38.6l52 17.6l-85.1 23l263-189.5l-201.3 176.9l-61.7 3.7l148.3-168.2l69.5 27.3l-228.5 185.9l44.3-34.8l78.1-84.7l355-344.3l-446.8 380.5l-34.7 78l12.6-39.2l64.6-64.9l133.6-90.1l-203.2 201.8l86.1-122.1l-78.7 82.5l26.9-2.5l-42.9 44l309.4-247.7l-271.1 195.6l-12.8 29.1l167.8-183.9l-71.4 94.7l-81.8 53.9l14 3.9l31.7-59.1l-35.4 85.4l-41.1 16.3l37.1-15.3l57.9-41.8l-47.6 3.1l49.3-72.9l-69.7 98l159.6-175.4l-155.7 163.9l-15.4-8.7l291.7-250.3l-171.9 115.8l-115.5 127l92.9-105.1l-55.5 89.8l-5.5-33.7l68.1-26.1l-113.4 124.7l3.4-19.2l-7.2 29.3l5.9-40.6l-8.2 42.4l163.2-208.3l13.4 65l-184.3 117.7l-1.1 32.7l13.1-0.9l40.6-94.5l-50.2 87.8l13.2 1.3l140.1-177.8l-133.9 144.2l-23.5 39l151.9-141.7l-144.7 138.9l68.8-106.7l-58.3 99.6l70.9-99.8l19.6 3.4l-72.2 62.1l30.4-0.8l-24.7-26.3l-12.7 17l16.4 14.3l16.6-11.3l152.3-120.1l-194.1 119.6l-12.3 33.2l154.9-159l-82 117.2l-33.2 38.4l-24.2-8.3l9.4-33.5l81.4-71.7l59.4-54.5l312.9-314.5l-400.5 393.5l-59.6 66.2l89.1-80l-102.4 77.3l14 23.9l13.8-54.9l-2.5 11.1l-35.8 66.6l57.4-29.6l-48.4 31.6l-11.6-1.1l217.7-247.1l-163.5 194l-50.4 52.2l84-77.6l-63.6 24.3l196.1-112.9l-204.2 151.9l7.9-20.7l24 20.3l-36.3-34l-12.5 50.6l-0.6-17.4l77.1-20.3l-59.3 16.8l11.7-43.7l3 33.9l69.4-70.8l43.7-42.9l-35.4 43.9l-57.8 49.1l17.3-24.2l-32.9 56.7l-28-17.1l35.5-1.2l-38.1 37l-2.2-2.8l9.4-22l14.4-6.1l20.8-56.8l11.6-12.3l28.6 18.6l128.8-143.5l-50.7 120.9l-98.2 23.4l18.2-37.7l-29.9 97.4l-35.3-7.8l37.3 0.4l-11.5-74.9l3.4 55.7l153.8-184.7l-159.3 159.7l-36.4 62.8l7.3-19.3l181.9-171.8l-152 183.1l58-115.3l-79.4 97.4l-20.6 30.4l93.7-120.3l-64.7 94.9l-9.1-4.4l189.4-173.6l-9.8 10.1l-197.7 158.7l-0.5 32.2l212.2-222.3l-158.8 139.2l-4.7 48.7l-23.6 0.5l10.4-16.5l1.1-26l218.9-116.1l-196.6 116.3l-42 73.1l5.1-2.5l7.2 13l-34 0.2l17.5-0.5l-8.8-8.4l41.5-17.6l19.9-37.7l6.6-27.3l-41.8 25.6l74.4-72.6l-95.1 115l135-177.3l-67 94.1l-33.5 72.3l23.6-24.5l-31.7 31.5l14.3-57.8l15.8-19.5l-61.3 83.1l201.5-133.2l-172.2 74.3l81.4-14.2l-88.1 80.6l23.6-49.9l-4.6-25.6l-20.7 56.1l29.9-31.9l-32.4 40.7l3.7-11.4l14.6-31.7l-29.5 63.3l220.1-173.3l-170.6 108.1l-48.8 51.2l-3.4-1.9l76.6-87.4l-88.4 107.2l33.1-52.5l33.5-19.7l246.4-229l-302.6 301.4l16.6-17.2l32.6-1.2l-25.9 8.7l62.1-110.1l-94 115.2l7-26.4l392.4-384.2l-135.1 210.7l-248.4 182.8l2.6-44.9l-1 41.7l45.6-47.6l-0.9 17.6l-17.7 22.4l51.5-48.6l-83.7 74.9l83.6-124.2l-96.7 94.1l0.2 19.3l-2.5 0.9l46.7-70.3l-33.1 46.9l-0.3 7l28.8-14.1l6.3-39l-14.4 18.9l38.4-41.2l164.4-150l-166 150.2l9.5 6.2l29.4-55.2l-0.5 87.4l-59.7 3.6l-0.8-7.5l37.5-19.6l93.6-111l-178.6 174l62.5-19.9l68-62.3l-30.2-24.1l18.6 51.9l-9.3-34.6l-2.6-47l32.9-1l-78.2 57l-47.8 72.5l-11.4 36.8l124.4-158.9l-55.1 79.9l-54.8 60l173.1-157.7l-183.4 169l75.7-69.6l62.3-7.2l-140.7 84.5l-4.2-0.9l38.1-46.5l271.6-208.7l-117.2 75.8l-160.2 131.9l-23 49l75.9-75l-53.1 27.8l135.5-113.6l-149.4 124l66.8-19.2l-59.6 4.2l125.8-59.9l-147.4 80.2l28.8-32.4l172.6-76.8l-57.1-16.6l-130 158.5l192.9-262.4l-132 120.6l-29 76.5l118.7-125.8l-168.2 174.7l3.9-29.9l139.6-141.2l-141.9 167.2l35.6-6l40.1-59.3l136.3-148.6l-122.3 111.7l-47.3 47.1l-7.9 40.6l3.9-48.3l7.4-30.4l-44.2 104.3l-0.6 8.7l41-92.6l56.1 0.5l-100.9 87.7l36-9.8l-15.2-29.6l7.9-41.2l8.6 24.1l0.9-15l-35.8 61.5l56.5-79.2l-59.1 90.3l13.4-40.4l45.6 2.3l110.5-162.6l-104.3 79.7l-25.9 43.2l16.4 19.8l-8.3-1.8l365.7-317.1l-241 191.4l-121.8 144.2l-3.6-22.4l-25.3 30.9l32.3-73.1l-33.9 69.9l397.3-410.5l-365.1 381.1l-25.3 29.9l32.8-56.8l-3.2-17.8l-47.1 88.7l124.8-88.6l16.2 11.6l-63.5-45.7l-54.6 114.9l-4.8-54.3l46.2-13.4l123.7-151.1l-168.4 219.8l10.4-2.5l-31.8 31.6l329.9-322.7l-302.1 280.2l46.5-17.9l127.1-161.3l-189.4 170.1l23.5-8.2l-4 50.4l506.2-460.8l-461.1 431.2l73-86.4"/>
<path class="pr" d="M478.3 52.5l-53 60.6l-368.2 388.3l101.8-79.6l127.1-154.9l-251.1 278.8l301.4-334.2l-85.9 307.5l-151.3-42l116.3 57.9l299.2-154.3l-411.7 60.4l42.9-4.1l65.7 72.3l2.7-9.3l316-217.9l-293.9 61.6l253.2 22.4l-291.3 157.6l-10.9-127.7l-95.6 77l16.3 0.7l84.5-93.8l15.2-23.6l191.3 186.7l69-162.7l-251.1-117.9l13.2 92.7l-72.3 66.3l220.8-0.8l57.1-38.4l126.5-218l-300.8 297.6l143.7 3.1l-63.6-43.6l-98.7-101.3l209.3-3.8l-357.9 316.2l138.4-301l-116.3 101.2l354.3-94.1l-324.8 269.7l28.4-204.5l145.1-163.1l37.1-79.2l-232.4 292.2l29.1-27.4l98.4-122.2l-61.5 220.8l238.4-224.1l-104 217.6l266.6-322.7l-325.8 22l-105 335.6l259.1-169.1l25.4-323.3l-24.7 57.7l-315.7 337l77.7 132.2l27.1-20.9l-136.1-87l-11.4 35.9l129.8-139.1l32.8-71.6l298.6 58.1l-2.6-45.9l-96.1-208.1l-291.4 317.8l422.9-64.7l-381.4 47.3l-36.6 21.1l458.1-194.3l-521.2 264.5l152.5-9.4l184.4-176.1l-135.6 139l-47 96l113.2-71.1l81.5-63l121.5-79.3l-214 93.9l-201.3 18.5l-22.1-46.2l298.1-50l-127.2 113.6l364.9-383.3l-459.3 210.5l-14.8 117.1l-49.4 38.3l-20.7 30.2l538.1-320.3l-228.2-19.1l-277.5 303.2l106.8 68.1l78.6-303.8l-82.6 273.3l-91.3-86.2l-16.7 55.8l-62.4 53.1l257.2-327l-10.1 330.9l-55.3-186.6l-131.1 73.4l154.8-208.8l165.8-100.1l-264.2 293.6l20.9 168l41.3-242.9l-16.1 4.6l417.4 108.3l-315.1-28.4l33.2-20.1l-264.8 253l162.4-309.1l-65.4 252.1l-141.9-42l412.5-231.3l-212.2 6l48.2-78.2l-178 393.9l-16.9-168.4"/>
<path class="l45" d="M0 644.2 L660 0"/>
<path class="lb" d="M0 579.78 L594 0"/>
<path class="lb" d="M66 644.2 L660 64.42"/>
</g>
<rect class="sp" x="0" y="0" width="660" height="644.2"/>
<path class="tk" d="M-6.5 644.2H0M0 644.2V650.7M-6.5 536.83H0M110 644.2V650.7M-6.5 429.47H0M220 644.2V650.7M-6.5 322.1H0M330 644.2V650.7M-6.5 214.73H0M440 644.2V650.7M-6.5 107.37H0M550 644.2V650.7M-6.5 0H0M660 644.2V650.7"/>
<text class="tl" x="-15" y="652" text-anchor="end">0</text>
<text class="tl" x="-15" y="544.63" text-anchor="end">10000</text>
<text class="tl" x="-15" y="437.27" text-anchor="end">20000</text>
<text class="tl" x="-15" y="329.9" text-anchor="end">30000</text>
<text class="tl" x="-15" y="222.53" text-anchor="end">40000</text>
<text class="tl" x="-15" y="115.17" text-anchor="end">50000</text>
<text class="tl" x="-15" y="7.8" text-anchor="end">60000</text>
<g clip-path="url(#xc)">
<text class="tl" x="0" y="674.8" text-anchor="middle">0</text>
<text class="tl" x="110" y="674.8" text-anchor="middle">10000</text>
<text class="tl" x="220" y="674.8" text-anchor="middle">20000</text>
<text class="tl" x="330" y="674.8" text-anchor="middle">30000</text>
<text class="tl" x="440" y="674.8" text-anchor="middle">40000</text>
<text class="tl" x="550" y="674.8" text-anchor="middle">50000</text>
<text class="tl" x="660" y="674.8" text-anchor="middle">60000</text>
</g>
<text class="al" x="109.1" y="717.6">True Cumulative Oil Production (m</text>
<text class="sup" x="523.98" y="708.1">3</text>
<text class="al" x="534.28" y="717.6">)</text>
<g transform="translate(-106.1 581.2) rotate(-90)">
<text class="al" x="0" y="0">Predicted Cumulative Oil Production (m</text>
<text class="sup" x="470.67" y="-9.5">3</text>
<text class="al" x="480.97" y="0">)</text>
</g>
<text class="r2" x="43.5" y="59.7"><tspan class="it">R</tspan></text>
<text class="r2s" x="65.6" y="48.6">2</text>
<text class="r2" x="82" y="59.7">=</text>
<text class="r2" x="111.6" y="59.7" textLength="76" lengthAdjust="spacing">0.818</text>
<rect class="lg" x="289.6" y="434.2" width="357.7" height="197.8" rx="8.5"/>
<path class="lr" d="M304.5 458.7H350.1"/>
<path class="lbl" d="M306.4 489.4H348.9"/>
<circle class="mb" cx="327.7" cy="521.7" r="2.3"/>
<circle class="mr" cx="326.1" cy="577.5" r="2.3"/>
<text class="lt" x="363.2" y="466.5">45</text>
<text class="ltd" x="387.7" y="457">&#8728;</text>
<text class="lt" x="406.3" y="466.5" textLength="108.6" lengthAdjust="spacing">straight line</text>
<text class="lt" x="363.2" y="497" textLength="227.4" lengthAdjust="spacing">Absolute error = 6000 m</text>
<text class="lts" x="593.1" y="490">3</text>
<text class="lt" x="363.2" y="528.5" textLength="256.8" lengthAdjust="spacing">Sample point of cumulative</text>
<text class="lt" x="363.2" y="556.4" textLength="128.1" lengthAdjust="spacing">oil production</text>
<text class="lt" x="363.2" y="586.5" textLength="252.9" lengthAdjust="spacing">Sample point with absolute</text>
<text class="lt" x="363.2" y="615.1" textLength="221.7" lengthAdjust="spacing">error exceeding 6000 m</text>
<text class="lts" x="585.8" y="608.1">3</text>
</g>
<g transform="translate(132.9 824.2)">
<g clip-path="url(#ax)">
<path class="pb" d="M41 597.8l129-141.5l-161.3 182.4l10.5-3.5l36-4.8l-5.4-43.3l356.9-338.3l-379.5 383.1l32.6-96.1l0.3 32.9l-31.4 74.6l98.3-81.2l-3 5.5l-70.9 41.2l-39 16.4l84.3-41.4l198.3-282.9l-233 293.7l78.8-118.1l-50.1 81.3l23.6 0.1l11-1.3l-48.3-18.4l76.7-97l44.9-28.5l-54.2 127.1l-37 14.2l-1.2-55.5l-65.3 111.4l-4.2-27.9l87.1-0.1l-62 5.1l-43.4 44.8l213.2-259.8l-193 234.2l355.8-328.8l-197.7 154.9l-85.7 81l-83.3 102.4l-25 11.4l4.7 14.7l27.3-33.5l76.6-50.9l-66.8 58.9l21.6-71.6l10.7 23.1l5.8 23.7l-80.2 25.2l98.7-67.9l14.7-27.6l45.6-50.4l-157.2 172.6l67.4-46.7l220.9-286.3l-204.2 244.6l-27.5 26.7l-61.9 62.1l209.5-225.4l-186.4 202.3l-14.1-6.2l74.8-75.8l-49.6 79.7l80-37.6l-16.3-5.1l-86.8 34l42.6-2.5l127.1-102l-0.1-5.4l-94.5 70.4l-70.6 69.8l50.5-39.8l60.5-33.4l111.5-132.5l-197.7 150.9l11.8 7l40.5-69.4l-46 98.9l-44.8 19.1l84.1-55.4l103.6-98.7l-155.2 107.8l18 16.6l132.6-150.3l-181.5 181.6l66.6-115.5l8.4 9.7l-40.8 76.2l29.6 26.7l68.7-85.2l-81.4 64.3l-1.4-58.7l134.2-81.3l-109.8 116.3l-46.6 2.7l22.6-12.6l-53.5 59.2l19.4-29.2l114.1-117.3l-46.7 100.6l-5.2-69.5l-59 56.4l15.1 5.3l262.1-225.7l-232.8 229l-54.4 47.4l16.5-21l-9.4-13.2l211.4-145.9l-171 99.4l36.1-1.4l116.8-92l-144.7 98.5l58.5-81.1l143.3-90l-117.5 102.5l-78.7 61l-4.3 15.6l-60.6 69.1l29.1-36.6l548.5-478l-572 473.4l4.2 6.4l12.1-19l116.7-142l-65.2 141.4l-38.1-10.6l20.3 25.7l108-85.3l-53.6 34.9l-104.7 20.9l47.2 8l365.1-381.5l-207.9 277.8l290.9-295.2l-501.6 461l208.7-164l-175.5 99.3l63.4-66.4l-98.3 128.9l58.1-7.5l57.5-72.6l-91.4 57.1l277.2-302.9l-297.9 312.9l90.3-95.8l-99.1 100.3l130.6-85.5l-21 7l-40.2-14.5l-41.3 90.5l503.8-459.7l-434.8 370.2l62.4-63l-73.6 80.4l-81.5 83.5l13.7 0.5l20.9-25.9l-2.3 26.9l136.2-109.4l-139.8 86.4l-10.1-13.5l34.3-26.9l-8.8 33.3l93.1-103.5l2.3-21.5l-5.8 16.9l-40.5 66.9l-95.6 42.1l23.8-7.4l131.2-124.6l-139.5 142.3l476.8-457.6l-382.4 305.7l-83 118.8l127.2-90.1l-38 71.1l21.8-91.4l493.9-425l-548.6 504.5l82.8-66l-159.4 146.2l177.5-130.6l53.6-61.2l-190.4 168.6l-8.2-25.5l103.6-63.5l-123.1 104l-10.9 4.5l191.6-137.7l99.6-192.1l-288.6 305.5l70.7-57.1l-83.9 85.8l250.3-216.8l-232.4 193.5l-17.8 18.9l24.7 6.9l23.4-29.6l-46.1 27.6l41.6-19.3l0.3-56.7l34.2 64.1l182.5-273.6l-38.4 41.4l-199.4 224.6l134.4-96.2l66.7-85l-157.6 120.1l289.6-250.2l-106.4 71l-176.3 155.7l5.8 77.4l37.6-88.3l45.3-5.6l87.1-105.5l-198 190.8l-21.3 23.8l375.3-358.5l-382.2 361.4l61.2-27.7l74.3-169.9l-109.8 116.1l69.4-69l-101 121l31.6-3.1l174.5-237.7l165.7-108.5l-348.5 353.6l-8.7 15.2l52-89.8l41.2 28.4l-37.5 24.6l-59.6 18.2l368.4-357.4l-380.2 381l-8.8-14.7l99.5-54.3l500.8-561.4l-507.1 584.1l60.9-38.2l-130.3 53.7l-28.2 43.3l389.9-426.8l-384.7 420.1l70.3-56.6l-73.1 44.3l219.1-199.2l-158.5 191.9l4.1-90.4l-15.2 87.3l100.3-184.8l114.6-75.1l-266.6 267.5l58-20.3l-51.4 41.5l61-72.1l238.6-198.8l-37.8 53.5l-214.6 220l47.5-106.5l-68.9 70l-2.5-8.4l-22.1 21.6l44.4-21.3l5.1-4.1l12.1-25.1l117.3-148l-40.3 133.3l-56.9-59l-57.3 98.7l8.2 14.3l-11.2 2.7l-24.8 30.1l70.5-67.3l-56.6 29.8l8.2 4.8l3.1 11.8l157.7-111.9l-93.9 84.8l-92.8 32.5l5.3-13.4l189.4-168.1l-166.8 159.4l-30.8 22.4l135-148.9l-54.3 69.3l178.8-192.8l-221.6 221.8l339.1-279.7l-289.2 243l-41.8-5.4l-27.7 76.5l0.7 31.1l199.9-221.8l-210.7 196.1l368.5-386.6l-372.3 401.6l269.5-294.1l-79.5 151.4l-91.1 112l81.4-94.7l-83.2 19.8l-31.3 29.6l222.4-138.6l-187.4 92l-71.2 102.6l31 9.4l20.3-78.9l-84.7 101.2l72.6-96.5l-70.1 95.7l83.8-130.3l69.4-19.5l-58.9 2.5l-94.7 148l282.3-310.4l-198.1 271.6l-72.9 39.5l48.3-1.7l243.9-308l-284.9 287.3l83.5-93.3l-54.9 34.4l252.1-274.4l-245.1 314.6l94.7-122.9l-140.3 162.9l144.5-99.6l97.4-160.6l-93.9 135.5l-148.8 108.4l372.2-302.2l-377.6 294.9l45.2-34.9l46.7 5.9l-73.7 29.2l147-114.3l-154.6 120l-12.5 14.6l92.4-145.6l112.7-16.7l170.1-161l-377.5 297.1l40.6-14.9l188.7-162.5l-112.4 113l11.2-72.9l26.1 41.8l-120.4 64.1l48.9 11.2l-83 33.8l51.5-8l-30.5 24.6l-7.3-14.8l-16.5 15.9l151.8-149.9l18.8 27.8l56-135.3l-66.4 157.7l-78.1 3l-71 76.5l7.2 18.6l84.3-62.9l-56.8-8l-24.9 68.7l67.9-102.8l89.2-71.7l4.3 15.4l-162.7 160.5l56.2-52.5l87.8-90.5l-102.1 131.3l-19.1-72.7l250.5-154.3l-49.9 30.6l-215.6 201.2l8.1-23.8l-3.5 4.4l29.9 28l184-286.4l24.9 78.6l-178.3 120.5l165.8-127.2l-241.8 213.5l219.9-257.7l-201.5 207.3l170.9-194.8l-55 90.5l-144.3 151.6l138-160.1l430.5-397.6l-474 441.6l-66.7 56.1l85.4-43.2l-87.4 77.8l235.1-287l-248 302l174.6-172.3l-51.1-0.3l-85.5 138.8l83.8-39.3l-123.1 83.2l311.5-285.8l-255 221l92.8-67.1l-72.3 4.4l165.9-96.8l-202.8 215.7l42-93.6l-63.3 97.9l-35.1 9.5l132.7-109.4l-83.1 24.7l23.8 28.1l-9.6-34.8l-57.6 89.1l-4.4-5.3l197.4-128.6l-44.5-28.1l-108.2 107.2l-4.6 12.7l379.6-426.5l-381.3 437.8l71.3-115.6l24.4-18.4l-77.7 123.1l55.6-57.2l64.7-18.4l16-29.2l128-176l-319.6 305.8l199-186.4l-179.9 150.2l129.2-135.7l-15.6 18.4l-107.7 124.3l52.8 29l3.3-110l-70.2 113.5l181.9-155.4l-194.8 169l11.4-15l15.6 7l321-359.5l-278.4 345.1l64.7-84.1l-134.3 83l28.3 4.3l186.3-201.4l-216.6 220.8l169.4-141l-103.5 52.7l-39.9 57.3l87.2-62.2l-9.7-3.2l222.1-278.4l-162.2 222.6l64.5-7.2l-219.9 100.4l426.6-310.7l-412.9 332.2l94-102.3l-108.4 113.6l144.2-180.3l-41.6 124.9l-75.5 61.4l67.3-93.8l-66 75.1l158-88.1l-88.9-6.5l6.9 34.8l-67.9 58.2l107.8-85.9l-128.1 117.5l13.7-18.5l-7.4-14.7l66.5-28.7l78.6-80.1l-160.7 125.2l46.5-27.5l-28.3 12l30.5-43.2l-34 72.4l18.8-24.1l47.6-33.3l62.6-60.6l-25.1 0.6l-98.6 94.6l103.8-56.3l-86.2 58.6l119.5-118.8l-167.4 153.1l77.2-99.5l-64.4 99l185.2-236.9l29.9 59.3l-168.9 144l-56.4 19.1l3.6 13.9l48.8-41.2l-7.1-4.4l69-7.3l322.4-368.5l186.3-215.1l-583.6 617.4l-30.4 15.4l89-82.3l-38.9 8.1l204.5-137l-190.7 154.9l-34.5 16.3l15.9 36.1l-47.1 1.3l2.3-7.2l21.3-14.1l-26.3 19.9l125-119.2l-98.5 75.4l52.7-44.1l37.6-32.2l32-12.8l-132.4 95.5l-25.1 34.1l212.1-193.4l-1.4 38.8l-198 137l186.1-169.2l387.2-386l-482.6 540l46.7-73.5l-135.3 85.9l73.5-109.3l32.6 4.3l11.3 42.6l-73.3 12.4l-46.6 77.5l296.3-250.5l-300.4 247.8l-7.8-11.9l32.1-4.6l18-31.7l276.1-299l-271.6 276.4l-54.5 38.7l69.4 20.5l-52.4 17.4l-14.1 0.9l63.8-59.3l-51.2 29.7l249.1-226.5l-211.4 241.1l-26.2-28.3l39.4 0l-28.1 21.6l564.8-552l-599.1 553.2l245.7-205.8l-244.7 209.1l109.9-103.7l-105.8 101.8l22.6-21.9l28.3-34.6l123.2-99.9l-180.8 175.8l128.9-75.2l-134.1 74l4.1-0.1l69.7-27.3l-13.2-36.2l57.8-75.4l39.4 2l-113 104.8l60.8-50l-82.9 38.9l95-70.7l-75.9 78.4l39.9 6.8l167.8-237.4l-202 212.1l56.3-60.3l-36 38.1l97-101.3l-152.3 159.7l46.2-17.7l-18.5-20.6l5.7 16.1l-12 14.3l74.5-76l-60.4 42.8l93.4-120.7l-95.4 131.6l34 32.5l-12.4-37.7l1.2-6.5l42-22.6l-65.1 19.6l7.4-8.5l133.2-110.2l-4.8-4.6l-119.7 176.4l31.2-90.5l-71.2 81.8l480.4-429.1l-298.5 275.5l31.2-4.7l-149.1 53.4l50.4 51.6l-71.3 71.1l2.9-27.4l-55.8 22l47-68.6l131.1-166.2l-1.4 114.7l-5-69.4l-171 179l17.2-21.5l272-288.2l-128.5 175.9l-33.6 11.3l-132.5 136.6l-2.5-0.5l51.7-53.3l-18.9 3.4l392.2-400.3l-407.2 434.2l121.6-61.3l-90.7 45.5l65.7-96.5l-24.7 97.7l131-236.2l-164.8 226.7l424.7-380.5l-238.9 174.5l-175.7 154.3l-11 51.4l48.2-48.3l-69.3 52.7l265.6-283.3l-261.8 279.3l-26.9 39.2l-5.1-28.8l19.3 4.4l92.8-137.6l-116.4 155.3l20 9.9l-5.4 0.9l12.8-29.3l-28.7 28.3l212.2-207.2l-197.6 181.5l-14.7-0.8l18.5-15.1l54.4 7.7l-41.4 34.1l135.6-114.1l-123.7 76l15.1-38.8l125.8-50.8l-167.5 90.1l-14 8.2l6.2 29.7l9.6-43.3l144-85.6l-120.4 96.7l74.5-84.8l210.6-178.5l-242.1 251.5l266.2-258.2l-279.8 248.6l-27.1 9.9l117.6-91.1l-115 80.9l175.9-212.3l41.7 55.8l-233.4 195.4l32.1-64l-14.7 39.2l0.5-7.1l-32.6 1.8l-20.2 46.4l54.7-39.6l0.6 10.9l3.7-79.2l-56.2 97l14.3 9.2l22.2-51.2l90.9-131.4l-49.8 125l-66.6 32.2l25.1 27l-12.4 0.5l0.5-1.8l453.2-507.4l-413.8 468.6l47.9-91.7l37.1-63.5l-109.1 155l203.8-151l-156.7 66.2l-67.4 109.1l117.2-100.8l-100.8 97.8l50.8-89.4l35.8-60.5l79.8 13.8l-181.8 130.9l14.8 8l-5.8-45.6l77.6-15.9l6.9-46.4l-89.1 112.4l-18.9 7.3l216-249.6l-176.4 212.9l4.2-27.6l-42.7 38.2l161.1-117.5l-95.4 63.2l237.9-277.3l-280.2 306.7l2.5 33.1l32.5-49l-24.4 33.4l46.5-52.3l-91.7 78l72.6-87.1l-19.1 85l3.4-98.6l54.1-45.6l-81.1 143.5l52.2-89.6l37.7-16.2l-75.2 111.8l86.9-98.9l-127.5 72.3l57.9 11.6l-39-12.9l105.3-44.1l-109.3 73l384.1-353.3l-383.7 340.1l127.9-137.7l-4.8 6l-69.1 92.2l2.8-7.8l-9.1 3.3l-56.2 64.1l486.1-464.6l-435.1 464.1l35.9-49.7l-74.4 30.2l-4.8 21.1l132.9-91.6l0.2-71.4l-7.9 1.9l146.9-109.6l-290.1 269.5l217.8-158.4l-210.3 160.3l149.4-104.1l-110 51.6l-38.3 40.4l140.4-193.5l-141.3 174.2l65.9-20.5l-24.5 4l59.9-31.8l94.6-149l-68.8 106.6l316.2-346.9l-446.6 467.2l39.9-59.1l-0.1 20.6l1.3 15.4l-13-1.5l2-34.7l17-5.9l33.7-26.1l-52.2 82.2l74.7-31.1l90.1-179.4l-167.8 201.6l51.9-77.1l-56.8 82.4l0.5-31.8l-15.2 23.5l13.6-5.6l60.3-18.4l-82.5 40.1l67.3-49l133.7-163.3l-29 106.9l-13-72.1l139-98.9l-155.3 184.5l-54.8 38.1l-63.2 30.2l249.4-248l-198.3 176.7l22-7.6l-31 36.8l-12.3-2.7l-12.3 49l145.9-127.2l-90 26.6l-57.4 76.9l-28.9 22.5l180.5-202.1l-177.5 206.6l47.7-26.2l-14-13.1l-24.5 38.1l11.5-26.6l54.8 13.1l163.6-169.8l-187.1 126.7l-69.2 79l139.1-159.9l-78.9 113.1l-1-15.2l-56.8 34l9 18.2l25.9-66.9l-34.3 74.2l41.4-37.3l8.3 8.8l-14.2 7.9l-26.9 12.9l77.7-96.3l-40.6 53.4l52.7 5.1l-62.8 1.5l-29.4 29.3l93.4-65.8l-97.1 83.2l30.4 0l277.3-332.1l96.2-26.3l-221.3 207.5l-159.3 150.6l97.3-123.1l-123.6 109.4l35.4-12.1l11.1-23.4l-6.6 26.4l-24.9-6.3l26.1-16.6l6.4-27.1l37.9 0.3l165.2-209.1l-193.3 260.1l-3.6-13.7l-35.3 28.5l374.7-328.2l-383.8 312.2l139.9-127.5l61.2-16.3l18.4 7l-199.2 134.7l37.7-48l92.1-36.5l-115.1 77.1l-34.5 23.1l-5.4 10.8l159.2-137.6l88.5-85.7l-118.8 48.2l-81.9 132l303.9-250.8l-347.5 293.3l32.6 0.7l-25.3-21.3l32.6-0.8l-14.7 13.4l76-52.8l198.4-273.4l-246.1 281.7l113.2-131.3l-95.7 89.7l193.5-127.4l-77.4 73l-149.3 110l-12.5 24.8l7.8-33.4l2.9 38.3l50.7-66.3l-27.3 1.5l122.3-48.6l-8.7-44l-72.7 86.7l-46.6 10.7l14.9 16l137.4-181l73-66.2l-244.2 270.7l-38.8 28.6l58.9-97.5l26.6 19.7l-36 35.5l-1 17.8l305.9-356.9l-196.7 245.4l-72.1 60.1l-11.5-8l-7.2 18.5l-71.8 55.5l17.3-45.1l159.4-88.3l-82.1 74.9l-67.7 18.2l164.1-169l-26 92l50.2-117.1l-188.2 210.4l78.8-69l11.1-3l77.5-60.4l4.1 8.9l125.7-192.2l-26.7 56.3l-211.5 190.6l160.5-91.2l-212.8 173l14.8 11.1l11.5-73.4l105.1-97.1l5.9 63l-139 100.8l373.9-338.5l-373.6 334.5l48-41.9l-66.4 62.7l21.2-15.3l142.7-151.8l-127.9 69.5l26.8 15.8l-58.8 70.3l199.5-217.8l-168.1 194.2l157.4-104.5l-55.7-3.4l6.3 50.1l-79.6 39.2l-25.9-14.4l108.1-103.9l-152.7 162.7l14-11.6l194.8-230.7l-17.6 35.5l-53.2 100.8l-64.5 57.5l17.3-43l180.2-198.3l-165 231.7l-68.7-11.1l-45.1 65.4l99.4-124.2l-97.4 102.6l192-119.3l-35 6.4l-9 33.4l-56 53.3l335.3-362l-279.6 258.2l-96.3 87.2l-14.9 43.6l108.3-95.6l-96.3 68.3l-14 47.8l-30.5 14.7l166.9-182.5l-90.9 117.3l26.4-16.1l260.8-277.5l-281.1 243.3l25.1 49.7l-56.2 20l7.7-2.6l186.8-226.9l-221.1 234.4l27.5 12.9l-18.3-42.8l-1.2 46.3l12.5-19.8l-48.9 38l69.9-102.1l51.4-33.4l-37.2 40.1l43.2-25.7l-80.1 110.5l65.3-101.5l-114.2 112.8l199.2-182.7l-30.6 46.4l-39.9-22.9l-103.8 132.5l9.3-27.3l-26.2 37.4l176.6-138.4l-157.3 122.4l18.3-31.4l-9 69.6l-10.3-10.1l261-313.5l-251.1 289l99.4-72.9l-43.7-7.4l93.2-68.8l-142.3 137l8.6-31.1l-52.6 74.2l80.6-69.6l-45.4 48.3l-24.4 13.1l34.3-22.2l-42 1.5l71.1 0.1l98.2-74.9l-68.1-16.9l-97.9 122l201.8-201.5l-41.9 45.6l35.4 8.6l-56 13.3l60.7-129.3l35.6 20.7l-178.2 196.1l30.1-37.8l28.6 8.7l-75.4 36.5l-10.3 2.7l215.3-173l-161.7 101.7l81.7-34.6l-155.1 140l19.7-17.2l19.9-13.9l268-297.3l-295.1 298.2l242.9-167.7l-186.5 102.4l-55.1 85.1l-15.3 12.9l184.8-207.8l-74.7 135.3l-9.6-28.3l-49.2 67.7l-49.1 9l140.8-129.7l-145.1 152.1l13-24.2l35.7-6.5l113.5-114.6l-169.8 108.9l105.7-4.5l-64.2 19.3l-20.6 6.5l-25 13.7l8-13.7l40.6-6.6l-4.9-18.9l5.8-35.6l64.7-28.7l68.9-84.7l-176.5 189.4l10.5 2.4l159.1-150.5l-163 150.3l-1.2 0.1l3.8-48.4l183.5-117.3l56.3-57.9l-168 123.6l82.5-2.4l9.4-67.5l-113.4 127.4l-54.4 14.3l4 26.4l36.2-44.7l-48.1 14.9l335.7-335.3l-314.2 322.9l70.3-57.2l-86.6 81.1l-0.9 19.4l-3.9 1.5l75.4-81.5l-10.3 49.8l-64.5 30.1l38.9-57.2l22.9-13l4.2 6.3l305.2-269l-341 300.6l34.8-19.2l-1.6 29.2l3-32.8l151.7-146.7l-190.7 164.1l-6.3 22l25-32.8l50.8-26.6l-37.3-11.8l-55.9 72.7l22.7-24.9l-9.7 17.8l241.2-222.1l-105.6 88.8l-70 54.6l39.6-51.5l32.7 17.2l-136.4 116.7l378.7-402.1l-383.8 422l308.6-287.9l-90.7 104.3l-134.1 95.1l-71.2 75l6.2-6.3l-5.7-0.3l291.6-276.5l-173.4 193.7l-68-9l-78.9 91.2l85.4-73.4l-78.9 82.9l397.5-376.6l-390.5 377.6l25-24.9l221.3-256l-186.4 181l48.2 35.8l-33.4-1.6l31.8-84.1l-58 101.1l-35 38.7l-12.2 13.6l64.8-98.9l-52.9 96.2l9.7-26.1l-11.9 5.9l54.1-69l-69.8 83.9l4.2-24.8l117.5-53.4l39-90.3l248.4-179.9l-394.3 352l108.9-82.8l-129.6 92.3l5.6-5.7l188.4-193.6l-186 176.5l107-90.3l133-158.9l-201.6 255.7l87.7-178.1l-118.6 151.9l5.1 26.3l146.4-142.5l-95.7 88.1l-44.5 25.7l94.5-95.4l-109.7 114.6l114.2-75.9l-43.3-6.3l-20.9 24.1l2-14.2l26.1-6.3l-80.3 85.2l360.2-330.9l-257.5 195.7l-118.5 153.8l141.8-108.3l-44.3 30.8l-87.6 79.2l-2.6-41.5l242.3-222.6l-215.1 262.3l73.4-146.4l-108 128.3l93.8-129.1l-4.2 46.8l37.4-46.2l-84.9 108.6l112.2-164.6l156.5-94.6l-303.8 285.7l-5.6 11.2l58.3-70.2l-18.6 4.4l25.7-28.4l12.3 62.5l-24.2-33.9l-26.8 31.4l-20.6 36.9l28.6-60.5l33.9 46.8l164.7-210.5l-116.3 118.9l-58.3 58.6l27.1-31.3l-40.9 47.5l30.7-34.3l3.1-31.5l100-70.3l-31.5-20.9l268.4-262l-414.5 447l119.5-78.5l-101.1 48.3l-4.3 29.8l-3.9-7.5l377.3-360.4l-251.8 290.8l-95.3 20.6l29.9-6.3l3.5-14l67.1-96.7l-121 145.8l19.7-47.9l199.3-183.3l-141 153.7l542.4-469.3l-571 513.2l-4.2 29l10.9-42.9l-4.6 20.5l99-138.2l-153.7 159.1l33.9-10.8l-42 46l32.6-15.8l171.4-172.8l-82.4 101l-6.8 21.5l-28.8-68.5l93.2 3.6l-79.6 12.8l-28.2 66.7l33.5-61.9l16.7-9.2l-109.1 117.8l-5.3 0.5l78.8-109.1l-13.8 52.7l495.6-513.5l-528.2 502.2l-43.7 61.1l58.8-33.8l72.1-123.8l13.8-1.2l-27.5 78.3l111-151.2l-156.2 179.8l69.1-101.7l-89.7 69.7l-58.5 94.7l78.9-50.9l140.6-160.1l-89.3 113.7l-24.1-11.9l-76.1 63.2l-27.1 12.8l168.4-108.4l-115.5 77.4l-18.4 40.8l-37.4 23.1l291.5-299.6l-244.5 233.1l1.9 66l-9.9-12l14.8-6.6l154.4-177l-172.5 172.3l45.5-77.2l-43.2 75.2l247.1-211.1l-278.8 237.6l26.5-86.2l169.5-103.9l-200.6 173.9l31.6-4.2l7.2-21.6l-27.6 39.9l5.5 2.2l-8.7-26.8l39.2-31.1l-36.8 41.1l133.1-151.4l173.9-102.5l-316.1 269.4l41.7-21.7l-9 4l21.5-55.9l-37.6 43.6l486.3-500.2l-501.1 529.9l56.1-57l185.6-144.6l-5-11.8l-200.1 193.4l-29.3-8.2l-4.3 29.3l123-122.3l-71.1 69.8l-49 53.4l35-19.7l121.3-116.1l-75.6 34.9l-72.7 65.6l42.3-31.7l12.3 29.4l-51.2 4.7l122.2-56.7l-117 57.7l38.6-51.7l-18.9 11.9l109-131.1l-151.8 200.5l156.6-187.5l-126.6 179.1l-10.8 0.5l87.2-81.3l-10.2 10.9l-36.4 13.6l-24.5 17.9l162.1-153.3l10.5 58l-181.3 109l362.4-393.6l-289.7 340.8l-33.3 27.4l77.9-66.8l7.1 22.2l-119 68.7l65.8-9.2l-92.7 45.1l70.1-92.7l-16.2 27l50-50.5l0.1-38.7l-82 137.8l172.6-212.4l-190.4 218.1l54.9-67.9l-61 80.3l102.8-88.7l17.4-49.2l49.4-12.8l-137.9 148.5l69.5-127.8l134.3-136.1l-233.6 266.1l54.1-98l-56.9 89.3l37.3-49l-15.9 50.6l-12.2-44.7l-4.9 26.1l27.4 6l-23.2-1.6l55.5-59l35.4-14.6l19.3-5.1l2.9-12.3l-125.8 105.8l408.4-412.1l-371.6 407.5l24.9-52.9l-9 27.5l-30.7-5.2l76.5-35.6l47-110.9l-130.8 180.6l79.9-65.4l-67.8 24.6l59.8-16.6l-50 2.8l123.8-144l-47.1 88.4l98.1-55l-176 140.5l37.5-21.7l-58.6 51.6l99.9-136l-63.1 100.9l267.1-331.7l-111.2 175.6l-84.2 116.1l162.1-169.6l14.4-111.3l-221.2 257.8l-48.6 69.8l-1.7-7l75.3-46.7l-73.3 44.8l-5.1 34.5l-7.2-34.9l74.2-14.1l63.4-59.7l-104 43.5l105.9-77.7l-116.6 105.5l77.3-31.3l-47.1-12.6l-21.1 44.2l95.1-143.7l-126.8 178.8l49-40.3l-44.1 43.4l112-89.5l17.2-14.8l-97 32.9l40.1 9.4l0.3-45l-32.2 96.3l33.8-103.6l113.4-55.9l-211.9 172.8l58.8-28.5l-10.5-36l-47.1 65.2l137.6-191l116.9 5.3l-253.4 162.8l79.1-72.8l-46.4 64.5l-21.3 18.1l29.6-20.3l86-93.9l-21.6 5.9l-26.1 72.2l327.1-401l-409.5 448.9l92.6-89.1l172.4-212.9l-85.7 156.7l-67.3 79.7l84.9-135.9l235.1-167.1l-167.5 153.1l-249.7 216.5l8.4-49.4l-13.8 39.8l42.9-37.9l17.7-54.6l-24.3 57.3l-13.1 28.4l141.4-128.6l-12.2-50.7l-100.3 149.6l-58.2 12.4l0.2 32.5l189.1-168.7l-193 170.4l54.1-48.8l98.5-88.8l-85.4 93.5l-45.7-20.3l32.7 19.5l-52.7 43.2l177.5-220.4l-148.1 171.9l-24.1 6.3l40 44.3l-39.9-4.8l96.9-67.8l54-100.7l-149.7 173.7l117.5-65.4l-116.8 46.3l23.3 17.7l373.8-336.6l-389 306.4l171.8-207.7l-121.8 198.4l41.6-26.3l-73.9 20.6l-23.4 22.1l151.6-175.3l-87.3 112l71-29.1l-145.7 114.6l25.9-12l254.1-289.6l-222.1 254.3l-25-10.9l96.8-40.1l57.6-91.5l-161.7 172.7l176.2-166l-57.4-4.8l4.2 40.7l61.5-108.1l-149 186.3l-27.6-1l68.2 21.1l-92.7 46.2l212.2-237.5l-147 179.4l139.3-93l-17 24.4l-169.5 92.3l264.1-188.3l-271.5 204.7l193-245.7l-144.8 209.8l-30 21.8l41.9-69.2l-4 52.3l14.5-75.5l152.3-102.8l-55.8 40.3l-43.8 53l261.4-241.8l-246.9 271.6l-73.4-5.9l263.5-163.2l-276.1 226.6l49.3-50.6l-115.3 100.5l5.8 1.8l64.8-35.2l-34.1-12.7l-40.2 44.3l87.8-61.1l-50.5-0.1l265.8-200.6l-130.7 122.5l-94 68.1l-23.1 22.7l-27.8 36.7l36.3-60.5l-58.4 63l40.9-34.7l-5.1 2.8l135-130.1l-39.3 65.5l-33.7 40.1l-40.5 27.8l-40.2 11.3l-8.8 29l265.8-303.7l-262.4 272.1l2.7-6.1l123.4-65.3l-137.3 102.8l16.8 0.5l19.3-38.1l37.1-60l160.4-85.4l-226.5 182.6l88.4-100.4l-93.6 85.8l-3.3 2.8l6.8-23.8l9.5 27.1l3.8 9.9l36.7-51.1l-56.6 29.5l53-60.6l153.9-103.2l-112.8 63.3l164.3-141.7l-201.1 223.4l-56.6 30.8l628.1-619.3l-544.6 557.2l24.9-18.2l55.8-61.7l-21.8 19.2l32.8-37.8l-120.1 93.2l-23.3 37.1l36.1-22.5l-40.8 49.8l2.1-11.4l-0.2 24.6l8.6-59.7l0.5-13.6l-25 25.7l132-66.1l-10.6-20.4l-87.3 100.6l148-212.2l327.6-273.2l-455.7 431.7l27.9-14.8l-92 83.9l636.7-578.9l-568.7 548.2l398.9-410.8l-279.2 283.8l-140.7 135.5l-43.4 28.4l51.6-57.3l53.8-18.2l54.3-86.5l-158.7 143.7l68.7-55.3l55.9-63.8l17.3 53.9l55.3-85.4l-170.8 139.6l-15.1 4.3l78.1-26.1l-84.6 49.2l23.5-21.8l-1.7 3.3l-4.2-23.6l-27 53.8l-7.5 1l30.8-10l-13-21.8l80-55.7l198.8-161.3l-233.4 171.5l39.4-14.7l25.7-52.2l15.4 51.9l-97.4 50.3l130.9-157.7l61.3-40.5l-181.1 194.4l-13.6 3.3l31.2 7.8l45.1-76.9l-108.5 110.7l54.2-36.5l-29.8-0.8l18.9 25.5l-19.5-56.9l17.8-22.5l-22.6 92.3l234.3-206.5l-88.1 27.8l-145.6 125.5l494.1-416.3l-507.3 446.2l-6.1-3.5l308.2-308.3l-265.4 280.5l451.2-398l-505 442.1l152-131.9l-92.9 104.9l-35.4-2.6l39.5-8.4l12.5-7.1l-76.9 37.3l37.9-15l88.9-31.1l-50.4 5.4l-54.9 48.1l6.3-49l44.9 6.8l0.4-6.9l46.9-81.8l22.7-10.9l-52.3 82.5l-47.1 23.3l22 9.1l6.8-38.8l23.4-31.8l18.2-59l-115.5 165.5l10.5-33.8l44.5 15.2l8.4-4.2l34.9-110.5l-69.5 126.8l96.9-159.5l361.8-244.4l-260.5 228l-228 158l206.9-191.7l-161.5 180.9l7.7 3.7l-6.8-21.8l108-120.2l-57.4 108.4l86.1-90.3l-110.8 60.3l201.7-183.2l-84 85.1l249.9-273.9l-378.7 423.8l261.6-287.4l-318.1 331.9l8.3-16.1l34.9-44.2l32.8 6.5l97.4-111.9l-172.8 164.4l-2.2-5.3l-0.4-24.2l328.5-250.3l158.3-195.6l-349.3 280.8l-129.6 170.1l-8.8 21.9l114-129.4l150-170.8l-185.9 213l-73.1 83.6l56.4-27.9l142.2-128.5l-113.1 98l-57.7 46l113.3-138l-114.4 134.5l375.8-318.6l-294 265l33.4-80.2l16.4 10l95.4-153.1l-36.1 130.6l-113.5 65l54.6-31.9l-23.8 28.4l-111.1 65.7l-29.2 31.9l30.7-1.2l31.1-102.7l24.9 51.6l-25.8 58.9l51.3-89.3l29.4-29.5l-120.5 100.8l50.5-36.9l-67.6 19.1l426.5-400.1l-301.1 263l-50 112l-48.4 28.2l129.2-123.3l-120.5 111.1l-31.4 48.3l148.8-106.4l-151.1 89.6l170.8-132.1l-31.1 21.9l27.5-15.3l-148.9 115l-11.2 19.7l0-23.4l127-124.9l-130.8 108.5l283.4-281.1l-273.4 307.5l253.8-254.8l-205.7 226.1l14.5-14.8l124.3-152.8l-120.1 180.2l115.1-123.2l-104.1 65.5l15.3-2.6l115.7-139.8l-218.4 228.4l59.9-102.9l78.6-30.5l19.9 27.1l-137.9 117.5l83.6-65.6l-46.7 44.6l-64.8 5.4l15.8 4.3l5.6-24.9l34.4 27.7l-49.9-29.5l-6.4 36.4l18.5-25.3l6.6-12.1l7.7 16l-23.3 4.1l-11.4 16.2l30-31.2l259.4-240.7l-73 68.1l-211.7 194.6l13.3-4.4l14.2-18.2l17.3-11.1l132.7-143.2l-172 179.9l-5.8-5.9l641-555.6l-529.5 484.8l-23.4-60.5l-89.2 131.3l73.6-53.9l-10-14.2l95-39.2l-163.3 120.9l77.6-47.2l-40.5-13.9l194.4-120.4l-73-7l-95.3 112.4l21.4 56.9l9.4-72.9l-55.6 86.3l0.2-47.7l275.6-316l-242.8 326l-61.9 16.4l-4.9-10.3l36.4 8.3l235.2-209.6l-263 225.3l149.1-129.5l-114.7 98.2l55.7 0.7l82.5-157.6l-161.4 162.4l45.1 11.6l-25.1-29.6l-24 34.2l29.7-16.3l-13.5 38l52.4-103.5l-49.1 38.4l-8.3 16.2l71.4-12.8l33.3-22l38.4-77.6l-70.3 118.2l161.2-209.2l312-250l-494.4 434.8l29.6-72.9l268.9-169.4l-336.9 282.8l86.2-117l-100.3 105.6l6.2 18.9l131.8-194.5l-110.4 157.5l-53.3 56.9l37.3-33.9l16.2-70.5l6.7 77.1l22.4-82.5l2.7 49.4l-89.7 48.5l9.1-3.4l18.6 16.9l168.4-185.1l-174.5 151.4l2.4 28.7l106.6-76.4l-106.8 51.3l141.2-111.3l-132.6 98.7l79.3-69.8l-97.6 101.4l40.9-46.1l-25.6 30.5l47.4-14.7l172.7-181l-201.5 155.1l68.9-42.6l-116.2 83l2.5 24.9l17.2-28.9l25.2-12.8l137.2-163.5l-170 192.6l45.2-5.7l-58.6 14.3l19.3-32.6l9.6 37.3l-23.5-39.3l26.3-6l46.9-0.2l47.1-80.5l15.9 52.8l-78.9 42.2l108.2-74.9l-170.5 94.8l130.3-62.4l-68.2-6.9l-3.9 29.5l14.3-13l-0.3 58.6l-30.7 6.1l13.3-51l-22 9.1l-15.2 40.6l81.7-114.5l110.7-132.9l-108.2 108.1l-30.6 58.5l-14.2 25.1l75.9-30l-133.1 86.3l83.4-60.5l-8.2 3.8l30.4-21.8l281.4-286.4l-372.4 355.9l66.1-18.2l110.7-139.4l-82.8 81.3l-101.5 60.4l29.9 8l148-148.1l-133.7 158.1l154.1-139.6l-197.9 134.6l132.7-108.3l-50.8 62.4l-31.8-35.1l-50.9 80.8l110.9-108.3l-26.8 41.4l-71.9 70l59.3-86.4l-43.8 13.1l65.4-41.1l-48.7 31.7l56.3 30l-90 61l80.4-113.8l-44.8 108.1l-26.6 5.4l18.9-37.9l-28 11.1l34.5-16.8l-32.7 24l4.6-19.2l23.7 1l75.3-57.5l-50.5 10.2l25.9 23.7l-57.4 53.5l249.1-241.6l-130.2 113.2l-46.3 57.9l-56.2 29.8l119-79.7l14.6 7.5l-66.2 21.5l-86.3 55.1l6.5-32.8l71.7-28.1l-91.7 65.5l215.1-189.6l-49.6-17.6l-118.6 186.8l-34 31.5l120.6-167.9l-153.2 197.5l75.8-103.8l78.4 7l-117.2 74.4l43-40.9l-75.5 62.6l9.2-2.3l127.1-97.6l56.2-104.1l-177.2 175.6l7.7 3.2l244-269.9l-219.3 223.3l-5.3 1.2l-48.8 67l136-73.5l61.9-120.9l-186.7 191.3l7.9-5.1l208.6-158.4l-211.1 140.9l40.8-47.5l43 10.6l113.1-119.7l-141.6 118.9l-42.8 9.7l0.1-2.8l-12.7 13.2l207.2-161.4l-98.4 129.4l-75.5 57.7l150.1-158.4l192.1-249.2l-355.8 395.2l34.2-35.7l-35.3 70.6l1.3-34l208.9-239.4l-190.2 248.5l-28.4 7.6l146.3-171.5l10.7-24.8l-28.3 59.7l-80.5 64.1l32.9-17l23.8 35.1l18.5-120.1l12.3 49.5l-102.2 88.7l-51.8 38.7l180.1-230.9l-165.3 245.6l198.5-246l-166.1 208.7l46.2-2.7l-22-54.8l-52.6 58.1l5.4 1l33.8-89.3l291.5-259.7l-260.2 282.4l-51.6 54.8l161.9-117l-125.5 103l391.1-461.5l-321.1 394.6l131.6-154.3l-156.6 153.5l-118.8 117.5l66.3-34.3l26.5-85.2l-57.7 102.8l234.3-242.8l-183.6 231.6l-18.5-11.6l52.2-128.8l454.5-337.6l-584.7 517.2l14.1-33.9l-6.5 32.5l48.3-39.6l-41.1 6.5l21.1-22.9l93.7-51.6l11.3 26.8l-129.3 54.2l163-158.2l-118.2 167.1l71.7-101l154.7-119.8l-276 233.1l30.6-57.9l10.8 34.2l99.9-119.2l-129.1 150.1l52-50.5l-58.3 29.8l-0.4 8.1l54.2-12.5l307.6-330.6l-160.2 200.1l-167.1 134.9l33.9-60.2l8-24l-80.6 87.3l-4.8-10.9l46-19.9l25.4 13.4l6.8-31.9l-62.2 33l242.6-209l-139.5 124.5l25.1-70.5l-123.3 147.9l58.3-69l108.8-89.6l-82.3 136.1l-49.8 17.3l83.8-90.4l-136.6 136.7l3.4-26.8l7.3 2.7l-8 22.4l158.6-184l-115.7 127.8l58.1-52.6l-81.7 64.9l-20.6 30.2l233.7-185.3l-171.7 156.4l33.7-10.9l-41.9 2.4l115.7-79l127.5-189.8l-210.7 238.5l-41.9 82.6l-33.8-12.5l114.4-61.8l-118.5 44.9l77.1-42.3l-76.5 39.5l4.2-25.9l8 57l-10.9 2.5l-8.6-4l-0.3-0.6l33.4-48.3l23.5-36.6l330.2-352.2l-363.9 424.8l-12.9-11.6l26.6-11.9l117.5-135.3l-109.3 106.1l29.4-37l435.1-379.6l-515.6 469.2l260.2-209.7l22.1-10.2l-223.6 230l-0.4-10.9l254.7-329.6l-308.3 315.6l-6 29.1l147.9-141.9l-38.4 32.5l-82.7 80.8l-16 2.2l-11.5 0.7l24.7 25.7l9.9-75.7l26.6 24.2l-53.7 51.8l96.9-157.7l-69.2 141.9l38.3-67.4l-37.5 60.3l9.2-34l119.8-79.6l-47.9 50.9l11.1-9.9l-54 51.5l-55.6 27.7l115.2-96.9l-50.5 36.6l37.8-7.7l-46 35.3l119.5-131.2l-194.4 182.7l52.6-44.6l202.5-165.7l-238.8 173.8l-4.4 34.2l128.9-109.9l-135.8 101.1l33.3-6.1l107.1-97.2l-86.5 13.1l9.9 22.1l-52.2 76.4l48.2-81.8l-23.8 40.5l77-63.3l-79.1 48.9l-15.9-15.2l69.9 4.7l-54.6-20.8l77.7 19.2l-27.2 13.6l-76.6 56.2l25.5-9.3l220-223.9l-81.5 41.2l-68.2 126.3l-76.5 11.2l-30.1 53.9l18.6-8.9l5-17.2l-2.3-11.1l103.6-84.4l14.6 22.3l-128.1 69.9l40.5-7.5l-42.1-15.1l35.6 23.4l34-97.4l-79.8 118.2l189.4-166.2l-162.1 172.8l-19.1 0.9l305.1-319.1l-298.9 298.3l11.1-39.3l-8.1 33.2l-0.8 26.7l10.9-17.7l122.3-137.8l-22 50.2l-108 85l91.8-128.3l-73.8 112.7l613.1-607.6l-601.7 605l230.6-283.3l-247.2 300.9l78.2-113.6l-11.5 51.4l-73 60.5l27.5-75.9l18 27.1l462.1-477.8l-430.7 479.3l-80.5 44.2l163.4-108l172.2-207.1l-213.8 150.6l203.1-169.1l-202.2 256.3l-99.6 89.5l162.1-145.4l-39.2 50.4l-121.5 28.5l101.8-114.9l-88.4 120.3l12.7 25.4l23.1-33.6l7 11.7l-74.4 4.4l98.3-46l11.1 40.8l144.8-218.9l-72.7 40.7l-149.7 236.7l-47.2-13.6l42.8 28.5l67.7-84.7l-115.5 83.3l200.1-237.9l-58.2 71.8l-54.3 57.1l6.1-39.1l-91.2 142.4l131.1-194.1l19 33.9l-128.4 103.2l5.9 26l97.2-152.1l-78.7 158.2l-44.3 20.5l-0.9-12l90.3-61.7l-12.4 37.2l-74.7 29.2l278.1-255.6l-237.7 187.4l98.1-81.6l-46.7 97.9l-84.2 55.2l136.8-144.8l-24.5 18l-110.2 124.6l8.3-37.6l129-148.9l-139.5 159.9l113.7-101.8l-30.7 66.1l-35.7 6.7l-53.4 40.7l138.2-146.8l-61.1 85.6l-11.1-6.9l73.8 10.1l4.8-83.3l-33.3 91.8l-9.7-39l-75 98.1l154-179.9l13.1-33.8l-2.7 20.5l-186.1 202.7l142.5-127.9l-138.2 117.2l-14.6-8.8l172.8-203.5l-174.8 234.5l18.3-17.8l-1-0.4l-26 17.6l12.6-27.6l362.4-274.3l-242.4 176.5l-129.3 114l82.3-18.7l74.7-136.6l-142.7 169.4l56.1-84.7l193.3-119.5l-197.6 137.3l-9.8 39.3l-31.4-18.1l-3.1-3l184.7-175.7l-177.6 209l13.8-9.2l-34.5-13.8l-11.4 17.8l21.2-34.7l3.3 12.4l117.2-44.1l-104.7 87.3l71.8-121.2l-46.2 80.4l320.5-392.1l-302.8 380.8l-22.9-27.4l-28.8 40.5l99.9-114.7l2.8 18.3l-0.5 50.1l-70.4 33.6l89.6-118.3l-30 92.5l-73.3 14.6l2 50.4l42.4-62.6l3.1-46.2l103.1-51.7l-76.5 38.2l85.1-19.8l-175 114l68.4-18.6l-85.6 44.2l34-31.4l102-115.4l-130.7 146l13.1-22l59.4-80.5l8.9 50l-91.5 32.8l95.9-41.9l-71.1 33.8l27.2-40.5l73.5-49l-91.4 73.6l-37.1 56.5l-6.7-26.7l255.8-233.2l-225.4 229l84.8-56.5l31.2-66.5l-84 140.7l-45.5 13.9l46.2-95.7l-25.5 33l102.8-47.9l339.6-295.7l-468.6 376.7l2.9 13l97-117l-42.7 65.3l-66.8 54.6l22.1-3.5l-4.3 1.1l244.3-274.1l-234.4 252.7l-29.7 30.1l92.3-51.8l13.9-89.1l-95.4 149.8l-9.1-1.9l3.6 2.3l19.9-12.6l285.6-326.5l-219.6 209.8l169.1-148l-234.6 213.1l12.8 43.9l-13.8-1.7l-16-1.8l-0.4 20.5l186-220l-0.8 8l64.6-19.8l-105.6 81l-30.7 25.5l-2.5 20.7l94.5-107.9l27.5-49.7l-161.5 226.5l9.2-77.6l121.8-75.3l-85.3 68.6l33.4-38.2l-141.2 145.2l53.8-36l-55.7 48.7l155-175.6l-73.7 59.8l-29.3 28.8l-38.8 89.3l93.6-71.8l-89 51.8l348.6-346.6l-275.2 236.5l-94.9 80l81.6-39.8l-76 73.3l99.8-115.5l322.6-318.1l-356.1 370.4l-68 62.5l155.4-92.4l-103.8 46.5l24.2-8.8l-39.6 45.8l39.4-2.2l37.7-109l-94.9 112.7l-7.3 7.3l178.1-233.2l-169.9 177.8l-3 13.2l39.4-26.3l21.7 10l15.8 21.9l193.3-242.4l-252.5 224.1l90.4-31.9l-98.4 91.5l34.6-96.4l418.8-426.8l-374.1 402.1l-117.1 133.3l9.6-28.4l4.8 20.2l222.7-177.3l-185.9 174.6l-53.5 10.8l75.8-90.2l52.6-45.3l-104.8 102.2l0.7-12.4l8.7-12.7l-8.4 39.1l248-231.4l-271.9 252.8l30.9-41.6l35.7-18l-40.2 49.3l115.5-108.7l-51.6 13.9l96.7-86.8l-75.1 117l70-62.9l-182.2 135.1l34.2-28.7l120.3-136.3l-120.4 166.8l29.3-73.9l-59.7 72.5l80.9-28.1l0.7-40.9l-4.1 18.8l-72.2 48.3l3.8 2.6l-13.9-0.6l104.1-126.1l-85.8 124.6l-2.6-8.9l200.4-151.9l-161 112.1l63-31.4l-62.3 45.9l340.9-395.5l-331.4 408.3l-32 14.9l32.9-107.6l-46.5 115.4l333.4-350l-322 323.3l101.3-72.4l-107.7 83.4l26.4-26.6l10.3-23.7l-19.9 12l-37.2 44l164.1-173.3l-137.2 156.5l31.5-10.7l111.1-69.2l-149.2 87.7l12.4-22.9l-27.3 15.1l238.6-269.3l-191.3 290.8l183.5-194.8l85.3-166.1l-260.4 334.7l-55-4.5l350.7-301.6l-258.8 229.1l-46.7 60l45.7-61.2l-33.2 43.4l2.4-38.2l386.3-338l-439 431.6l35.9-54.6l-22.5 29l32.3-57l-46.2 70.6l189.2-210.8l-196.2 234.3l92.7-148.1l219.7-146.5l-308.1 233.7l77.4-87.5l41.8 18.1l-35.9-25.6l45.1 39.6l85.2-84.6l-31.4-15.8l-169.8 183.9l34.4-59.7l66.9 21.9l-112.8 18.2l-5.9 52.2l250-267.3l-249.3 269.2l50.9-63.3l92.3-34.4l-133.9 95.7l232.3-263.3l-101.1 152.3l-59.4 40.7l-28.6 28.5l-52.6 16.9l76-31.4l-60.4 20.7l-13.6-11.1l29.4-2.3l-17.4 39.6l-12.2-10.8l25.9-11.9l-0.2-0.7l30-35l261.2-281.1l-287.5 292.8l-13 19.6l293.5-272.9l-309.1 292.3l34.9-25.9l101.7-112.3l-149.1 138.1l34.8-28.2l6.6 25.2l60.9-70.9l-38.5-5.6l6.5 42.4l-45.7 46.8l-12.8 4.4l13.2-11.1l41.9-57.7l27.3 31.2l42-119.8l-129.7 162.2l20.1-10.6l-1.5-11.1l94-124.6l-32.6 27.1l24 15.5l-55.1 45.4l-27.9 34.9l145.8-182.8l-42.2 63.7l-50.4 53.6l61.5-99.2l-62.9 89.1l-18.4 53l-6.9-15.1l96.7-132l-151.9 193.5l67.4-72.8l23.6-13.2l-71.3 86.1l97.3-144.5l-95.7 121.4l44.8-17.1l-35.6 38.8l430.2-416.1l-431.2 403.8l25.1 11.1l23.9-52.1l-58.6 18.2l54.4-3.2l-25.2-5.3l19.1-16.1l-29.4-17.8l-32.2 76.3l32.9-24.5l0.1-7.1l101.7-58.3l473.2-449.8l-490.4 440.6l-119.5 65.2l2.1 22l123-135.1l87.6-66.8l-176.9 153.9l147.6-158.6l-174.6 186.7l46.8 5.4l79.3-140.6l-77.9 111.2l18.7-26.8l-37.6 40.1l101.7-90.1l74.2-32.1l128.9-180.5l-216.7 222.3l-89.2 85.7l-12.1 8l26.3 24.1l51.7-142.7l181.9-102.7l-277.3 242.6l143.3-147l-131.3 135.7l2.4-20.4l18.1-37.7l23.7-4.2l-60.3 66.5l103.2-110.9l88.5-105.4l-171.8 234.2l-24.3-0.1l17.5-15.7l26-25.6l59.3-90.3l80.5-66.4l-172.9 186.4l24.7-36.1l156.8-191.7l8.6 67.9l-15.6 47.3l-102.7 54.6l206.1-167.2l-249.9 218.3l-8.9-26.7l-28.6 27.3l171.9-143.1l-150.9 125.6l101.9-48.3l-109.3 70l-14.7 3.8l205.3-204.9l-198.4 213.2l141.9-158.9l-65.6 119.5l-83.8 14.4l-2.3 11.2l26.8-16.2l7 9.4l163.4-175.6l-181.1 147.1l176.2-91.4l149-204.5l-325 312l-3 34.4l83.6-72.5l-22.5-23.1l84.5-93.2l37.9-60.6l-144.3 234.6l49.9-66.5l-40.8 34.9l-32.8 11.3l142.3-123.2l-139 151.8l-30.8 6l120.4-91.8l58-39l-70.1 22.5l-50.3 45.8l-26.4 50.9l59.3-82.1l40.5-13.9l-0.4-45.1l-119.4 151.3l171-207.1l-160.5 162.2l81.7-17.7l-92.7 43.9l98.1-56.2l-77.4 17l116.9-80.9l-147.6 121.5l154.1-89.1l-36.2 17.5l-101.5 70.9l194.9-204.2l69.9-74.7l-185.2 209.4l-76.3 73.7l-21.2 13.1l50.9-28.1l-44.1 3.8l106.1-75.3l-97.6 81.2l75.8-54.8l-65.4 73l73.6-99.9l-82.2 82.4l38.2-24.7l60.7-112.8l-104.8 122.6l356.2-306.2l-212.3 209.1l-135.1 84.2l-6.7 32.6l144.2-120.1l-148.6 132.9l10.8-27.2l46.8-25l-65.4 41.3l151.3-155.6l-100.3 166.4l-53.5-7.1l62.1-49.9l39.4-48.6l-79.6 78.8l59.5-70.8l18.7 61.3l-51.3-38.6l94.6-34.6l-38 11.8l-64.4 84.4l64.9-41.2l-68.9 40.1l-11.8-6.9l86.9-33.7l-78.6 9l48.6-45.2l-53.3 52.7l-29.6 18.3l97.4-53l52.9-78.6l-146.4 152.3l35.3-62l361-377.6l-292.1 347.2l-26 15.1l-75.6 77.7l8.4-18.1l208.7-223.4l-169.4 197.3l-36.7 28.1l12.5-4.8l60.6-122.5l112.4-17.3l-178.6 141.9l56.4-45.6l-73.9 50.9l154.5-129.8l-83.3 48l61.4-47.3l-123.9 99.8l5.6 7.4l-16.6 29.7l185.8-165.9l19.3-9.3l-177.2 171.1l98.4-83.8l-115.3 42l113-55.1l-77.2 40.3l-45.7 62.8l-6.1-34.3l155.9-123l-0.4 44l-20.3 9.5l180.7-212.3l-160.7 134l-149.6 172.3l35.9-8.8l-34.2 17.3l4.2-4.3l-5.1-23.7l146.5-136.8l-146.7 161l131-110.4l-31.3 38.6l-24.9 30.7l189.4-156.7l-166.7 72l-30.1 20.2l-15.4 28.6l-7.3 43l1.6 1.8l-50.4 40.3l99-32.3l-73.5-0.2l47.8-66.9l22.3 2.2l180.4-125.4l-116 128.5l-140.1 41.3l42.9-12.4l0.1-8.3l14.9 3.3l-71.4 71l35.5-57.1l-31.4 34.9l28-19.1l67.9-88.2l117.5-69.2l82.4-100.7l-264.8 249l22.3-16l125.3-180.2l-104.2 161.1l-85.3 82.1l45.8-3.7l-42.2-7.2l-4.8 15.2l16.4-8.4l319.7-272.2l-336.7 270.1l73.5-99.3l-8.2 30.1l47.9 1.1l-42.1-7l111.5-121.9l-9.5 82.2l-143.4 123.7l10-42.7l14.8-48.5l-53.7 80.4l49.7-93.6l-37.7 90.8l149.9-134.8l165.5-153l-269.2 229.7l53.6-48.2l-4 6.3l-14 56.8l6.4-40.3l-56.1 24.1l278.6-260.8l-303.4 334.2l57.9-82.2l-70.4 62.6l129.5-154.3l-90.1 146.6l107.9-103.2l-127.9 99.6l2.8 25l152.3-111.5l-109.7 84.2l5.6-97l298.7-186.9l-234.3 120.1l84.9 18l-154.1 63.9l121.7-42.4l-168.7 134.3l-8.3-2.9l35.7-3.9l-11 23.4l103.8-99.1l-106.6 66.6l158.1-207.6l-179.9 223l9.8-17.8l95.8-78.2l-88.5 66.4l-3.9 11.5l-31.4 43.9l58-65.8l-49.5 62.9l27.1-64.9l-29.7 47.2l249.8-195.7l-251.5 214.5l2.7 0l26.9-61l93.4-88.8l-106.2 122.8l101.5-59.3l0-21l-116.7 91.1l7.4-19.9l22.3 16.1l210.3-215.2l-208.7 234.1l-14.1-22.2l93.5-125.7l20.6-11.4l174.8-138.4l-307.8 286.1l239.1-214.7l-156.2 159.4l-26.4 23.9l69.6-141.1l-119.1 182l3.7-10.7l62.6-53.9l-52.6 15.2l-21.4 35.1l21.7-9.2l116.5-130.1l-106.1 120l85.7-15.9l-47.2-37l-61.7 85.9l97.1-134.8l19.4-22.6l-109.4 129.4l33.4-38.7l-48.9 67.9l6.2-22.1l-6.8 11.7l396.6-385.5l-324.8 347.9l-37.2 14.6l4.5 4.1l18.7-62.2l-10.2 57.6l-22.2 16.1l137.2-134.3l-55.7 73.7l44.4-46.4l-45.2 34.2l68.1-79l-62.6 19.3l-23.2 78.9l-43.1 10.8l262.5-209.2l-253.1 215l78.8-123.1l-91.4 160.9l25.6-78.2l34.1 61l-50-17.4l154.9-126.6l-162.6 126.6l21.4 10.1l-33.2-10l71.1-61.5l-60.5 63.6l26.2-45.5l144.3-121.9l-21.7-23.6l63.9-57.8l-177.6 265.5l-14.8 5.9l61.4-74.9l-49.8 23.8l-2.5 35l-73.8 47.2l1.1-2.2l124.7-101.2l95.2-73.5l-194.8 144.3l10.1-29.6l-14.7 44.4l142.6-114.1l24.4 0l72-61.5l-252.5 164.3l70.6-38.2l-68.5 52.2l-1.4 14.2l46-52.3l-9.4 4.9l123.1-91.7l-52 19.5l-47.1 37.2l27.7 30.2l-67.2 28.6l-24.1 24.6l116.2-88.1l-110.6 67.4l61.9 9.3l5.7-69.6l-53.8 57.5l8.4-1l-30.4 23.2l486.8-419.4l-276.7 195.1l-172.8 163.3l24.8 4.6l129.5-161.4l-127.6 192.9l-64.5-4.5l251.2-249l-136.2 147l-63.3 51.9l-44.4 65.9l55.9-69.4l-63.4 71.6l17.2-12.7l508.8-528.8l-308.7 339.6l-41.3-0.2l-156.1 210.1l106.8-142.3l-123.6 145l21.9-46.9l-6.6 44.8l36.5-80.2l272.3-271.6l-299.3 323.3l-10.6-4l-4.5 21.6l81.3-43.1l31.5-60.3l-76.6 63l12-18.4l33 16.3l-76.6 30.5l52.7-29.8l-26.4 16.5l186-187.3l-196.3 184.2l388.9-422.9l-169.9 169.4l-195 232.8l240.7-278.6l-260.2 274.5l226.7-209.6l46.1-84.7l37.4-37.8l-325 361.6l-10.6 14.9l0 17l200.1-260.5l-186.8 222.2l64.8-56.5l-88.5 90.4l15.9 10.2l9.1-35.3l99.9-72l-100.5 91.9l258.7-284.1l-276 271.6l167.2-183.9l-105.1 169.3l-20-7.3l111.3-167.7l-60.8 127.5l56.9-30.8l-157.1 120.6l-1.7 0.5l43.9-42.4l13.4 6.9l74.6-87.1l187.6-173.2l-159.3 188.9l-158.8 77l62.9-43.6l-17.9 35.2l283.9-317.1l-181.2 234.8l-100.1 54.6l-39.8 43.9l30.2-20.4l51.6-71.9l-87.7 92.9l-4.5 14.9l73.1-86.3l-73.1 87.4l131.1-179.3l-132.1 182.5l38.3-63.5l30.4-48.4l2.9 85.3l18.3-38.1l43.2-51.2l-59.2 52l-54.6 23.5l59.5-22.7l-39.8 17l175.8-101.8l-25.4-35.9l-191.2 156.9l23.6 25.3l76.1-134.5l54.6-26.2l-42.6 96.5l-34 18.6l-36.2 24.9l-4.9-1.2l45.5-51.2l-18.6 7.9l32.3-2.7l-57.9 31.2l0.4 15.9l3.9-7.4l323.2-334.6l-219.2 260.7l-84.7 52.3l-42.4 36l124.6-132.8l-119.1 145.1l-17.2 4.4l108.9-107.8l-62.6 89.6l55.4-77l204.9-237.6l-313.5 319l67.5 12.4l110.1-145.8l-45.8-7.6l61-67l37.7-46.3l25 40l-175.7 177.9l249.7-303.5l-224.8 226.6l2.2-6.6l118.6-87.2l-193.1 153.3l0.1 23.6l5.8-8l-4-0.2l121.6-72.6l3.6-37.5l-130.1 145.2l17.8 10.7l-37.7 5.7l30.8-23.1l87.5-95.4l-55.2 33.7l-45.9 83.3l116.1-77.5l-19.3-22.9l62.3-50.7l-171.3 135.5l11.6-35.1l47.6-11.5l-9.6-22.9l250.9-231.5l-277.3 288.4l281-292.1l-119.9 82l-198.8 240.6l297.7-259.4l-231.9 166.6l111.2-88.6l-81.6 77.8l80.6-98.9l-131.5 185.8l26-40l-42.1 32.5l117.2-104l-90.1 108.1l14.9-8l-39.1 28.9l565.1-601.8l-565.6 575.8l191.3-244.5l-222.6 270.7l28.8-51.5l99.9-109.7l-115.1 140.6l-1.8 19.2l36-50.5l-31.9 49.8l172.1-156.2l57.5-35.5l-187 155.1l170.9-216.3l-175.9 143.5l72.9-2.6l-23.5 36.4l-75.2 55.8l56.1-74.6l-43.6 48.3l21.2 0.8l-12 39.4l3.8-69.7l8.5-23.5l-34.9 88.8l197.8-262.9l-183.7 244.3l60.5-45.8l386.7-339.7l-412.4 335.5l-52.3 48.1l15.1 0.2l14.7 30.3l294.5-324.7l-301.3 327.2l143.1-162.3l-100.4 53.2l-31.7 73.4l-19.2 27.7l-11.6-40.8l117-48.8l104.8-116.4l-206.3 172.4l-28.7 12.6l-13.3 18.7l111-101.8l38.6 12.4l241.3-330.9l-141.6 203.6l-141 93.8l241.2-152.9l-315.4 248.5l13.5-30.5l37.8-29.1l124.3-138.7l-180.8 219.1l144.9-156.9l-114.6 88.5l122.9-119l62.8-71.6l-142.6 186l-91.4 88.8l178.3-146.3l-168.4 104.8l59.2-3.3l58-115.9l-13.2 24.4l64.4-14.3l458.7-418.9l-574.2 486l-74 82l114.4-166.2l-72.8 125.4l97.7-60l-131.8 103.6l56.8-61.9l33.6-23.4l-48.3 32.3l43-58.7l-43.5 71.2l-21.2 30.7l158.4-135.5l-161.6 141.5l36.3-57.7l-49 46.1l48.9-1.1l-17.1-47l-21.4 26.5l29.6 14.7l-10.6-24.2l161.7-164.4l223.4-209l-231.1 278.5l-125.1 82.2l297.9-252.4l-175.4 135.6l-70.4 106.3l86-85.5l-108.3 110.4l-65.7 12.1l200.5-190.1l-219 222l72.1-65.5l8.3-60.5l-40.4 40.3l67.8-53.4l-107.4 108l154.9-177.5l-110.7 176l-13.2-2.1l114.6-164.5l-35.7 59.4l293.2-258.4l-323.7 293.4l23.7 9.5l-47.5 25.7l-8 10.7l-2.8 37.4l98.6-166.4l56-0.6l-156.6 109.5l-56.8 50.1l5.3 26.9l348.1-322.3l-219.8 191.9l-57.2 51.3l-54.3 75.7l5.9-26.8l65.4-54.3l-80.3 66.8l10.4-6.1l1.5-1.4l-1.3 1.1l12-37.1l3 27.6l-20.4 32.3l38.3-63.2l19.2 14.3l145.5-170.5l-175.2 177.3l-32.3-3l87.3-29.4l-26.3 4.8l18.7 2.1l138.6-148.4l122.7-166.9l-230 242.2l-33 35.8l-59.7 100.2l157.3-160.6l-116.4 83.2l-41.3 66.2l10.2-54.9l-28.5 55.3l-14.8 19.9l48.2-36.6l13.7-24.6l-24-9.3l48.1-30.3l152.2-125.6l-230.7 210.1l13.3 11.1l-10-9.2l17.7 12.8l-12-35.8l7.6 19.3l46.9-7.1l-29.2-6.7l-15.9 18.8l357.6-337.3l-307.3 261l30.7 10.9l162.4-193.9l-252.9 248.1l88-61.6l-14.6 36.7l-37.8 41.3l59.7-102l-107 82.1l17.6 27.3l169.8-194.2l-125.1 140.8l0.9-25.5l0.7 20.3l31.4-22.3l185-247.1l-181.7 244.3l-87 82.4l295.4-243.9l-300.9 207.3l193.6-150.1l-115.8 87.5l-17.5 71.2l-68.9 20.7l10.9 8.5l28.2-53.3l-36.9 34.7l31.2-19l-13.1 6.3l35.5 11l37.3-26.8l-21.4-65.4l2.5 55.4l-27.3-1.6l198.5-173.9l-52 86.2l-148 83.1l213.6-147.3l-161.4 119.8l-99.6 89.3l39.7-58.5l474.2-391.9l-465.2 397.3l204.2-201.2l-104.8 116l-34.3 41.2l8.2-27.2l-14 17.4l51.9-43.6l-125.1 121l106.2-116l-44.8 47.2l54.1-51.3l-149 150l18.7-14.4l48.3-66.9l257.8-183.3l266.8-326.2l-572.4 570.4l267.5-200.8l-268.1 197.8l86.7-87.6l9 12.8l-66.1 61.5l132.4-83.2l165-163l-327.3 283.4l71.2-43.8l306.3-404.5l-298.5 308.8l-96.5 128.4l21.1 0.9l29-67l-9.7 40.1l19.7 15.8l36.2-96.8l-99.4 107.6l234.5-162.2l-218.8 149.6l258.7-248.9l-178.2 197l-87.5 57.8l55.5-67.2l21.4 38.9l-1.9-72.1l-28.4 64.3l551.8-553l-389.2 367.1l-152.8 215.4l-57.8-24.9l23.4 24.3l74.5-35.2l-56.9 8.3l-26.6 29.2l-14.3-15.3l-6.1 35.7l62-53.4l-36.4 13.4l-6 16.2l-2.3 10.2l168.5-171.7l-131.5 142.7l-49.8 30.5l19-19.2l116.3-126.9l26.3-30.5l-115.7 166l70.8-89.3l-122.1 112.4l99.3-53.4l-93.8 42.1l380.1-310.8l-211.6 131.2l-35.9 3l-139 190.1l74.4-120.2l5.5 60.2l-60 58.3l32.9-25.8l113-169.3l-25.5 44.5l-114.2 137.4l44.5-56.2l-12.9-20.6l337.1-253.8l-311.1 252.6l-73.5 81.5l51.5-59l-34.3 68.4l-23.2-14.9l21.8 4.4l155.6-164.4l17.7-57.8l-101 92.7l48.1 21.1l-125.5 121.1l154-212.6l-114.5 119.2l62.7-28.9l368.6-418.6l-485.2 528.5l196-126.9l-113.7 18.6l-2.7 64.8l-43.6-5.2l-21 58.3l15.6-47.8l-36 38.2l4.4-12.2l44.9-30.6l-13.5 30.2l-28.3 9.5l68.7-42.2l9.3 22.6l-8.9-64.9l-72.5 90.3l311.4-296.5l-315.2 304.8l104.4-133.2l-88.7 133.4l4.5-0.3l-12.2-10.8l145.1-101.8l-116.6 88.1l-8.2 9.2l-14.5 8.5l-14.9 5.4l16.2-15.5l-9.8 7.7l176.5-185.7l-176.8 189.7l31.9-32.3l36.8 4.4l-65.3 32.8l139.2-130.8l-42.3 34.1l-54.9 82.5l-26.8-22.8l385.4-336.7l-219.5 211.9l-85.8 21.7l-17.8 83.6l-73.7 56.3l176.5-122.2l-187.1 123.2l232.6-282.2l-192.3 253.4l-33.7-10l37.2-13.3l6.1 18.4l102.3-119.8l-35.3 15l-28.7 61.2l-18.2 10.9l76.1-123.2l-141.5 152.5l75.2-46.8l16.5 8.7l-97.6 73.4l88.9-24.9l45.2-49.4l-135.1 76.9l112.5-168.3l-90.2 134.3l7.5 33l346.6-309.8l-280.9 199.4l-86 83.2l58.4 24.6l-67.6 2.7l155.2-157.7l-46 95.3l-13.3-30.9l20.1-79.7l39.5 33.4l-100.4 120l-7.6-21.8l91.9-42.2l-77.6 0.1l20 22.7l90-64.3l-89.1 50.5l280.5-284l-362.2 336.9l1.5-14.6l134.5-73.2l-130.4 89.3l92.1-64.5l61.4-63.5l-97 121l-24-48.3l41.3 0l189.2-221l-40 40l-96.3 79l-80.5 132.9l-43.5 24.2l43-51.7l-38.1 71.5l75.8-110.6l-70.7 71.6l37.6-40.6l146.5-136.9l142-98.2l-198.9 220.4l-81.4 74.4l108.4-195.6l-121.4 169.2l121.3-144l-68.1 137.6l-42.3 17.9l55.7-73.2l41.1-87.9l-159.3 189.9l30.6-41.3l152.4-80l-81.2 23.8l-15.2 66.7l-87.8 35.8l19.4-38l148.1-102.6l-11.7 35.9l-32-5.5l-104.5 103.6l83.9-37.5l-87.5 28.3l68.1-122.5l6.4 70l92.8-147.7l-112.8 165.2l-29.6-8l-12.8 60.2l111.7-118.8l127-137.3l-219 185.3l68.7-62.4l-40.3 78.8l25.1-102.4l136.9-67.5l182.5-136l-326.2 280.7l-57.1 26.9l12.3-5.7l-13 29.3l-16.9 19.9l95.8-112.7l-13.6 50.8l51-106.2l-61.3 65l105.4-91.1l-80.5 110.5l36.1-17.8l-144.7 112l21.1-1.7l441.3-472.5l-410.2 402.6l-21.1 50.5l228.7-220.9l-247.2 234.7l111.5-99.9l-75.9 6.2l-19.8 42.6l63.2-4.4l5.1-23.9l-15 22.4l-81.2 45l16.2-5.1l137.9-146.4l-61.7 28.6l-22.3 70.9l-17 28.9l-16.7-3.1l102.3-45.7l-64.4-20.4l57.8-29.2l-138.1 140.7l50.6-5.7l111-122.6l-70.1 26.8l50.4-25.2l-127 113.6l15.6-17.6l-30.5-3.6l485.6-459.2l-455 477.5l43.1-48.3l162.8-175.4l-201.8 145l120.6-51.1l-80.1 71.3l-9.5 42.2l-47 26.5l172.3-211.6l44.2-46.6l59.4-31.4l-219.5 182.5l124.4-126.4l-201 222.8l302.7-275.5l-162.2 184.6l-139 86l62.8-97.4l-23.3 89.4l193.4-246.8l-16.2 47.2l-63.9 41.2l-98.9 135.4l-53.6 30.7l114.2-152l186.9-112l-239.7 224.6l-30.1 11l-4.8 0.7l-16.6 30.3l97.3-93.7l-75.6 54.8l125.4-96l98.8-123.5"/>
<path class="pr" d="M163.1 580.6l-14.1-149.9l-56 187.9l46.6-189.7l174.9-13.4l-49.3 93.4l-16 1.9l199.2-433.3l-90 21.9l14.3 249.8l-220.1 10.6l86.5 176.3l-43.4-151l6.7-86l39 30.5l164.9 18.1l-261.1 223.4l59.8-12.9l342.7-350.6l-260.6 86.6l110-143.7l-161.9 175.9l163-197l-186.6 160.4l52 268.4l-146.2-137.9l525.9-286.6l-513.2 485.1l51.8-245.4l257.3-263.9l-270 494.4l326-358.7l-200.2 16.2l26-71.7l-162.2 392.9l42.6 54.9l176.3-476.9l-296.3 470.7l18.9-204.2l288.1-416.2l-174.5 283.5l172.5 51.3l-133.9-55.8l43.8-84.4l-189.8 258.8l260.1 2.3l-222.5-56l46.4-108.2l205.4 135.5l-324.3 201.5l252.6-167.1l107.2-32.5l-40.4 74.4l-280-46.6l107.7 36.8l164.1-3.6l55.4-394.8l-93.9 87.7l285.8-80.9l-334.1 162.6l-196.3 200.8l124.1-128.6l75.7-148.1l-153.5 381.1l34.6-30.3l38.2-42.9l217 19.8l-255.9 15.9l127.2-340.9l-117.8 50.2l13.4 316.4l-39.7-206.4l228.9-13.5l-53.1-159.9l-241.3 426.7l260.1-115.8l-46.6-343.8l-215.7 479.2l162.5-118.8l263.4 37.1l-337.5-20.7l47.7-45.1l-138 145.7l154.3-322.5l-13.6 23.3l110.5 57.4l77.7-238.8l-129.7 346.2l226.8-202.1l-261.1-1.6l-18.6-35.2l-28.2 346.3l-43.7-52l477.2-436l-163.7 262.3l-340.6 203.7l70.2-20.3l19.7-272.7l60.6-22.9l-25.2 206.1l-0.6-190l132.8 60.9l-45.4 103.9l-149.1-80.4l74.2 104.5l-132-54.8l181.3-181.7l100.5-85.7l-211.1 426.8l-86.8 22.2l170.7-338.9l185.8 25.1l-163-22.4l-205.3 362.9l121.6-124.9l105.1-325l-173.5 392.9l-45.3-207.4l169.8 126.6l56.7-115.8l-166.9 24.2l86.4 113.5l-54.6 15.7l-109 96l327.6-303.5l-263.6 243.3l181.9-193.6l-254 243.6l142.8-135.1l-61.8 124.7l-26.8-215.3l342.3-109.4l-187.2 180.7l-58.8 64.8l47.4-330.4l-161.1 434.4l125.3-354.2l138.8-117.2l-254.6 227.5l235.3 37.4l-102.5-136.7l-192.1 354.1l149-88.3l-66.4-194.3l474.4-259.9l-303.4 78.5l-143.5 377.1l207-190.8l-276.7 91.3l-10.3-17.1l34.4 127.4l-46.4-98.6l-28.5 171l466-216.2l-118.1-97.5l-346.8 143.4l338.4-72.2l-135.9-210.4l-122.5 240.4l16.5 134.4l155.2-89.1l-276.6 59.7l251.7-338l-48.4 272.7l-125.8-13.4l196.1-197.3l-206.5 194.8l80.4-148.3l289.7 105.8l-402.8 70.7l376.6-171l-320.8 285.9l354.8-283.2l-213 166.8l-124.3-91.8l55.8 128l343.7-109.5l-305.8-69.7l35.4-198l-34.8 99.9l8.4 242.3l31.7-19.4l-137.1-119.4l45.8 212.6l308.6-227.4l-270.6 3.6l47.8 125.3l132.7-285.2l-344.2 324.7l144.7-199.6l-69 64.8l271.6 147.3l-52.1-285.8l-117.3 46.7l-53.1 62.5l-70.2 278.9l157.1-162.3l-14.3 21.3l33.7-254.5l15.9 208.1l-32.8 63.8l-43.6-185.5l183.1-176.8l-183.7 352.6l191.5 69.3l180.9-352.3l-152.5 91.4l-377 354.5l82.2-44.1l317.4-332.2l-142.2 114.9l-53.9-134.4l-54 315.4l245.8-241.4l-267.1-24.8l332-59.3l-363 308l-19 40l121-319.9l-160.1 364.1l24.8-50.3l61.2-4.5l-167.2-36.5l137.4-177.6l68.7 128.9l197.4-89.6l37.4-346l155.3 49.6l-491.3 466.9l13-147l235.6-69.5l-98.1 77l-115.4 111.4l148.8-330.3l117.9 137.1l29.1-255.9l-322.3 328.9l-94.4 87.5l221.2-279.4l-146.2 193.5l283.4-23.7l-225.3-22.5l-63.2 14.6l90.4-215.4l177 201.9l23.7-344.8l-123.6 254.4l213.1 180.8l-247.1-224l54 213.5l-151.1 110.8l277.1-440.8l-278.7 426.7l86.5-234.4l-42.1 258.3l63.1-359.5l-43.1 50l32.9 21.7l-60.5 244.5l18.9-21.5l269.9-424.4l-359.5 308.9l204.1 26.1l-242.8 24.9l219.9-20.9l-128.9-99.4l366.5-320.6l-447.9 403.2l197.5 106.7l-160.1 58.5l150-277.5l32.8 247.5l-142.5-143l120.2 92.7l-4-58.7l-9.5-201.6l-76 11.7l-131.5 185.4l235-244.6l-178.5 402.9l-0.1-176.7l192.2 98.3l20.1-9.2l-224.2-103.5l89.5 114.9l-106.9 100.9l-40.1-104l462.2-309.1l-321.6 350.3l14.2-33.3l-147.4 128.8l392.2-259.5l-271.3-13.1l-63.5 216.9l76.5-215.6l-18.6-82.6l-76.6 137.7l198.4-189.8l-153.7 315.3l-56.7 64.8l138.5-338.4l165.9 175l-203.9-171.5l300-280.1l-197.9 527.1l-171.1 55.8l189.9-165.4l-40.8 18.6l-103.1 104.4l-13.9 6.5l-68.8 63.5l315.7-214l-262.6 24.1l95.9 75.7l128.6-308.4l-61.5 303.4l-113.7 22l210.6-393.7l5.2 354l-119.9-44.5l-119.2-25.7l84.6-100l141.6-191.4l-222.6 442l140.9-138.6l-220.8 59.5l402.2-91.3l-79.5 23.9l-269.3 161.3l99.8-91.5l52-8.8l55.2-25.4l-182.9 133.9l-69.5-148l406-158.3l-410.1 354.5l171.9-548.5l142.3 360.9l-323 40.5l171.1-250.9l-138.1 356.9l213.2-193.4l-61.2 105.1l57.9-260.3l154 18.2l25 32.1l-362.4 293.4l92.9-269l46.2 126l-146.5 129.5l13.5-212.7l-3.2 26.3l-36.9 219.9l99.8-85.6l-81.2 84.5l-1-185.3l64.2 140l31.4-244.2l-9.4-65.7l-46.7 151.2l144.1 65.7l-145.9 101.9l66.9-77.9l-148-33.1l11 180.6l247.5-422.4l-117.4 266.3l-15.8-175.4l-15.2 237.4l2.6-243.1l333.1-266.9l-220 235.3l-119.2 102.6l215-309.1l-146.1 235.9l267.1 11.7l-448.7 182.7l331-184.6l-225 242.8l-90 66.9l399.6-276.5l-412.6 292.6l64.2-212.3l111 125.2l-146.4-102.2l203.4-17l-2.6 69.2l-126.7-118.7l-11.4-57.5l46.1 191.7l-61.9-159.1l159 179.5l-78.3-24.1l-85.8 48.3l41.1 3.7l-55.4-201.9l227 44.3l13.1-220l-208.4 357.6l302.7-129.3l-268.2 132.7l71.2-92.7l-212.5 36.4l152.3 4.7l62.9-33.9l324.3-147.4l-236.1 43l-194.2 212.3l182.9-84.2l62.5-45.3l-60.8-4.6l-171.4-139.2l220.7 78.5l-111.8 44.9l-66.1-244.4l110.9 60.5l-123.4 75.9l25.7 169.3l13 31l-167.3 113.2l286.4-222.1l-158.6-65.3l3.6-52.5l26 189.4l-177.2 1.3l209.4 2l-92.4 56.6l-74.7 79.2l309.3-509.8l-287.9 476.5l1.7-145.7l175 35.2l92-108l-111 100.6l-147.6-37l204.9 29.6l80.6-139.4l-81.2 79.1l-140.3 139.4l181.3-84.6l245.9-266.1l-490.9 231.9l36.5-78.6l59.8 233l-28.3-27.1l153.2-11.3l43.2-136.2l203.3-172l-78.2 170.7l-171.2 57.8l-133.6 60l44.6-238l-49.1 238.7l199.7-27.6l-339.4-33.4l44.6 151.2l99.6-76.4l395.6-362.8l-499.7 222.3l207.9 94.5l67.1-311l18.1 182.7l-31.9-267.3l-310.2 357.1l118.9-82.1l95.3 84l44.7-191.5l-199 382.4l33.3-317.9l54.1 249l-104.8 75.2l303.1-194.8l-167.4 42.4l-135.6 125l29.5 4.8l58-241.2l-40.3 173.2l295.8-124.1l-320.6-21.6l-12.1 205.5l214.8-395.8l-175 140l-46.7 240l456.3-210.3l-476.6 228.3l-21.4 17.7l113-247.9l4.2-91.8l35.8 254.5l42-45l-81.5 26.8l210.9-433.7l-337 380.1l142.4-231.1l-64.5 134.4l93.1-35.8l-30 33.7l102.6 107.9l-0.3-48.7l-214.4 183.8l251.9-431l0.8 192.5l36.5-251.7l-353.8 411.9l320-9.5l-192.1 27.4l-60-85l338.4-170.3l-124.9 194.5l-12.3-50.4l-51.9-200l-51.3 76.3l10.1 40.5l-21.4 23.4l17.4-16.6l-20.3 12.5l239.9-73.1l-165-31l-6.7 6.7l3.8 179.5l-138.9-78.6l168.9-204.7l-147 398.5l-53.6-136.7l136.1-88.3l-74.8 261.2l195.5-215.3l-160.1-15.6l405.5-107.4l-200.7 115.6l-173.1 141.8l32.3-60.4l41.3 8.1l140.2-124.9l-214.2 204.1l-73.5 31.5l-14.9 26.8l89.3-369.9l113.3-95.1l-160.8 396.4l181.2-480.2l-246.9 355.5l137.9-148.5l-63.1 113.2l208.8-0.1l-62.8-250.6l-80.3 409l217.8-468.1l73.6 126.6l-391.3 220l-31.9 214l-25.8-182.2l338.5-151.8l-46.8 150l-266.9 185.8l91.7-101.5l-135-70l258.8-45.4l145.1-92.2l-185.8-60l235-61.7l-186.2 211.2l108.1-355.5l186.3 130.9l-343.8 27.5l-54-20.2l48.7 252.4l-42.7 49.8l3.4 34.6l-67-142.6l328.8-13.9l-330.1 212.4l144.6-440.7l-179.5 451.9l126-329.4l-158.3 195.6l71.9 93.2l110.1-324l-60.8 101.8l116.6 41.8l76 22.6l-199.1-167.6l-151.9 408.1l251-230.1l92.4-62.5l-250.8 264l-14.4-40.8l36.7-45.2l105.3-78.9l-134.7 127.9l267.1-416.6l-105.5 261.3l-0.9-185.7l-139.2 340.1l162.9-336.3l43.9-116.2l1-74.8l-247.9 356.5l41.5 133.5l-2.7 26.4l159.6-168.5l-275.2 110.5l90.7-118.1l88 98.1l81.6-95.5l78 102l-188.7-128.4l218.2-58.6l-310.3 56.2l90-73.5l-77.5 292.8l161.5-141.8l-188.4 7.5l12.8-2.3l103.4 64.4l191.3-413.2l-241.5 302.9l57.5-92.3l-149.5 335.5l263.4-223.4l-142 114.7l-42.9-136.1l65.6-182.2l67 16.2l-108.2 298l21.9-268.6l-124.1 369.4l240.8-417.9l29.2-127.5l-65 157.3l-34.7-3.6l323.2-38.1l-177.3-99l-243.9 455.3l-14.9 35.1l153.3-367.1l-38.3 26.7l256.7 47l-362.6 76.1l47.9-54.6l328.8-62.6l-322.7 311.3l-103.9 54.4l215.6-353.1l-110.8 243.4l176.2-159.2l-178.2-16.4l46.4 288l197.9-312.8l-241.1 30.2l218.1-224.9l-282.5 314.7l75.1-160.7l-16 242l-37 93.4l272.2-255l-352.2 282.5l346.2-346.8l-153.6 164.1l-81.6 132.1l47.3-17.2l48.1-324.5l172.1-139.3l-277.8 457.8l28.5-224.4l173.3 41.4l-267.7 39.5l-1.8 15.1l121.7 54.5l-45.3-151l201.4-9.8l184.5-114.4l-438.6 177.2l291.1-90.7l-14.7 140.1l-107.6 64.4l21.1-380.5l-128.2 396.2l380.9-43.1l-6.3-304.4l-5.8 29.1l-385.1 354.9l56.2-257.7l-99.8 128.9l-6.4-61l142.8 122.5l189.4-206.4l-351.2 348.4l507.6-387.9l-303.1 188.3l-10.3 1.5l50.6-253.6l1.8 184.2l-39.9-174.5l38.2-31.6l-280.3 485.6l226.7-513.4l-74.3 362.9l-132.4-19.7l161.7-20.4l-61.6-110.6l5.4 12.6l69.3-147.1l351.1-105l-364 384.9l142.1-170.8l-114.7-84.8l15.4 185.4l-128.8 152.6l-31.4 49.7l2.8-52.2l-9.5-124.6l347-429.6l-167.1 237.7l-151.5 143l0.2-76.7l335.7-49.1l-334.2 127.6l102.4-101.2l-35.7 256.2l133.9-162.3l-169.2-58.9l212-18l-368 163.4l31.8 170.3l108-350.6l106.8-47.4l257.6 55.5l-320.6-69.5l-143 247.4l-6.1 152.9l186.7-69.3l12.9-287.4l-102.6 56.4l-8.3 218l235.8-221.9l234-233.9l-397.2 110l-139.1 264.3l156.1-221.7l-14.8 255.2l55.2-57l74.4-360.7l-57.5 409.6l-14-338.4l-67.9 342.7l-97.1 78.2l114.8-448.9l71 130.6l-117.9 80l54 125.1"/>
<path class="l45" d="M0 644.2 L660 0"/>
<path class="lb" d="M0 579.78 L594 0"/>
<path class="lb" d="M66 644.2 L660 64.42"/>
</g>
<rect class="sp" x="0" y="0" width="660" height="644.2"/>
<path class="tk" d="M-6.5 644.2H0M0 644.2V650.7M-6.5 536.83H0M110 644.2V650.7M-6.5 429.47H0M220 644.2V650.7M-6.5 322.1H0M330 644.2V650.7M-6.5 214.73H0M440 644.2V650.7M-6.5 107.37H0M550 644.2V650.7M-6.5 0H0M660 644.2V650.7"/>
<text class="tl" x="-15" y="652" text-anchor="end">0</text>
<text class="tl" x="-15" y="544.63" text-anchor="end">10000</text>
<text class="tl" x="-15" y="437.27" text-anchor="end">20000</text>
<text class="tl" x="-15" y="329.9" text-anchor="end">30000</text>
<text class="tl" x="-15" y="222.53" text-anchor="end">40000</text>
<text class="tl" x="-15" y="115.17" text-anchor="end">50000</text>
<text class="tl" x="-15" y="7.8" text-anchor="end">60000</text>
<g clip-path="url(#xc)">
<text class="tl" x="0" y="674.8" text-anchor="middle">0</text>
<text class="tl" x="110" y="674.8" text-anchor="middle">10000</text>
<text class="tl" x="220" y="674.8" text-anchor="middle">20000</text>
<text class="tl" x="330" y="674.8" text-anchor="middle">30000</text>
<text class="tl" x="440" y="674.8" text-anchor="middle">40000</text>
<text class="tl" x="550" y="674.8" text-anchor="middle">50000</text>
<text class="tl" x="660" y="674.8" text-anchor="middle">60000</text>
</g>
<text class="al" x="109.1" y="717.6">True Cumulative Oil Production (m</text>
<text class="sup" x="523.98" y="708.1">3</text>
<text class="al" x="534.28" y="717.6">)</text>
<g transform="translate(-106.1 581.2) rotate(-90)">
<text class="al" x="0" y="0">Predicted Cumulative Oil Production (m</text>
<text class="sup" x="470.67" y="-9.5">3</text>
<text class="al" x="480.97" y="0">)</text>
</g>
<text class="r2" x="43.5" y="59.7"><tspan class="it">R</tspan></text>
<text class="r2s" x="65.6" y="48.6">2</text>
<text class="r2" x="82" y="59.7">=</text>
<text class="r2" x="111.6" y="59.7" textLength="76" lengthAdjust="spacing">0.772</text>
<rect class="lg" x="289.6" y="434.2" width="357.7" height="197.8" rx="8.5"/>
<path class="lr" d="M304.5 458.7H350.1"/>
<path class="lbl" d="M306.4 489.4H348.9"/>
<circle class="mb" cx="327.7" cy="521.7" r="2.3"/>
<circle class="mr" cx="326.1" cy="577.5" r="2.3"/>
<text class="lt" x="363.2" y="466.5">45</text>
<text class="ltd" x="387.7" y="457">&#8728;</text>
<text class="lt" x="406.3" y="466.5" textLength="108.6" lengthAdjust="spacing">straight line</text>
<text class="lt" x="363.2" y="497" textLength="227.4" lengthAdjust="spacing">Absolute error = 6000 m</text>
<text class="lts" x="593.1" y="490">3</text>
<text class="lt" x="363.2" y="528.5" textLength="256.8" lengthAdjust="spacing">Sample point of cumulative</text>
<text class="lt" x="363.2" y="556.4" textLength="128.1" lengthAdjust="spacing">oil production</text>
<text class="lt" x="363.2" y="586.5" textLength="252.9" lengthAdjust="spacing">Sample point with absolute</text>
<text class="lt" x="363.2" y="615.1" textLength="221.7" lengthAdjust="spacing">error exceeding 6000 m</text>
<text class="lts" x="585.8" y="608.1">3</text>
</g>
<g transform="translate(981.6 824.2)">
<g clip-path="url(#ax)">
<path class="pb" d="M29.1 638.7l-14.7 0l73.5-69.3l-73.2 67.4l24.1-27.3l506.2-510.9l-540.8 541.1l25.4-22l25.5-6.3l-5 16.5l-16.1-3.6l-4.3-33.5l52.6 3l-66.3 23.4l50.8-46.6l-65.4 65.9l64.9-104.1l-23.5 108.7l3-23.8l31-17.8l76.6-70.8l-153.2 101.6l88.4-80.2l-54.7 65.3l-14.3 10.3l207.4-226.7l-217.8 218.8l75.4-105.9l66.2-5.5l-130.5 119.5l46.1-49.1l0.6 17.6l-33.6 5.8l25.9-49.9l-59.1 92.8l12.1-21.9l23.8-26.9l-9.2 6.9l38.8-43.9l37.5 2.4l-88.1 38.2l46.2-30.4l48.3-48.2l-11.2 7.8l65.9-69.4l-156.2 177.6l104.5-126l-84.6 90.8l93.5-85.9l408.7-369.1l-440.4 393l-58.8 85.2l-19.2-1.4l28.3-17.7l34-34.6l76.9-90.2l-122.8 121.6l-14.8 21l-2.3-3.5l98.8-52.6l-71.5 49.5l-20.7-12.8l33.7 17.3l-47.3 13.8l66.5-40.4l-23.6-10.2l164.5-178.5l216.9-197.5l-351.1 323.5l-20.8 57.7l-53.6 55.9l88.5-91.2l95.1-135l-180.8 212l1.4 12.6l25.6-81.7l6.4 39.6l17.4 7.9l-32.9 23.1l24.4-35.8l-39 37.2l70.5-23.7l-61.3 2.6l6.8-0.4l61.2-111.6l56.9 38.8l-21.6-1.4l-106.2 89l127.5-174.1l-141.2 189.6l182.5-191.1l-134.9 162.1l-8.7 11.9l156.8-157.9l-128 82.7l-26.9 23.8l-35.9 67.6l21.2-45.1l-15.3 36.8l49.2-69.5l-36.6 72.5l121.7-128.8l-60 25.6l38.6-33.2l72.9-67.9l-142.3 152.5l-52.9 59l35-43.5l33-4.1l-46.2 30.4l157.2-194.8l-150.7 170.1l-14.9 42.7l-12.1-22.4l13.1-19l384.7-325.5l-374.1 344.4l32.8-66.8l63.2-22.5l-118.7 101.3l81.8-91.5l-65.3 87.9l78.9-102.5l-95.6 115.1l5.6 2l107.2-66.2l-112.4 44.1l67.8-92.7l-33.2 83.7l-20.6 6.8l19.8-41.8l28.8 36l-63.9 22.4l-1.9 6.4l38.6-31.1l3.6-4.2l-6.6-40.5l-3.1 40l-2 20.8l124.9-144.2l-136.9 145.8l27.8-28.2l1.8 17.3l119.9-136.3l-26.2 58.2l27.3-104.6l-106.9 134.1l17.2-28.4l53.9-8.1l-92 60.8l-31.6 19.4l241.3-264.3l-243.7 285l42-23.8l-29-13l16.8 11.8l7.2 14.2l4.2-4.2l47.1-36.9l139.7-162.5l-204.6 175.6l47.5-33.4l15.9-43.3l-67.9 86.3l-22 37.5l21.4-40.5l33.2 7.4l-55.7 30.6l37.2-27.8l243.4-216l-271.2 245.4l26.7-37l-40 36.9l38.2-57.8l8.1 31.3l215-176.6l-257.9 197.5l273.6-217.3l-238.3 163.9l102.3-87.6l-101.8 105l-25.7 31.7l38.8-44.8l-14.5 40.1l71.9-74.7l-53.1 80.7l74.1-79.9l339.8-423.3l-436.4 493.3l96-104.9l-67 81.3l-33.1 20.4l71.4-139.3l-94.1 162l155.6-167.7l-28.6 1.5l-123.1 148.8l7.1-17.2l154.4-117.7l-122.3 60.3l20.2-3l-6.7 6l-45.5 78.4l49.6-17.6l345.4-427.1l-145.8 198.2l-207.5 166.2l174.7-148.2l-195.3 165.4l36.5-27l-68.6 94.5l49.4-48.3l9.6-53.6l206.7-200.2l130.5-61.3l-327.3 321l75.7-132.2l-106.7 128.7l83.7-72.5l-14.2-2.8l-48.5 84.7l-51.9 24.7l94.3-61.7l252.5-246.8l-268.2 217.8l-90.3 95.2l20.5-20.4l65.9-77.4l45.5-24.2l80.8-121.5l-157.5 194.1l260.9-215.9l-282 262.3l-34.1 14.7l38.3-10.5l32.7-49l-37.3 16l49-44l-35.8 6.7l-44.3 55.8l94.7-79.3l-70.8 61.3l10.8 17.6l-21.6-2.6l-6.6-8.9l146.9-116.6l-137.7 115l24.3-5.8l-29.3 25.6l11.1-9.6l46.3-92.7l-26.1 71.8l-48.4 50.4l36.6-30.6l2.6-25.4l7.3 5.7l-18.1 9.5l17.6 32l-44.7 4l19-40.2l48.6 23l-52.2-2.5l74.1-87l57.2 18.6l-90.9 20.6l-55.1 71.8l433.3-394.7l-433 396.8l87.5-115l17.8 1.5l-7.9 68.5l-90 28.4l128.1-159.6l-80.1 142l147.4-188.8l-116.1 114.5l19.3-37.8l125.8-102.8l321.9-307.4l-424.7 428.9l-75.8 105.1l49.9-82l-18.1-5.8l59.4-94.2l-108.6 163.5l82.5-98.5l-100.1 89.1l103.8-20.5l-56.6 6.4l-15.1 18.3l49.9 7.1l-85.5 16.7l37.2-33.9l0.9 55.1l-28.3-33.3l61.4-80.1l-41.1 82.9l32.1-95.4l66.2-71.6l-94.7 98.9l7.3 53.5l3.6 15.5l-24 3.7l157.2-138.4l-194.4 147l4-10.5l77.4-37.6l-14.3-5.4l14.8-22.9l-33.4 64.2l14.6-30.5l-19.2 11.7l-34.7 11.5l394.2-352.3l-330.6 352.8l51.6-137.1l-37.8 83.6l-83 90.9l308-313.7l-291.6 310.2l14.1-20.5l26.6-72.3l-31.9 69.1l-14.4 3.7l4 6.8l17.8-22.5l-19.9-2.7l22.9-28.8l148.2-90.3l4.3-89.3l-110 183.9l16.4-39.5l139.5-76.7l-210.9 160.3l-22.6 11.5l-0.1 3.2l15.6-9.9l153.8-125.2l-76.3 36.8l100.5-39.7l-173.6 111.2l29.6-27l2.8 18.5l50.4-28.8l-35.5-31.2l5.5 78.2l-66.6 21l21.3-39l-26.6 28.4l0.1-7.8l552.9-491.3l-549.8 485.7l95.4-99.4l486.7-415l-380.4 284.3l-79.3 188.7l-124.4 66.1l-6.8 2.4l42.2-56.4l123.9-133.6l-88.6 124.6l-54.6 36.5l148.3-88.9l-132.8 105l284.2-244.6l-262.3 178.9l-46.8 66.5l41.2-56.6l-35.6 47.7l133.9-87.1l-69.2 46.8l-82.3 54.4l29-27.6l2.3 31.2l2.1-29l-31 31.4l44.5-12.6l-37.7 14l454.7-513.9l-420.3 461.9l-8.9 23.5l-24.4 27.1l12.4-32.1l143.4-127l-100.7 68.2l-60.8 92.4l15-24l48.4-68.3l-28.8 53.6l-1.1 0.8l-38.4 36.1l135.2-94.7l-117.1 53.1l57.3-43.5l95.4-127.4l-142.1 212.3l13.9-0.8l10.3-67.9l35.7-32.4l-60 63l-22.6 38.4l482.2-426.3l-454.5 408.2l50.8-93.6l-12.8 8.1l-24.9 79.3l-32.4-15.1l36.1-47.6l7.3 18.6l-6.4 21.5l7.7-4.9l-57.4 39.9l1.6-15.4l80.7-27.1l-57.6 28.9l16.2-33.1l-2.1 7.8l94.2-54.7l-125 73.3l-6.6 28.1l166.3-104.5l-147 51.6l26.2 45.1l-8.8 6.1l295.2-279l-286.7 203.5l83.1-39l-132.6 122.5l82.3-74.5l-60.7 61.2l61.8-90.9l-46.4 27.3l-34.4 74.2l13.9-15.2l-16.4 7.8l65.5-62.2l-41.5 40.2l-15.2 30.3l132.5-138.3l-100.7 53.5l-39.9 86.5l174.6-234.3l-133.3 198.1l1.1-0.8l-40.9 34.6l165.4-101.9l-67.9-13.7l-39 82.8l-59.1 35.1l122.7-175.9l177-152.9l-248.5 272.9l-16 39.6l-14 0.3l42.4-87.3l63.5 1.6l-118.6 89.5l44.3-63.6l37.1 18.6l-81.2 37.8l7 18.1l27.4-60.7l-20.6 41.3l117.7-171.6l-36 118.8l184.6-258.5l-228.2 281.2l-12 19.9l23.3-12.3l-30.5 25.4l41.5-91.7l4.3 6.2l-47.8 52.4l191.4-214.4l-230.6 251l102.6-25.8l-101.3 37.5l46.6-47.1l8.5-5.6l8.1 10.2l-48.5 43.2l57.3-104.3l-50.3 65.7l14 2.4l98.7-86.3l-118.8 91.6l310.6-264.9l-236.1 187.9l12.5-8.9l-48.7 32.4l-38.7 50.1l21.9 19.5l46.8-32.7l291.4-368.2l-365.4 392.6l5.2 13.3l95.8-56.4l-19.6 6.7l51.2-116.1l-83.4 104.5l43.7 26.5l303-311.6l-365.3 307.4l-20.6 22.2l24.5 4.8l-37.6 12l11.9 0.6l85.4-77.4l-70.4 22.2l5.6 55.4l-39.3-8.7l5.9 17.7l-7.5 0.2l71.5-21.9l-64.3 21.9l24-10.2l-8.7 1l4.1-2.9l77.4-79.7l221-218.6l-213.7 225.3l298.4-356.9l-361.8 416l96.4-53.3l-140.6 71.7l101.3-98.7l-63.2 77.4l18.7 15.5l279.3-339.8l-337.3 353.1l139-165.6l-122.7 124l-7.3 30.8l7.5-14l58.2-45.9l-10.2 0l147.2-201.7l-105.5 204.9l-28.5-34.5l-30.8 40l23.2 3.2l-61 55.2l27-63.8l1.3 25.1l90.6-99.1l-81.6 76l32.5-22.8l-41.9 77.8l26.8-55l73.2-133.3l-26.1 136.9l-40.9 33.3l133.7-187.1l-47.1 41.5l-156.9 174.4l261.3-237.8l-239 214l7.3-29.3l-10.8 18.8l13.1 7.2l-21.2 16.1l17.8-15.5l-23.9 25.8l48.6-75.6l1 34.2l-18.4-1.6l153.4-130.9l-181.6 168.5l175.8-184.8l-80.7 121.4l-105.3 57.7l159.4-157.1l-96.1 144.1l12.7-54.3l88.2-103.5l-129.8 155.8l202.8-188.7l41.7-36.1l55.9-41l-313.3 281.8l64.8-103.2l14.8-19.3l17.5 26.4l-58.7 74.8l-58 23.4l48.9-41.6l-41.6 29.5l70.5-28.2l92.9-158.2l-168.2 191.2l31-17.9l-3.4 16.4l242.5-280.3l-201.4 241.7l-69.2 28.4l33.6-13.5l-10.1-7l123.3-98.8l-60.7 67.2l-16.6 32.1l-22.1 24.5l-50.1 23l468.1-471.2l61.1-77.1l-317.9 388.2l-172.1 124.4l63.9-24.5l155.8-227.4l-259.2 289.4l22.2-23.8l117.3-112.4l-110.1 127.6l-8.4 6.3l11.2-41.4l-31.7 39.1l16.7-43.8l-13 43.2l101-42.1l-73.5 28.1l103.7-96.8l51.1-17.8l-129.5 107.3l-57.4 18.2l13.3-13.2l-2.6 17.5l74.8-140.9l-59.5 115.3l-23.7 24.4l26.4-25.1l39.4-17.6l77.7-121.3l-77.2 68.2l104.8-54.6l-149.4 116.2l124.3-92l-108.2 30.2l255.2-176.6l-277 276.3l-13.7-7.5l11.2-14.4l361.8-390.4l-258 276l-22.4 18.1l-84.7 119.4l137.8-194.5l-104.5 165l-16.4 27.8l-21.6-4.4l203.6-235.6l-168.9 189.3l22.7-18.2l27.2-47.9l273.3-192.7l-273.5 203.3l-76.8 86.3l149.9-183l88.7-60.7l-223.1 228.7l-15.6 33.8l324.9-354.4l-315.3 331.9l11-42.9l56.4 1.2l-8.6-19.4l-75.6 79.6l35.7-27.4l-3.6-20.9l22.1 15.8l35.6-82.3l-89.4 103.5l25-20.3l0.9-17.2l-7.5 45.2l-6.4-18.4l19.6-1.8l278.2-224.5l-312.4 231.5l33.7-21.9l24.8 7l-39.5-12.1l96.5-28.2l-88.3 31.4l124.1-111.4l-48.1 112.4l47.9-143.1l-111.8 104.4l16.6 33.5l32.5-103.4l-80.8 153.7l17.2-35.3l-17.2 25.6l6.3-5.4l239.6-280.7l-248.5 284.9l7.6-12l77.8-93.7l-26.2 36.3l73.9-21l-108.2 50l-36.6 48.8l43.8-61.3l-12.2 50.5l160.4-170.9l-176.5 152l-1.5 11.2l49.6-55.2l-15.6 64.4l-28.2 11.8l27.8-43.7l18.5-5.1l254.1-243.5l-279.4 234l-19.9 53.2l98.9-126.5l-11.5 74.8l-100.1 58.6l124.2-180.4l-62.2 107l17.2-23.2l222.7-228.5l-149.9 151.2l385.7-306.8l-482 376.9l359.2-254.3l-400.8 317.7l-18.9 28.6l219.8-154.2l-223 165.4l15.6-4.1l195-197.9l-5.7 58.9l-181.9 92.9l-22 30.7l67.2-19.1l248.5-307.2l-242.3 236.4l-45 66.2l224.3-146l-57.6-2.7l-125.6 102.6l-18.3 35.8l11.7 0.9l223.9-282.8l-240.6 297.6l75.1-66.9l-59.5 33.1l-48.7 69.6l87-119.3l-53.1 71.9l-29.5 48.1l41.9-117.6l-41 90l62.9-41.4l3.3-9.7l131.1-105.3l-65.2 55.4l-39.3 17.8l-49.4 62.2l491.6-555.7l-149.9 155.3l-364.3 434l-22.1-20.1l36.5-29.4l74-108l-57.3 76.2l-16.7 36.8l-14 28.5l16.7-3.8l27-28.8l19.7-11.1l-66.8 35.7l-30.9 13.8l108.9-57.1l-91.3 74.8l62.5-139.2l155.2-132.5l-187.9 240.3l-4.6-7.2l5.1-31.1l93.9-51.8l-35.8 6.4l-14.6 56.9l-4.5-38.6l-79.8 87.7l28.7 17.8l45.2-94.9l-62.9 69.2l16-12.3l59.2-89.9l22.6 58.1l-21.3-51l-86.9 113.4l59.6-92.4l41 42.7l-56.5 20.2l121.5-171.7l-180 199.3l9.9-19.9l8.1 4.6l1.4-11.4l318.9-317l-323.8 345.2l12.8-44.3l-11.3 33.6l-12.6 17.6l132.5-102.5l-136.6 95.7l160.7-85.5l-55.1-27.7l-34.1 70.6l-54.8-3.1l46.2 2.1l-45.8 51.2l-11.1-9.5l66.9-68.5l-19 8.9l44.8-14.3l-56.4 41.9l5.3-32.2l130.3-112.9l-157.2 160l10 5.2l150.1-151.4l9.1-27l-8.5 65.7l-147.2 94.7l86.1-82.7l-9-25.9l-48.9 105l6.4-34.2l37.1-43.3l-85.1 77.2l30-24.2l4.6 3.9l-16.1 46.1l64.1-35.9l-10.4-80l35.9 4.5l169.7-173.4l-259.5 243.5l73.3-62.2l52.2-33.4l-102.1 94.9l79.1-119.5l307.9-239l-424.8 395.2l3.7 16.2l19.7 3.1l160.9-144.3l-205.4 141.8l122.4-81.5l-82 40.3l0.2-13.1l6.9-2.5l-34.3 33l157.3-88.6l81.1-69.9l-231.4 140.4l5.9 22.5l13.4-25.4l12.3-17.2l-35.9 36l-7.8 19.1l-5.4 9.2l25.6-21.5l100.7-82.1l191.7-174.7l-314.9 280.5l116.9-100.8l-79.2 73.6l-28.3 27.1l63.9-109.3l-51.7 54.8l48.3 20"/>
<path class="pr" d="M419.3 117.4l-0.4 35.3l-278.4 223.4l122.7-60.8l182.1-19.4l-257.7 95.8l27.8-92.1l3.9-0.4l-97.5 301.6l135.3-117.8l58.9-219.6l-111 24.5l194-195.5l-207.6 284.1l165 55.3l-253.6 186.2l201.6-420.1l-215.9 247.3l129.3-106.4l82.4-108.7l10.6 203.9l-151.9-19l361.3-190l-55.1 46.3l-270.2 273.7l257.2-271.2l-135.1 234.9l197.6-49l-254-176.9l-25.6 252.3l409.6-408.1l-121.8-96.3l-323.8 324.5l52.5-89.4l-177 378l29.6-2.6l384-548.4l-266.2 248.9l-40.4 288l255.5-289.7l-50.6-278l81.6 28.5l-44.5 43.9l-209.8 173.9l423.6-134l-479.5 228l182 30.8l144.1-344.6l-291.3 485.5l179.7-469.6l-249 523.1l0-9.1l355-302l-317 98.2l33.4 111.4l-46.5-109l-43.9 36.3l135.6 46.1l-102.1 87l141.7-318.1l-98.4 324l22.8-217.6l-52.2-11.8l56 197.2l42.7-58.7l-120.3 133.9l23.8-222.1l-21.9-21.4l-2.3 49l87.1-213l-68.4 373.7l85.1-365.6l-6.3 103.2l-128.1 107.6l115.1 64l-9.3-144.9l215.1-201.6l18.3-22l-13 174.9l-190.9 0.4l-135.2 95.2l220.1-330.1l-117.4 445.5l214.7-194.6l-334.6 102.3l161.3-164.6l-32 253.4l-50.5-108.2l161.7-158.4l-218.1 349.7l457.8-194.5l-434.4 186.5l417.6-198.1l-100.7-305.9l-201.9 439.5l336.8-374l-350.8 165.1l-119 298.1l17.1-231.4l-9.8 12.3l45.5 171.4l141.5-358.4l-55.5 112.4l-160.7 128.3l125.8-122.4l-56.4 53.7l72.8 121.7l-44.3-148.9l31.2 144.6l-47.7-110.7l-102.3 100.3l193.3-323.1l-77.3 366.4l148-154l-104.3 121.9l-24.7 56.4l393.7-346.5l-379.5 107.5l231.3-15.8"/>
<path class="l45" d="M0 644.2 L660 0"/>
<path class="lb" d="M0 579.78 L594 0"/>
<path class="lb" d="M66 644.2 L660 64.42"/>
</g>
<rect class="sp" x="0" y="0" width="660" height="644.2"/>
<path class="tk" d="M-6.5 644.2H0M0 644.2V650.7M-6.5 536.83H0M110 644.2V650.7M-6.5 429.47H0M220 644.2V650.7M-6.5 322.1H0M330 644.2V650.7M-6.5 214.73H0M440 644.2V650.7M-6.5 107.37H0M550 644.2V650.7M-6.5 0H0M660 644.2V650.7"/>
<text class="tl" x="-15" y="652" text-anchor="end">0</text>
<text class="tl" x="-15" y="544.63" text-anchor="end">10000</text>
<text class="tl" x="-15" y="437.27" text-anchor="end">20000</text>
<text class="tl" x="-15" y="329.9" text-anchor="end">30000</text>
<text class="tl" x="-15" y="222.53" text-anchor="end">40000</text>
<text class="tl" x="-15" y="115.17" text-anchor="end">50000</text>
<text class="tl" x="-15" y="7.8" text-anchor="end">60000</text>
<g clip-path="url(#xc)">
<text class="tl" x="0" y="674.8" text-anchor="middle">0</text>
<text class="tl" x="110" y="674.8" text-anchor="middle">10000</text>
<text class="tl" x="220" y="674.8" text-anchor="middle">20000</text>
<text class="tl" x="330" y="674.8" text-anchor="middle">30000</text>
<text class="tl" x="440" y="674.8" text-anchor="middle">40000</text>
<text class="tl" x="550" y="674.8" text-anchor="middle">50000</text>
<text class="tl" x="660" y="674.8" text-anchor="middle">60000</text>
</g>
<text class="al" x="109.1" y="717.6">True Cumulative Oil Production (m</text>
<text class="sup" x="523.98" y="708.1">3</text>
<text class="al" x="534.28" y="717.6">)</text>
<g transform="translate(-106.1 581.2) rotate(-90)">
<text class="al" x="0" y="0">Predicted Cumulative Oil Production (m</text>
<text class="sup" x="470.67" y="-9.5">3</text>
<text class="al" x="480.97" y="0">)</text>
</g>
<text class="r2" x="43.5" y="59.7"><tspan class="it">R</tspan></text>
<text class="r2s" x="65.6" y="48.6">2</text>
<text class="r2" x="82" y="59.7">=</text>
<text class="r2" x="111.6" y="59.7" textLength="76" lengthAdjust="spacing">0.628</text>
<rect class="lg" x="289.6" y="434.2" width="357.7" height="197.8" rx="8.5"/>
<path class="lr" d="M304.5 458.7H350.1"/>
<path class="lbl" d="M306.4 489.4H348.9"/>
<circle class="mb" cx="327.7" cy="521.7" r="2.3"/>
<circle class="mr" cx="326.1" cy="577.5" r="2.3"/>
<text class="lt" x="363.2" y="466.5">45</text>
<text class="ltd" x="387.7" y="457">&#8728;</text>
<text class="lt" x="406.3" y="466.5" textLength="108.6" lengthAdjust="spacing">straight line</text>
<text class="lt" x="363.2" y="497" textLength="227.4" lengthAdjust="spacing">Absolute error = 6000 m</text>
<text class="lts" x="593.1" y="490">3</text>
<text class="lt" x="363.2" y="528.5" textLength="256.8" lengthAdjust="spacing">Sample point of cumulative</text>
<text class="lt" x="363.2" y="556.4" textLength="128.1" lengthAdjust="spacing">oil production</text>
<text class="lt" x="363.2" y="586.5" textLength="252.9" lengthAdjust="spacing">Sample point with absolute</text>
<text class="lt" x="363.2" y="615.1" textLength="221.7" lengthAdjust="spacing">error exceeding 6000 m</text>
<text class="lts" x="585.8" y="608.1">3</text>
</g>
<g transform="translate(132.9 1634.3)">
<g clip-path="url(#ax)">
<path class="pb" d="M44.4 608.4l225.1-239.6l-240.9 222.2l76.6-53.9l430.6-376.4l-513.7 433.2l159.3-134.8l246.3-218.6l-408.5 382.6l29.9-74.4l-31.1 81l-17.4-23.5l216.4-160.9l26.2-26.4l-205.7 140.8l227.9-158.3l-256.7 240.7l70.5-95.4l2 47l-7.5-23.4l-61 71.4l-8.8-13.8l196-167.2l-61.9 46.7l-129.8 129.2l372.6-361.7l-71.6 74.3l-84 83.1l-175.2 183.8l276.6-302.8l-273.2 281.5l304.4-299.9l64.5-90.5l-312.6 379.2l244.6-335.5l-198.1 264l5.4-10.7l-127.8 104.9l0.3 11.1l7.9-1.8l-29.2-12.7l9.6 1.9l45.1-25.3l257.6-304.2l-179.5 215.2l112.9-64.8l-179 138.9l115.7-125.3l38.5 13.8l-134.9 93.5l74-99.4l-76 146.4l-78-24.9l139.9-94.1l-105.8 94.5l576.5-514.8l-622.2 565.6l5-12.7l221.2-236.1l-192.2 240.5l-28.5 29.4l106.6-138.5l84.9-87.1l17.1-13.3l-195.6 212.5l471.6-475.9l-15.5 55.7l-401.9 385.8l-9.1-35.3l-65.1 96.6l120.2-111l66.1-79.6l-154.9 157.8l48.7-84.7l-7.5 74.3l-23.1-41l-55.1 75.5l144.1-119.1l32.3-98.5l-132.1 189.8l117-154.2l-152.5 189l88.4-125l510.3-441.7l-352.6 372.2l-165.3 86.8l-76.8 78.5l6.4-15.7l11.4 2.7l68.6-20.1l-35.8 2.6l162.9-158.2l-211.9 163.6l114.8-78.7l-120.4 121.8l74.3-33l55.4-82.7l-55.5 91.4l204.4-228.3l-57.8 1.6l-102.7 138.2l-36.3 64.2l-41.2 29.9l46.7-43.4l-28.1 1.1l92.3-49.8l-125.1 66.9l165.2-103.6l-180.6 160.4l95.9-107l-78.7 33.7l144.4-64.7l-83.5 53.7l-66.2 73.3l63.5-76.9l126.8-138l-191.1 197.9l46.5-76.6l71.9-95.3l-38.1 95.8l181.5-152.7l324.9-355.7l-573.3 555.1l41.3-27.2l-80.8 84.8l71.3-67.8l-61.2 41.5l12.1 18.6l30-10.2l295.5-281.2l-239.5 173.2l36.2-3.1l-83.4 77.9l-61.2 49.4l13.3-36.7l8.4 39.5l74.5-53.7l71.5-99.2l-130.3 122.1l-6.1 13.2l-16.3 1.5l10.1 14.1l159-226.9l-90.6 160.3l-56.7 50.4l243.9-235.7l305.1-344.2l-484.5 511.6l-57.5 6.4l63.6-10l-93 56.3l29.3-2l32.2-49.2l0.4 0l-75 64.9l168.4-208.6l-49.5 150.4l47.5-97l43.4-39l-0.8 25l-202.8 189.4l5.4-24.2l135-107.9l110.8-95.2l-46.8 28.6l-159.2 131.2l-39.7 41.2l14.2-9.2l64.6-68l-29.6 14.5l89.5-50.1l-118.2 97.4l-34.2 26.8l136.7-123.3l18.1-28.6l-126.9 114l22.5-16.1l3.2-0.4l-39.9 44.5l44.4-46.7l-15.3 18.5l17.8 16.7l-61.1 31l481.2-480.7l-474.1 465.1l95.2-98.5l36.7 13.1l-104.2 65.4l-27.7 27.9l6.1 13.1l360.4-355.7l-351.6 301.1l-0.4 3.5l-11.5 28.8l-1.2 4.2l160.3-123.7l-172.2 125l1.9 16.7l94.5-79.3l-35.2-8.3l-46.7 57.6l51.5-43.7l343.9-284.5l-120.2 106.5l-283.9 204.3l32.4-16.3l-10.6 30.3l113.2-132.5l-135.4 167.2l26.8-23.4l-9.4-31.3l174.1-93.6l1-65.9l-196.7 183.2l1.5-8.1l288-299.3l-51.7 97.2l-203.5 180l115.9-106.2l-82.7 87.1l63.1-63.1l-91.3 96l273.5-277.2l-196.5 206l38.6-50l-132.6 124.6l488.4-422.5l-412.5 346.8l150.4-90.1l51.9-84.6l-172.9 172.4l-70.5 98l6.9-33.7l250.9-245.9l-114.1 127.3l-50.8 54.5l-149.2 116.1l312.8-315l-302.5 317.5l64.8-56.9l35.6-109.2l99.6-42.9l-117.1 109.6l230.9-186.4l-90.8 61.8l-116.5 145.1l-115.1 79.2l246.7-279.2l-208.5 244.1l58-67.8l-2.6 19.5l16.3-36.3l-99.9 113l96.8-132.7l-102.8 127.6l97.1-76.8l105.3-119.8l-199.9 196.9l17.9 10.3l221.7-265.8l92.6-50.2l-333.3 309.6l1.4 10.3l-3-0.4l108.1-107.4l-12-26.8l-18.2 49l298.9-269.2l-119.4 58.1l-102.1 128.1l-161 166.3l65.2-55.7l-33.5 9l59.9-44.2l-73.8 56.2l138.6-134.2l-144.1 153l31.2-46.1l15-9.3l97.2-65.5l-37.8 11.6l-87.5 108.3l54.7-71.4l-45.2 66l328.1-332.1l-134.9 75.2l-220.6 251.8l75.8-62.4l68.2-40.7l-118.1 74.8l-39.4 57.8l37.1-43l334.3-276.3l-360.5 292.9l116.5-121.5l-87.6 113.8l-21.5 16.2l169-177.2l107.1-112.5l-180.1 209.4l-87.2 39.5l168.5-129.4l-14.1 2.1l-171.8 161.7l90.3-46.2l42.2-78.7l38.9-79.3l-147.1 228.6l-19-2.8l3-32.1l190-171.3l211.4-208.2l-250.6 238.9l42.2-3.7l-203.7 166.7l366.3-292l130.7-187.9l-494.6 470.5l53-39.2l288.8-267.4l254-245.6l-582.1 557l32.3-28.5l56.8-76.4l0.1 65l-83.4 11.8l-29.2 44.6l28.2-43.8l13.2 5.8l551.7-552.2l-560.2 549.1l297.7-280.5l-285 292.9l123.1-148.9l-53.6 24.7l-51.8 82.2l18.6 7.6l125.5-137.3l95.6-122.3l-166.7 162.1l-62.8 72.9l289.4-232.5l-348.3 319.6l114.7-145.3l85.5-94l205.2-181.7l-406.5 388.2l-13.3 33.7l0.3-7l106.3-100.4l34.4-40.8l-81.4 86.1l-15.4-9.5l142.3-114.8l-93.5 89l325.3-288.7l11.6-48.1l-331 341.2l126.2-113.6l-90.7 121.6l34.8-65.6l-160.2 135.8l221.2-252.2l-200.7 224l156.6-182.1l-12.7 16.4l-104.8 160.6l6.2-3.1l165.1-229.8l26.5 36.3l-143.7 154.7l45-86.7l-88.2 96l-27.2 8.5l56.2-73.7l-19.4 35.1l44.6-33.3l244.9-216.2l-72.9 76.6l-102.6 52.9l-129.9 170.7l-14.9 5.7l268.8-220.5l-148.3 99l-57.5 72.2l241.4-307l-278.1 357.5l-15.7-31.6l156.3-125.7l-221.4 208.5l7-5.5l412.7-367.5l-265.1 206.5l-49.7 53.4l27.4-44.6l24.7 12.1l-149.9 107.3l177.8-109.8l-163.6 112l230.5-220.3l-220.5 207.6l226.2-181l163.4-197.1l-155.4 168.7l-61.2 20.6l-207.8 221.4l69.5-62.2l-7.4 26.4l28.8-11.3l-73.3 54.1l355-338.3l-338.1 303.2l110.4-118.6l-102.1 137l37.2-56.8l0.9 20.7l64.4-55.5l35.7-59.7l-87.4 81.8l-58.5 45.6l449.4-457.5l-468.8 479.5l262.9-248.6l-268.9 273.5l-9.6-24l13.2-1.5l18.3 27.2l-14.4-46l-1.3 8.1l81.9-50.8l5.6 5.4l-70.1 60.9l328.6-322.4l-218.6 190.8l-139 139.4l193.1-158l30.6-54.6l-229.1 228.9l105.8-126l-17.2 26.1l-23.7 47.4l-0.9 18.4l239.7-275.8l-248.6 247.3l-8.4 32.6l-41.7 20.4l-4.8-9.3l10.9 14.3l-11.5 5.3l12.4-14.2l283.2-210.7l-226.9 157.4l84.6-130.1l39.2-16.8l-102.6 139.4l360.3-404.2l-330.4 343.6l38.8-43.8l-133.8 141.7l332-299.7l-322.2 306.8l-8 7.7l-16.3 1.2l-2.9-1.9l19.9 3.5l164.5-169.1l-176.8 178.9l112.7-118.1l161.6-146.3l-269.5 249.1l143-189.8l-53.9 108.8l-92.7 93.8l21.9-23.4l-1.5 4.7l-5.5 1.6l54.8-83.2l-69.5 109.2l29.5-54.4l-11.1 6.4l15.1-3.8l-44.2 48.4l3.6 6.4l129.9-168.5l-103.5 135.8l2.5-38.4l1.6 24.9l3.3-7.9l78.2-59.2l10.4-63.4l-58.2 121.2l24.7-43.5l-57.8 30.4l220.5-197l121.9-133.5l-321.8 315.4l-19.3 25.6l15.7-5.2l106.5-94.7l-136.9 124l156.4-145.2l160.6-120.8l-299 236.4l59.3-47.3l53.2-65.4l-138.8 154.2l131-108.6l-136.6 111.5l211.5-170.7l-158.5 133.7l-49.7 32.3l14.6-8.4l2.7-31.4l20.2-14.3l49 0.2l25.1-89l9.6 64.6l-84.3 56.4l-26.2 24.5l91.1-83.8l-74.3 58.6l210.2-222.3l-179.3 191.9l-48.3 57.9l90.6-98.3l-85.8 43.1l18-6.7l85-25.9l-120.8 68.1l35.2-3.7l-44.6 14l-0.7 11.7l208.6-224.8l-142.2 182.3l-64.4 54.4l113.2-159.5l242.2-159.6l-360.5 320.2l14.8-22l87.6-66.3l-101.6 69.8l28.5-10.2l128.1-127.7l-129.4 118.7l-27.9 37.3l192.4-140.9l-121.8 59.2l-23.4 16.5l130.4-163.7l-177.3 232.9l16.6-43.9l-3.7 38.2l158.8-190.6l46.1 24l-66.6 49.9l-85.7 63.6l116.7-122l-146 158.9l1.7-3.6l-17.9-7.6l27.9-27.7l-1.8 22.4l-0.1 12.8l33-60l50.8-98.1l-18.1 88.5l-67.5 40.1l-22.1 54.6l17.6-33.4l187.2-185.8l80.5-119.2l-237.6 265.8l-18.3 45.8l-39.4-0.7l35.1-18.8l112.3-136.4l-155 182.1l129.6-134.7l-67.1 60.8l-48.4 54.8l23.2-57.3l190.5-179.1l-140.4 129.7l-14.4 50.2l-77.9 64l69.5-65.8l22.1 32l-62.4 2.7l164.2-130.6l211.8-163.8l-402.4 320.8l191.2-155.9l-103.3 76.4l-50.3 50.9l105.4-106.7l-39 31.9l-1.9 28.2l224.1-253l-275.6 305.2l8-20l119.2-109.7l-108.4 74.1l74.4-74.7l-81.9 110.4l189.1-186.6l-201.2 165.3l-1.7 24.1l-0.5-9.7l-44.1 67.4l46.9-61.9l211.9-187.3l-145.8 117.5l-45.8 37.4l-33.2 41.4l-25.6 27.9l24.6-27.2l99.6-51.5l125.2-178.5l-258.5 258.3l-0.2 22.9l159.8-207.5l-89.5 129.3l-3.5-14.5l77.6-1.6l278.2-343.4l-273.1 228.7l-144.2 163.9l174.7-133.2l186-162l-154.7 140.8l-192.2 176.1l485.2-449l-482.9 426.5l-13.3 25.1l61.5-42.7l-50.3 65.3l116.3-120.3l15.1-9l-102.9 57.4l121.1-69.9l-138.1 105.8l-12.8 24l76.2-109.2l-38.7 63.1l53.8-55.6l-105.4 107.1l70.4-88.5l27.4-33.8l-88 105.8l68.7-86l-88.1 108.6l344.4-386.5l10.6 31l-91.7 155.8l-46.6-25.2l-138.9 154.4l33.1-28.2l9.5-63.4l323.4-252.8l-258.1 188l-170.6 206.6l21-4.4l199.5-176.1l-79.1-8.7l138.5-114.2l-101.1 121.5l-59.1 87.3l22.7-20l-157.5 135.2l39.6-24.5l-33.7 22.5l90.7-86.3l-42.9 33.2l186.5-161.2l-172.3 167l125-131.2l-25.6-21.2l-93 97.2l-6.3 24.9l-66.2 78.6l67.5-114.4l-47.6 98.4l286.6-305.6l-39.3 63.7l-205.1 194l135.7-179.6l-42.6 76.7l29.4-25.1l-159.1 161.4l151.8-110.8l-15.3 17.9l-22.3 31l156-235l-220.1 212.2l-41.4 59.5l68.4-5.5l73.8-96l-101.6 80.3l-45.7 77.4l19.9-61.8l-12.6 32.9l367.5-334.5l-359.3 317.3l-29.1 16.4l126.3-78.8l15.2-20.2l-131.2 127.8l-24.5-28.4l167.7-133.8l-95.5 62.4l129.9-65.5l-133 128.9l-35.4-12.5l70.7-32.4l-104.2 65.8l286.1-261.7l-217.9 196.5l-65 77.5l124.6-150.9l-56.8 108.2l6.3-31.6l-74 76.9l90.8-85.9l-62.9 68.9l-10.5-41.2l80-33.5l-63.7 66.9l295.6-317.9l-306.9 300.6l34.9-17.8l-48.6 56.4l23.6-33.8l41.6-44.9l42.1-29.4l-70.7 84.7l-35.8-22.5l56.9-31.3l-1-29.2l78.7-41.7l-63.7 33l-51.3 101.3l28.1-68.2l27.9-5.5l-77 83.9l7.6-13.5l-9.7 13.3l402.6-448.4l-296.4 319.5l-63.5 80.5l95.6-73.4l-124.6 100.5l9.7-29.4l105.7-92.9l-81.4 99.2l-47.2 40.8l-8.1 11.8l33.3-36.9l42.6-31.4l18.7-18.8l26-24.2l-119.3 104.7l-3.2 0.7l64.6-30l73.4-79.1l295.1-360.5l-271.7 342.6l165.1-194.8l105.6-38l-381.2 289l161-191.4l-180.5 259.5l54.3-98.9l83.1-59.9l-153.9 155.7l14.3 5.2l-23.6-11.2l-2.5-6l86.6-80.8l-68.4 75l129.8-96l101.8-119.8l-177.8 158.5l45.7-11.5l50.2-28.5l23.3-65.6l-164.2 165.8l105.7-132.1l151.3-128.3l199.7-155.1l162.7-184.5l-236 240.5l-253.7 268.3l80.2-130.6l-48.3 68.7l-152.3 146.2l112.4-123.9l-97.6 80.4l213.5-172.6l0.2-41.2l-177.2 238.3l-74.8 42.9l43.3-88.4l-30.2 38.4l79.3-83.5l-66.7 82.9l159.5-113.8l183.8-213.9l-350.4 347.8l-14.9 2.6l380.7-294l-87.6 23.8l-278.9 293.7l6-44.2l502.9-431l-483.4 420.8l11.4 2.2l63.3-32.9l213.5-215.8l-216.1 198.2l280-237.9l-374.9 334.9l-8.1 12.4l109.6-156.5l57.4-11.4l-131.8 84.4l88-24.2l-64.6-1.1l14.4 41.4l66-127.5l-162.3 168l-2.4 12.3l30.9-20.3l65.1-54.8l-60.8 51.4l194-199.3l-106.6 147.7l-120.1 98.3l51.3-20.3l33.5-59.1l-78.1 60.3l151.5-182.1l-163.3 200.6l493.9-481.8l-460 444.1l248.5-218.3l-214.8 193l38.7-54.1l-107 117.1l72.3-59.6l-73.6 47.8l133-110l56-54l-113.9 113.3l56.8-49.4l-92.7 40.6l10.6 19.7l-50.7 50.6l293.8-232.3l-290.3 228.9l30.2-56.6l111-43.7l-107.4 92.7l108.1-150.5l129.2-111l-263.8 271.5l0-13.7l379.3-320l-352.2 306.4l-24.5 22.4l81.6-78.2l-17.1 5.4l214.1-175l-5.5 22.6l-126.4 97.9l-37.3 37.3l27.5-24.3l-137.7 111.9l143.1-117.3l-121.9 84.4l253-280.3l-271.6 294l123.9-75l-7.4-76.1l-91.1 121.1l43.9-67l62.3-34.6l-122.6 160.7l9.9-39.8l172.6-157.5l-117.1 104.7l-12 18.2l192.6-141.7l-255.1 205.9l94-110.1l-60.4 66.5l56.4-50.7l-90.1 78.6l128.9-115.4l-142.1 133l50.3-37.9l13.1-23l185.1-199.1l-149.6 166.5l-42.2 48.8l39.2-47.5l297.7-273.4l-264.6 240.9l-8.7 3l-102.1 101l237.3-206.4l-109.7 74.3l-101.7 98.2l-12.7 29.7l-33.2 27.9l139.2-90.5l142.3-222.7l-240.2 275.7l7.6-10.3l33.1-20.6l-1-0.2l27.4-5.5l-5.3-34.5l336.5-297.7l-181.5 122.2l-211.4 242.1l-27.4 36.9l92.7-107.8l-39.5 60.9l35.6-64l-42.9 53.5l40-20.7l83-61.5l-49.3-28.6l-18.9 24.7l4.9 3.3l39.9-56.2l-163.9 197.7l98.6-120.8l35.7 12.5l-91.2 69.4l71-54.5l-18.9 6.3l1.3-8.4l-54.1 52.4l109.3-75l24.8-0.1l70.7-94.2l-193.5 124.8l162.2-112.5l-171.4 180.2l-28.7 4.9l-3.6-26.4l36.6 12.1l-20.2 0.3l-6.8 5.6l7.6 7.3l67.4-78.6l-14.9 29.3l-64.1 51.7l37.2-49.9l-3.7 22.3l105-115.7l-119.4 136.8l-37.4 29.7l1.6-1.5l142.9-145.2l-28.6 42l-10.8 56.7l61.2-114.3l-139.5 141.7l-23.1-2.5l294.8-306.4l-91.4 119.3l-99.3 118.1l212.2-208.6l-249.6 220.2l33.6-32.9l92-59.5l-194 167.6l29.7-50.6l157.6-146.2l-33.8 74.8l167.6-222.5l-299.4 295l22.6 26.2l125-84.4l-130.3 75.1l35.7-59.4l-59.9 77.3l18.5-33.4l258.7-253l-116.3 102.4l23.7 14.6l-179 165l93.4-132.4l-20.6 72.6l246.7-265.6l-186.2 226l-17.4-12.7l-37.9 40.8l28.3-55.6l-59.5 82.5l13 9.2l-62.8 20.5l160.4-146.1l-22.4 89.1l223.4-305.5l-344.9 374.5l27.2-44.6l67-69.9l-92.3 131.9l21.6-23.7l109.3-150.8l38.8-31.1l-199.4 204.3l26.3-24.1l-8.6 7l-21.2 22.1l91.7-105.1l-48.7 83.5l227-275.6l-202.3 210.4l-1.7-16.3l110-3l-165.2 103.4l91.2-113.1l-3.7 13.4l67.4-91.3l459.1-411.4l-532.2 513.9l175.6-178.7l91.9-99.8l-177.6 184.7l-77.6 60.3l-56.9 87.9l138.2-130.4l-43.1 30.2l-131.7 142.3l72.3-119.1l-71.5 78.8l189.1-165.6l49.1-41.9l-142 157.3l-0.8-34.6l9.9-13l14.6 25l-125.8 112.2l348-369.2l-131 95.5l-194.1 255.9l129.6-142.2l-158 160.1l123.2-182.2l-117.4 174l39-25.3l-34.7 22.8l160-160.4l-30.7-11.5l-68.8 131.8l86.1-57.8l-90 31.4l5.5-7.2l-53.6 71l82.8-84.7l-107.8 99.8l27.3-46.1l136-62.6l7.9-46.4l-109.6 109.2l13.9-83.2l91.1-8l-112.6 70.9l-34.1 39.4l141.5-111.5l-69.1 61.8l-54.2 24.2l70.9-57.1l29.7-11l114.7-128.4l-191 181.9l146.4-126.8l-27.5 30.5l-156.6 129.1l7.8-29.2l0 22.2l165.3-176.8l-145 200.1l55.5-89.6l-102.3 106.4l244-291.6l-51.2 62l5.8 77.2l-61.4 32.8l-65 5.8l3.5 0.5l135.8-87.4l-129.8 105.5l66.1-46.3l-99.4 96.4l15-17.1l62.3-17.2l-110.2 29.3l277.7-251.8l-148 136.3l-99.9 87.4l-9 24.5l151.1-142.5l-50.5 65.3l41.7-70.9l-86.2 89.7l112.5-91.7l-41.1 41.3l70.4-68.3l-49.3 20.9l58-43.8l-139.1 118.6l234.8-216.1l-40.9 90.2l-241.6 222.2l-11.7-4.9l43-20.2l-59.5 37.6l1.6-10.1l48.3-75.1l62.8-5.3l-136.9 112l17.9-34.7l-8.9 39.2l119-126.6l-126 121.4l41.4-63.1l107.6-56.2l-150.1 125.1l15.6-24.5l-22.4 18.1l41.9-63.4l57.8-6.1l-64.6 33.1l156.3-190.3l-91.4 134.2l-73.2 73.1l231.7-284.5l-202.7 231.9l340.7-315.4l-199.7 204.5l233.2-251l-406.3 439l176-245.6l-71.5 122.1l-40.5 47.1l152.6-157.2l-218.1 198.5l12 24.6l3.1-11l-30.9 18.8l2.2 5l200.9-235.4l-135.6 169.9l16.3-57.3l-88.5 117.1l442.9-433.6l-417.7 409.1l86.3-82.7l-78.6 66.3l1.3-7.5l26.6 6.3l119.1-104.9l274.2-320.6l-442.9 443.1l146.3-127.6l136.3-193.9l-276.8 339.7l325-372.7l-324.1 317.1l10.7 34.1l31.5-24.7l-60.8 54.6l137-85.5l-47.3 5l31.4-53.4l73.3-65.6l-193.5 203.4l63-47.5l73.5-86.9l-23.5 60.9l-78.9 29.3l51.4-32.8l-27.4-7.3l65.1-38.7l-11.4 4.2l31.5-61.5l106.6-49.9l-115.2 105.8l-113 91.3l13.7 4.3l142.6-160.2l-121.7 148.5l2.2-33.1l-59.7 67.8l324.6-327l-227.9 213.7l24.9 29.4l-24-12.5l45-97.1l91.6-71.7l-84 127.2l211.3-206.5l111.9-111l-355.7 326.1l-115.5 130.6l384.7-353.2l-194.6 151.7l128.8-121.8l-268.7 262.5l210.7-165.1l-125.6 146.3l-38.7-43.4l41-12.9l-29.5-20.3l-24.8 58.2l72.5-74.6l-99 58.4l79.1-24.3l265.1-293.8l-335.8 379l63.1-54.5l-17.9-45.9l-99.4 121.8l-9.7 34.3l181.9-180.6l-54.5 55.9l27-43l-33.2 47.7l-98 84.7l24-3.2l79-91.2l-3.7 5.4l198.7-192.3l-242.6 208.6l-6.4 32.2l137-130.3l-203.5 185.5l70.1-64.5l42.8-96l271.3-208.3l-234.4 231.1l-129.1 111.3l-22.6 22.8l245.8-181.1l-225.2 143.4l-25.6 56.3l41-75.7l72.3-7l-72.3 42.9l-1.7 13.7l-28.9 27.7l259.1-257.1l-272.6 262.1l60-64l-57.4 48.3l28.3-11.8l-26.7 26.8l61.9-47.1l83.9-101.2l-111.5 135.8l263.2-268.7l-242.8 212l-59.1 54.6l79-96.7l-22.7 72.6l24.6-30.9l-32.2 12.1l-44.5 59.5l466.1-452.8l-453.5 449.2l74.3-65.4l-55 43.6l-24.3 2.4l95.3-71.7l-74.2 40.4l8.1-22.7l5.5 23.5l-47.5 52.2l228.9-253.8l-116.1 137.3l-71.7 72.4l86.5-103.2l-39.8 65.1l86.9-106.5l-36.6 23.3l-126.7 164.8l2.8-6.9l243.1-259.9l-107.3 112l278-277.3l-395.8 416.1l-18.9-25.7l113.2-103.4l-21.9 37.9l-50.4 36.4l284.8-288.1l-175.8 248.9l-116.1 44.7l59.9-17.7l-87.9 68.7l4.2-20.3l-21.4 20.4l151.4-145.8l-89.1 124.8l-49.6 20.1l84.9-73.5l-101.6 87.7l191.4-196.3l-188.3 196.9l44.9-58.4l312.2-334.1l-351.2 369.7l21.2-5.4l-7-20.9l355.5-374.7l-91.3 209.8l-264.1 176.5l37.1-22.4l-2.4 30.4l-26.3-23.2l155.8-87.5l-105.4 25.8l106-50.6l-127.8 91.5l51.1-73.2l-58.1 113.1l29.5-37.4l-54.7 57.5l272.3-253.2l-293 266.2l42.6-52.4l-45.2 53.6l82.6-102.4l53.5-52.8l84.1-64l-8.3 20l-89.8 50l58.8 17.1l-178.1 115.1l-4.4 8l69.4-31.7l34.3-50.9l-102.4 79.4l42.1-33.3l187.4-156.5l-143.3 135.7l-85.3 60l214.8-160.3l-219.1 166.6l317.1-361.9l-49 54.9l-203.3 241.5l1.9 10.2l72-80.2l-13.6-35.6l277.7-231.1l-286.8 291.8l-72.9 28.8l305-291.3l-203.3 231.3l-67.8 27.7l207.2-202.9l-273.3 294.1l41.3-15.9l1.7-23.3l-21 17.1l24.1-47l44.5-4.4l108.5-67.7l-105.2 46.2l10.7-1l14.1-1.4l-14.7 11.7l-16.7-22.2l443.1-435.2l-478.1 476.7l3.1-0.5l120.4-116.2l14.6-23.3l7.1 31.1l90.2-60.3l-231.6 182.6l54.5-66.2l-115.2 110.1l45.2-32.3l353.7-295.5l-136.1 61.4l-234.8 231.4l6.9-3.1l198.2-150.4l21.6-88.4l-253.7 304.1l97.2-113.9l-72.8 70l113.2-111.1l-81.2 101.6l301.4-293.3l-52.2 107.4l-215.7 133.2l-49.3 50.2l179.3-135.9l-168.4 145.4l60.6-74.4l-76.9 65.4l-40.4 24.5l147.2-108.7l281.7-239l-258.8 211.7l-144.5 158.8l84.5-109.7l82.8-94.2l18.4-9.9l-193.1 221.9l120.2-131.9l0.3-10.6l-53.3 47.2l-62.1 35.9l173-124.3l-150.2 165.3l-46.4 15.4l430.3-357l-381.9 309.1l16.3-16.2l60.8-34.4l-23.4-9.5l-54.7 59.2l-30.5 28.1l23.1-25.6l63.3-22.3l169.5-153.1l-207.3 165.9l220.4-260.2l-99.6 94.6l63.2 12l79.6-155.8l-330.6 374.2l105.1-104.6l-75.7 59.9l258.4-188.2l-266.9 190.9l1 24.3l21.8-32.9l-16.9 23.2l36.7-74.1l5.3 38.3l-6.3-21.3l110.3-93.6l97.3-72l-268.5 243.8l38.7-54.1l19.5-37.7l330.8-318.9l165.2-91.2l-547.3 506.3l7.3-26.6l287.6-298.3l-10.7-17.6l-216.3 259.7l-70.2 41.1l22.4-5.8l132.8-93.1l113.7-130.4l-236.1 235.3l38.8-29.2l33.9-15.5l-25.6-33.8l-53.8 61.3l9.9 23.2l25.3-72.9l-68.5 103.8l20.4-50.4l187.6-114.9l-109.1 53.3l-21.3 45.2l122.2-143l-128.6 108l28.8 18l-13.2-13.7l-20.2 13.4l-27.1 36.5l7.6 6l313.5-296.1l-303.5 273l-0.6 14.3l-35.7 14.1l-12.1 10l95.9-68.2l25.1-58.9l-122.5 148.2l155.1-118.2l-157.7 100.1l23.3-9.7l108.2-124.5l-45 50.4l211-244.7l206.7-143.4l-197.2 214.8l-204.2 166.4l-105.5 112.5l8.6-16.2l58.9-36.7l90.9-126.3l96.7-132l-171 217.9l15.8-32.3l-81.2 122.2l-12.9-23.6l75.5-50.1l-17.6 28.8l-58.1 49l21.6-21.1l34.3-37.9l-15.9 12.4l37.1-52l-83.8 98.9l307.9-287.2l-282.7 268.8l-13.2 9l64.2-110.6l77.2-41.9l-149.2 159.5l31.5-31l41.3-65.4l-15.1 27.4l-4.7 32.3l238-243.4l-213.5 197l-29.7 8.6l186.1-201.7l-12.7 23.4l-75 85.6l-42 66.1l3 36.2l-104.7 29.2l1.6 23.9l38.6-20.1l131.3-138.2l-77.9 48.8l-98.5 111.5l69.7-52.8l-60.9 58.2l106.8-100.7l106.7-87.9l-88.2 18.2l-23.9 64.7l-35.1 24l10 34.5l-16.2-29.7l-48.1 69.9l122.8-127l-75.4 78.7l74.3-31.3l-57.6 3.4l169.7-157.1l-257.4 247.2l137.3-140l-63.5 93.9l0.9-10.8l111.3-131.1l40.6-42.5l-74.8 81.4l-114.4 122.2l-34.4 24.3l208.9-239.7l-164 189.8l346.3-291.2l-354.1 316.4l-39.7 17.5l134.5-109.3l-115.8 94.5l54.8-30.7l25.8-71.1l-83.6 110.6l94.3-112.1l219.6-197.7l-189.1 184.9l-87.6 78.2l-38.3 47.4l239.4-262.2l-146.3 169.8l-3.4-21.8l7.6 6.2l-36.7 19.7l252.6-211.2l-143.7 154.2l-62.4-2.1l135.6-72.4l-227.2 196.7l42.4-53.1l136.4-106.4l-175.7 146l102.3-56.7l191.5-183.8l-248.9 222.2l18.7-72l211.7-123.8l-217.3 158.9l14.5 8.6l36.3-49.2l232.6-242.4l-97.3 86.1l-155.7 181.4l-25.9 74.4l-69.3 17.4l55.5-10.6l-5.5-47.4l91.5-61.4l-131.8 131.5l120.4-137.4l75.1-60.6l-225.5 216.5l59.7-32.4l-12.6 7.8l51.5-58.7l77.5-108.4l83.2-51.7l51.7-58.3l-317.9 300.4l38.4-65.9l8.2 29.6l-16.6-19.1l-13.9 30.8l55.7-84.6l-44.6 57.6l223-190.4l-176.8 180.4l181.6-197.5l-251.4 258.7l168.9-179.1l-101.1 131.8l55.4-70.7l-64.9 75.1l-53.6 15.6l7.7 1.4l-2.5 17l-6.2 9.9l28.6-55.5l161.3-136.1l-149.2 128.8l15.6 12.7l102.2-66.3l-155.9 112.2l14.4-21.4l245.9-223.2l-232.4 210.4l122.8-105.1l-121.1 79.2l32-37.8l71.6-46.9l245.1-229.4l-330.8 300.1l-6 14.6l162.8-97l-122.7 115.6l28-42.1l-99.2 52.9l-18.5 34.4l147-123l-137.8 104l318.6-321l-283.2 284.7l-29.3 41.8l145.5-104.3l-130.9 68.4l230-142.4l-96.1 49.2l125.2-151l-165.3 150.2l-102.2 110.5l45.5-28.8l83.8-84.5l25.6-66.2l-74.5 83.5l-54.1 74.3l280-278.6l-171.2 144.2l-125.4 183.1l-10.2-16.4l8.6-7.3l178.6-173.4l-85.3 76.7l23-39.3l-145.5 155.2l97.8-102.9l-65.5 87.4l50.1-52.3l-75.1 53.7l9.8 7.3l16.2-29.2l65.1-87.8l-19.1 11l86.1-68.8l-154.9 173l235.2-181.7l-204.2 169.4l190.2-202.8l-81.4 65.7l-117.3 128.2l29-21.8l-18.8 10.6l51.3-57.2l297.5-285.1l-316.5 334.8l-40.8 31.7l55.4-55.9l-85.7 48.9l1.2 22.7l273.6-275.3l-39.3 42.1l-144 139.4l-13.7 75.2l2.1-18.3l155.9-176l-192.3 167.2l246.8-267.9l-255.7 277.4l-33.2 19.1l40.8-25.7l24.3-38.9l56-16.1l190.4-177.4l-225.2 218.1l-55.8 55.3l114.4-138.8l-57.5 10.5l15.8 40.3l-36.3 28.6l-21.4-11l22.5-42.5l292.4-211.9l-338.1 309.4l-22 28.6l1.8-3.5l421.9-431.2l-218 231.3l-26 12.3l-160.3 162.7l381.9-336.8l-279.6 246.1l95-160.5l-41.8 155l-173.2 123.7l14.8-28.1l179.9-147.8l-154.5 110.1l119.4-104l-150 149.2l82.8-73.6l137.9-75.5l-178.8 94.6l-15.9 41.2l-23.8-15l191.2-202.1l-153 174.6l268.3-209.7l-182.7 132.8l-3.4-14.7l-45 48.5l167.8-175.8l-61.5 162.3l-131.2 77.1l178.8-161.7l-170.3 158.9l91.8-134.7l-13.7 46.4l-108.8 110.3l137.4-167l54.1-44l-215.4 222.4l-7.9 2.9l3.7-22l197.9-146.9l55.4-89.5l-238.5 237.4l18.8-21l5.1-26l249.4-177.6l-264.6 199.9l7.6 44.9l-7.6-19.9l16.1-35.4l436.5-444.4l-487.7 481.8l27.5 12.2l84.1-113.5l-99.8 108.5l-16.7 13.7l76.4-72.2l108.9-106.1l167.2-154.9l-273.4 308.4l-38.8-2.1l265.5-279.8l-248.5 245.7l82.9-48.4l-106.2 78.3l20.4-0.1l29.2-52.1l-10.5 35.3l-65.7 44.8l17.9-22l-11.2 9.5l184-193.1l-159.5 209.1l24.4-48.4l249-259.8l-314.9 328.3l18.9-19.7l122-125.6l-80.2 48.9l-26.1 46.1l415-359.6l-430.8 390.1l9.5 2.3l-27.8 18.8l108-124.9l-55.2 109.8l9.3-23l29.6-63.1l79.9-7.7l138.1-214.4l-303.1 309.9l481.8-432l-177.1 112.7l-183.5 223.1l120.3-175.9l-232.9 261.4l-18.1 15.9l28.1-24.5l351.8-333.3l40.7-42.2l-410.2 398.3l23.1-3.2l59.2-75.9l-72.2 69.6l23.8-2.9l5.9-20.4l57.3-72.8l-71.8 63.5l83.7-74.4l126.6-81.5l-228.1 189.4l150.9-124.9l137.1-159.1l-229 240.8l-3.8 10.4l49.7-71.8l-22.6 16.3l51.2-78.9l-88.7 113.8l99.2-109l-130.1 130.1l-17 13.2l-12.2 19.2l66.1-50.8l-21.9 34.9l-5-1l-38.9 13.3l239.6-231.9l59.9-14.2l-86.3 92l-186.8 171.1l-4.9-33.9l339-341l-341 343.4l20-35.4l66.4-24.6l-72 54.7l20.4-40.7l65.8-38.7l-112.4 97.8l-7.9 3.9l89.3-64.2l-75.2 59.3l13.5-3l19.7-3.1l6.2-39.8l83.2-41.4l-77.5 62.8l115.9-94.8l-144.4 95.3l218.3-175.3l-172.1 154l-45.2 59.1l171.2-187.3l65-17l-217.5 178.3l92.6-97.1l55.1-12.7l16.9-95.8l-169.2 169.4l111.1-93.8l-59.1 71.3l-98.8 95.7l374.7-385.2l-221.4 224.1l-29.6 38l-82.3 74.9l-16.4 35.1l103.8-145.2l-18.1 62l-30.1 28.3l89.2-85.6l-58 79.7l-67.5 43.8l159.6-154.4l-195.3 140.9l151.8-78.6l-111.5 73.9l47.5-33.1l-36.4 6l-59.9 52.3l67.5-90l-59.8 113.9l0.6-14.2l200.2-160.8l-152.1 132.9l3.4-19.1l-42.6 49.1l232.1-288.3l-94 130.4l126.8-94l5.9-3.4l-265.4 228.1l162.8-106.4l-146.2 70.8l422.6-339.9l-461.2 398.2l49.9-19.4l-45.4 31.5l111.6-119.2l-80.6 71.1l110.7-86.7l-41.8 29.4l29.7-28.5l-111.7 96.5l62.9-30.3l-78.5 68l164.7-155l-146 116l155-94.2l-152.7 100.1l191.7-227l-158.3 183.9l327-349.7l-254.2 302.4l-136.4 114.4l267.6-269.9l-233.2 243.9l39.6 9l-53.8 14.5l45.3-66.4l119.3-90l-136.4 121.3l10.7-26.4l74.7-14.5l66-57.9l-121.6 88.8l196.2-184.3l-245.7 228.2l101.5-111.7l84.9-76.4l-87 107.6l131.2-170.6l-70.4 108.9l-134.4 105.2l-13.1-4.2l16.6 4.2l88.8-95.3l-114 111.2l125.5-90.9l-17.1 17.8l-131.9 95.7l78.7-64.2l-75.4 56.6l25.8-73.5l167.4-95.7l-0.4-5.4l-189.3 191.9l471.6-422.2l-80.3 47.4l-391.8 343.2l249.8-208.2l-241.8 230.5l129.8-167.6l-152.3 144.6l77.7-46.7l-23.2 51.1l-35.3-19l134.1-86.3l141.2-158.2l20.6-34.1l-315.8 327.8l59.5-59.9l260.9-303.1l-290.5 353.3l172.9-190.7l-64 102.6l-67.2 71.3l162.6-228.6l-213.5 235.3l32.3-46.6l-30.4 34l-18.5 23l18.9-3l152-179.2l127-90.7l-237.1 193.9l-28.3 73.4l19.2-47.7l62-48.2l-5 30l-70.1 39l207.4-161.6l-211.1 171.3l152.2-164.3l-137.7 126.8l13.4 35.5l257.8-322.9l-268.9 307.9l-25 21.9l20.5-3.4l-9.6-15.3l16.4-11.6l94.4-88.4l-141.7 146.9l1.6-6.3l222.2-209.1l-81.8 64.5l-107.4 110.1l-11 25.2l476.9-478.5l-432.6 425.2l94.7-94.3l-71.8 102.6l-95.3 34.5l197.9-189.6l-159.5 180.4l125.2-123.4l-55.7 52.1l29.3 31.3l99.2-162l-152.5 125.2l-83.4 102.1l7.6-27l-6.8 26l33.6-33.7l-39.5 45.8l446.7-398.7l-443.2 395.1l112.6-111.9l82.8-64.7l-188.9 175.7l76.3-109l3.7 44.4l-30.2 38.9l-24-36.8l135-94.1l70.1-39.5l-165.9 137.7l-70.6 61.8l139.3-154.5l12.2 16.1l-1.8 29.8l-152 107.4l2.5-2.8l145.2-157.8l-91.4 135.9l17.6-62.8l-55.5 51.7l387-298.5l-157.6 70.5l-159 154.2l59.2-73l-122 153l10.5-12.6l153.6-139.9l-133.1 119l-26.1 26.6l9.6-4.1l-23.8 20.4l101.6-86.5l229.9-288.1l-328.2 359.9l299.6-278.9l-162.3 165.5l-68.6 90.6l40.2-41.6l-112.4 71.5l33.5-38.9l-43.2 42l421.4-375.8l-179.3 167.3l-36.2 46.5l-195.9 178.8l194.7-211.6l-180.4 175.1l75.4-97.3l-72.5 90.8l27.1 8.1l40.3-64.8l13.8-17.4l-39.8 52.5l471-441.1l-480.2 429.7l137.7-113.2l-63.2 48.1l-103.8 131.4l104.7-90.8l-140.6 92.5l401.3-371.5l-155.8 122.7l-221.6 238.4l84.9-110.7l81.8-40.9l-15.3-18.1l-50.9 90.4l-76.5 82.6l148.4-219.8l-82 135.1l-41.3 59.1l11-50.5l195.5-222.2l-261.9 296.1l-21.3 16.6l56.1-33l-50.7 28.8l73.6-71.9l-66.1 87.1l109.7-86l10.6-6.2l55.5-83.9l-92.4 103.8l-15.2 3.5l51.3-76.1l2.3 3.7l-118.1 96.6l151.2-110.3l-60.5 51.5l-101 90.9l21.5-8.1l-5.1-8.5l44.2-53l211.2-164.2l-277.2 216.8l149.7-116.5l50.9-63.2l-153.7 171l88.2-36.5l358.1-419.4l-475.9 470l414-412.5l-394.3 399.1l122.5-94.9l-116.6 98.5l-14.4 5.5l238.7-205.2l-245.1 224.4l-20.3 4.3l205.8-230.4l-87.5 113.1l4.7 3.8l76.3-73.7l-171.9 130l-29.4 52.7l35.1-30.6l254.2-186.7l-128.7 98.7l-22.9 4.9l-54.2 70.8l30.1-101.3l-23.2 67.2l33-26.6l23.6-18.9l-125.6 102.8l29.3-28.7l74.9-48.7l152.5-172.4l-136.6 163.9l19.3-84.4l-118.6 171.5l58-67.1l106.7-108.9l116.6-96.3l-244.4 200.2l148.8-105.9l-168.8 102.5l-49.9 90.4l-10.7-9.1l58.5-11.7l172.2-198.4l-30.2-0.9l-173.3 177.2l29.2 23l65.3-65.3l-55.3 25.8l237.2-211.2l76.9-113.7l-352.4 351.7l166.2-124l108.2-112.2l-249.3 238.9l39.8-22l15.1-54.9l-106.7 119.4l40.1-8.9l-28 8.7l11.4-38.2l15.8-1.3l-23.2-0.1l326.5-244.5l-223.4 164.4l-52.1 49.7l32-39.1l-58.9 56.7l-25.3 40.3l83.9-83.2l192.5-198.2l-285.9 268.8l126.8-116.4l-63.1 72l-45.9 42l-20.2 28.1l262.9-263.8l-174.2 204.8l-89.4 43.1l293.1-225.7l-252.3 232.6l22.5-66.9l-45.6 45.8l67.3-71.6l309.7-263.1l-308.5 300.6l-74.8 58.9l19.7-35.6l77.9-29.8l-90.3 58.4l232.6-219.9l-247.2 210l343.5-349.8l-28.8 59.1l-280.8 256.6l-27.2 49l-8.6 6.9l79.9-38.9l48.9-78l-49.8 45.8l-47.2 51.6l108.7-139.1l-17.7 71l-99.1 65l53.5-3.5l105.9-135.7l-170.4 105.1l28.7 0.5l255.5-258.4l-294 289.8l177-172.2l-75.2 60.9l89.6-116.8l-38.7 119.7l-146.9 130.2l66.1-104.7l542.5-497.6l-621.8 594.3l15.3-6.3l-4.1-18.1l-8.3 34l94.9-36.2l11.2-60.8l136.7-103.1l-145.4 148.1l-83.7 52.6l176.6-145.5l54.7-132.7l-12.7 64.2l-129.3 135.6l137.2-117.1l-65.7 35.8l-45.7-3.7l-129.1 136.1l55.1-26l-30.4 15.6l91.9-15.8l157.1-272.4l-180.4 210.7l-31.5 76.4l-61.3 39.7l9.5-34.9l274.4-264.5l-185.2 198.9l-9.7 28.9l186.5-216.3l-62.7 74l16.6-12.1l56.3-95.6l-227.6 279.5l-33 15l-12.9 27.7l241.4-262l-111.2 80.9l17.8-30.9l-111.4 154.5l5.2 2.7l10.1-28.5l-60.6 81.6l204.6-170.1l-81.9 11.9l29.6 47.2l87.4-77.3l-217 147.3l465.2-414.6l-437.9 401.9l-28.4 27.9l136.2-100.4l369-399.1l-535.7 499.5l221.8-140.3l-185.5 140.9l-23.2-10l86-33.9l271.1-327.7l-255.6 300.2l48.1-36.6l21.7-61.6l-153.2 146.5l15.1 5.7l34.9-83l-73.9 115.2l282.3-229.4l-273.5 231.9l53.8-97.9l-44.9 91.7l302.4-362.1l180.6-71.7l-501.8 448.5l33.9-34.4l-2.6-39l89.8-60.3l-31.4 41.1l-85 80.1l343-340.8l-342.6 327.1l120.1-74.3l47.1-126.6l-144.2 228.2l144.6-179.6l-177.4 157.1l15.2-21.3l79.5-47.5l78.4-14.8l96.2-136.8l236.5-190.6l-307.5 201.9l218.3-204.1l-337 378.5l-47.9 12.5l80.5-95.7l-24.2 48.1l-1.9 10l26.3-40.6l11.7-11.4l-44.9 100.5l-31.1-5.6l-25.4 6.6l-17.4 29.5l396.5-365l-335 287.3l123.9-109.6l-91 89.5l-54.7 45.8l-46 55.5l27.4-24.5l8.2-14.8l274.6-254.7l-291.3 292.6l-9.4-13.6l547.4-551.4l-262.7 260.5l-50.1 51l-225.8 255.7l48.6-37.8l98.8-118.7l-81 42.5l-3.2 65.4l17.9-71.5l136.5-51.2l-207.3 122.8l-10.2 45.5l230.1-295l-44.3 140.4l-113.8 50.6l-48.3 7.3l87.9-30.5l-46.4 39.4l84.9-31.8l10.4-106.6l-170.9 203.6l151.6-159.3l-116.7 155.3l167.2-150l-32.3 11.8l77.6-55.4l-219.8 186.7l372-309.3l-337.8 277.1l89.4-107.7l59.3-83l-94.6 83.7l-103.2 143.1l224.8-243.2l-163.4 161.7l-68 91.6l67.1-49.6l-65.5 48l384.9-368.1l-301.6 285.1l37.3-48.7l220.5-197.9l-218.5 177.7l-123.4 162.1l79.7-95.8l29.9 12.4l-70.8 37.6l416.9-440.1l-436.2 447.9l360.8-304.7l-315.2 265.5l-38.2 48.1l21.5-37.2l195.7-117l-188.6 141.2l94.7-78.5l-10.2-25l-147.6 142.2l102-59.1l-66.1 34.6l85.1-64.9l-122.5 85.7l24.2-14.3l17.8-22.1l102.4-96.3l-142.8 125l302.9-233.8l75.4-140.7l-359 379.1l51.2-41.7l-3.3 8.8l-69 55l75.7-62.5l61.2-87.1l15.1-62.7l-11.9 122.7l-93.5 41.4l-21.9-3.2l237.3-213.5l-123.8 100.5l-42.2 51.5l-84.2 63l12.3 35.6l81.9-124.1l-50.3 59.4l41-0.5l-30.5 21.1l121.4-135.2l-17.1 7.9l-137.1 150.3l-0.4 19.3l113.4-125.8l33.6-52.1l15.7 3.2l-188.5 191.3l13.7-43.9l-19.5 38.4l98.1-76.9l68.7-96.7l-70.6 56.6l-2.8 31.3l-54.2 66.3l-38 7l182.1-203.8l11-0.1l-174.5 165.3l4.9 5l206.7-142.2l-39.1 39.4l333.6-395.7l-413.4 382.3l-67.1 119.1l91.1-117.5l276.8-280l-202.1 275.5l-146.6 112.4l262.6-202.8l-19.1-49.7l-301.2 290.5l135.3-104l14.5-51.5l-11.9 26.3l-33.4 43.5l48.7-45.3l87.2-87.4l-96.8 121.6l-113.1 56.4l71.2-36.5l67.3-71.7l7.3-45.5l-163.7 182.5l134-132.2l-55.5 41.8l-96.1 122.2l149.2-156l-79.1 74.6l71.7-85.6l-54.3 84.5l5.9 11.2l67.2-118.9l2.6 3.2l-12.7 51.9l-106.3 85.4l54-50.2l-106.6 76.8l195.6-205.3l-88.2 86.5l-65.3 90.5l131.6-133.8l-152.2 153.8l2 9.8l4.3 19.6l10.5-91.4l119.3-57.6l-120.7 141l149.1-178.2l-117.4 105.9l-4.5 55.7l-50.4 12.7l136.1-160.7l-146 132.7l24.4 20l46.6-43.7l247.7-228l-284.7 256l180.2-145.3l-168.1 127.5l159-174l-129.3 142.6l-41.2 53.5l-12.7-17.1l-1.5-8l-15.5 55.6l-5 1.3l82.8-79.4l-58.6 57.3l19.3-32.7l-45.5 54.9l127.4-87.8l450.8-479.2l-261.1 222.4l-283.1 297.1l197.7-154l-209.9 177.2l182.4-178.6l245.3-235.7l-278.1 271.2l-154.5 166.2l304-334.2l-250.6 258.2l84.6-84.3l-76.7 95.6l36.8-59.5l107.9-86.5l-113.3 89l-39.5 40.2l-49.3 35.9l16.7-17.3l-38.8 53.5l49.9-30.2l15-24.3l-4.1 10.4l-59.9 48.1l319.1-285.5l-291.4 264.9l69.6-32.6l248.6-327.4l-321.6 352l21-24.9l-44.3 61.4l82.5-82.7l254.8-311.9l-327.2 386.4l12-18l11.4 1.2l81.7-132.6l-90.3 149.2l28.5-58l70.3-20.8l-99.4 66.3l42.6-41l-54.1 35.9l106.3-61.2l-29.4 8.2l87.3-66.8l-2.9-56.6l-24.4 61.7l-93.3 105.1l-32.9-24.7l98.7-52.6l-55.6 33.3l-39.2 47.9l60.6-13.5l11.9-76.4l-50.3 94.5l64-125.1l-113 140.4l177.1-175.2l-98.4 160.8l-78-0.3l-3.4 11.8l145.1-159.4l-142 170.2l18.3-11.2l9.4-61.4l268.3-254.5l-210 247.9l8.2-3.2l-95.5 86l59.5-64l11.1-4l190.3-183.5l-263.4 253.1l53.8-48.6l148.2-142.8l-113 131.1l21.9-41l-108.7 100.4l150.4-157.9l34.1 14.8l-139.8 95.7l191.4-207.2l-168.8 163.4l140.4-107l17.7-17.8l-46.4 29.6l-82.6 101.1l-40.8-23l-22.3 93.8l64.8-110.6l156-114.9l-212.4 189.7l119.2-134.6l-87.9 112.4l-59.8 71.5l26.5-29.7l60-79.5l-82.2 85.6l87.3-91.5l-1.2 28.9l82.4-120.5l13.1-7.4l-162.6 158.7l146.2-109.1l-138.3 109.4l-32.3 8.2l48.5-19.1l13.1 27.7l137.3-180.2l-175.9 176.5l394-405.2l-298.1 266.1l209.8-200.9l34.1-2.3l-168.1 119.1l-182 225l64-40.4l-81.8 71.4l106.1-63.3l-67.5 2.6l81.3-89.3l-60.6 116.5l-12.4-24.8l-26 29.7l25.3-32.2l356.1-322.1l-345.6 320.3l-31.6 27.6l264.3-231.8l-103.8 59.3l-50.8 41.6l-100.5 151.1l93-139.7l-75.8 137.1l91-123l274.6-246l-338 343.4l-35.1-29.9l29 1.5l69.2-32.6l-115.1 76.3l50.3-31.5l310.9-321.9l-84.9 82l-111.1 75.2l-171 193.9l-19.9 20.7l44.3-82.3l3 57.6l133.9-93.5l73.5-105.6l-79.1 74.2l-158.1 144l171.5-182.7l-162.2 170l109.6-53.4l-144.8 87.5l208.6-193.3l-179.6 161.7l43.9-52.3l-29.5 35.6l214.5-173.7l-164.4 110.7l59.8-2.7l154.3-156.3l-142.9 130.4l-29.2-3.1l-112.9 104.3l265.2-262.8l-124.7 166.5l-165.8 112.5l65.8-24.3l-32.7 24.2l28.2-5.6l-34.8-9.1l10.1-10.8l-28.1 41.4l340.7-307.4l-309.3 279.4l66.4-87.1l-60.9 121.1l-12.6-22.4l-3.2-6.9l7.9-10.2l-25.5-5.4l-1.7 31.3l-4.7-3.1l5.9 21.7l36.1-43.4l-7.3-16l10.8 16.1l119.9-122.3l59.4-108.7l-209.8 260.9l-4.2 2l15.9-21l-2.7-7.5l-20.2-1.7l190-182.1l23.6-49.7l-119.5 151.8l107-88.6l-4.7 43.5l-52.5 36.1l-6.7-34.9l201.4-213l-321 358l13.6-48.8l-13.6 49.6l157.3-199l-121.8 130.1l-33.2 30.6l226.3-179.4l-45.4 63.8l-165 111.4l-33.3 57.2l191.9-184.2l-161.2 158.5l32-71.8l-36.5 75.2l4.3-14.6l120.4-116.2l-152.4 120.6l44.6-12.5l137.6-85.4l-183.5 134.3l47.6-37.5l24-84.3l120.5-65.2l-31.5-35.8l408.1-287.5l-545.9 479.5l174.8-197.8l41.4-21.8l-52.5 25.6l-118.1 159.3l-75.3 62.1l121.9-116.6l-51.7 33.9l-5.3 46.8l226.1-269.2l-235.6 213.5l47.3-15.1l191.6-207l-187.7 167.9l67.6 3.5l-127.1 92.1l129.3-155.1l-84.6 117.4l18.8-36.6l25.4-6.2l-73.6 55.7l182.6-174.7l79.1-93.6l-269.1 283.6l123.3-99.3l-171.6 119.5l40-11.7l-42 55.1l465.3-419.3l8.9-79.7l-363.3 322.9l-42.1 87.2l325.8-253.9l-331 274.4l29.9-25.1l197.5-198.1l-234.1 250l-0.2-32.2l-2.3-29.7l-53.5 102.2l56.1-68.4l-62 62.8l56.7-48.8l-13.8 33.3l88-149l109.1-39.7l-129.1 100.1l11-41.8l153.9-116.7l-224.3 206.8l82.6-49l15.6-27.7l-125.8 120.1l351.3-325l-374.9 341.3l192.7-198.7l-65 60.4l-59.8 73.3l138.2-111.4l-36.9 13.1l-15.9 29.7l30.4-51.3l-145.4 166l142.6-189.1l19.1-2.8l-50.6 8.7l-64.4 91.8l189.5-174.3l-152.8 158.9l64.4-60.1l-145.7 182.2l113.5-109.6l-29.2-26.2l-75.5 93.9l17.4-18l15-19.6l-5.3 45.8l-13.8-39.2l24.8-21.6l-25.9 25.7l55.9-13.2l-90.3 78.5l28.5-65.6l128.1-110.8l-143.2 136.8l-37.4 37.6l142.7-139.3l63.5-38.3l-55.6 68.4l-108.2 78l60.2-83.3l168.4-99.7l161.8-215.5l-167.6 183.5l-237.9 216.5l-13.6 19.8l46.5-1.5l233.4-234.9l-278.9 236l88.5-97.6l22.3 15l-104.2 63.2l-21.3 31.4l55.5-28.5l18.1-61l79.7-39.7l-10.5-28.3l-78.5 81.1l-22.9 55.3l191.3-212l-227.8 236.5l58.2-62.9l-60.5 53.7l11.2-28.8l84.3-40.8l103.3-139.7l-129.2 146.8l66.8-73.2l-129.2 116.3l188.6-208.6l218.5-145.1l-192.3 167.2l-203.7 200l203.8-148.4l-59.8-3.2l-112.5 58.9l153.2-73.2l111.9-123.5l-255 244l48.6-71.6l91.2-114.8l-173.6 200.8l2.2 13.1l-6.4 3.8l19.3 10l-15.2 12.4l-14.5-21.2l44.7-64.1l-49.1 73.4l-7.9-20.3l-2.2 36.6l167.1-204.4l-35 112.7l-21-10.4l-26.9 15l12.8 17.7l394.7-447.2l-201.6 179.4l-204.6 243.9l-70.8 74l32.8-19.2l51-63.1l-65.1 59.1l-32.1 50.9l76-83.1l-68.5 84.4l28.4-35.6l289.3-304.5l-263.8 245.1l56.5-66.2l-95.7 124.8l560.7-491.5l-555.4 514.1l154-142.4l-136.1 102.5l80.2-44.4l-77.6 57.5l34.9-80.5l141.4-139.9l-15.2 3l-202.5 232.7l310.2-334.9l-250.3 293.4l-11.3 20.9l-47.9 32.9l7.9-15l14.4-13.5l3.4-7.8l505.6-490.1l-458.7 452.4l30.4-15.1l-71.4 47.3l8.9 1.5l30-11.1l-26.2-52.4l89.1-11.7l-41.7 31.9l-18.7-13.4l-83.8 109.4l61.2-73.1l-4.2 22.9l146.9-123.7l-142.1 103.4l89.2-58.5l-113.5 86.8l488.5-483.8l-504.1 518.2l68.1-92.4l62.5-49.2l-77.6 62.9l-61.4 55.2l4.9 2.9l121.9-152l-122.4 178l-1.9-11.4l-16.8 2.1l122.8-117.8l179.3-170l-253.9 267.2l17.9-58.6l105.4-68l-66.8 57l-6.9 43.3l-68.8 26l-23.4 14.1l-0.9 9.8l265.5-271.1l-119.8 92l-62.9 109.1l-24 38l15.6-17.5l29.7-35.2l-16.3 12.8l67.2-81.7l-151.7 118.7l147-96.5l-121.8 116.2l43.4-56.2l-71.3 78.7l46.9-37.3l117.9-134.7l-77.3 126.4l38.6-101.6l-94.6 98.1l19.6-0.7l0.2 4.9l144.3-104.6l-176.9 91.1l121.5-110.3l153.3-134.3l-110.9 134l-150.3 134.1l18.6-13.7l192.5-209.7l-228 233.3l-21.3 23.2l257.2-189.3l-110.6 62.2l-119.2 99.5l233.1-185l-251.8 180.3l131-116.8l-122.5 153.8l17.4-31.4l-1.2-1l59.6-41.3l-20.6-6.2l-63.8 71l144.1-156.1l36-1.3l195.6-211.8l-349.3 360.6l111.9-138.4l-144.8 154.8l71.1-94.2l121.7-84.5l234-211l-382 313.7l8.1 11.2l-23 33.7l42.2-41.5l21.4-62.9l-44.7 61.8l-18.4 49.9l-13.5-19.4l-7.2 7.2l6.3 23.3l-10.4-2.8l316.3-308l-262.6 265.7l68.3-127l-47.2 101.5l-30.6 16.1l55-56.1l-97 110.6l136.1-116.6l-42.1 13.1l-54.9 59.1l-46.4 58.2l149-138.3l38.2-78.6l-150.2 192l16.9-64.5l95.4-67.2l-78.5 81.8l57.9-87.6l126.6-91.7l-167.2 122.9l151.5-90.2l-48.2 56.8l-71.8 100.8l66.3-168.2l46.9 17l-210.7 183.9l37.6-58l-52.3 63.8l282.8-251.2l-244 205.8l146.9-122.4l-168.9 161.5l-19.7 27.4l298.6-336.9l-267 303.5l140.6-139.8l-73.1 97.9l-18-9.4l81.8-128.3l75.7-10.3l-184.2 157.3l-1.9 10.4l-45.8 47.4l180.7-154.6l-97.1 89l114.7-102.2l12.5-85l112.8-38.5l-293.1 270.2l210.9-224.1l139.5-83.4l-366.4 340.6l9.2-25.5l-1.3-29.6l18.6-5.2l341.8-315l162.2-162.6l-546.2 511.4l23.2 4.9l64-86.6l-13.4 8.3l158.3-143.8l-233.9 201.1l205.8-147.9l-190.2 185.5l211.8-226.4l-163.3 175l-74.8 49l111.6-73.7l-25.8-13l73.9-69.8l119.7-129.6l-228 279.1l46.9-100.7l415.6-435l-215.4 226.3l-224.8 258.1l177.7-147.3l-239.6 198.6l348.2-308.1l-346.8 305.3l61.3-18.9l0-20.6l-20.7-20.4l-46.1 50.2l13.1 11.5l193.1-211.9l-208.7 225l-6.3-6l32.6-10.8l169.8-159.9l-11.4-43.2l-156.9 171.5l164.2-120l-77.1 79.7l-92.9 65.6l46.4-55.5l120.8-116.7l-177.3 173.7l346.9-369.3l-309.3 354.3l19.2-25.1l-51.6 44.6l-11.3-3.2l128.1-148.6l-139.7 159.4l16.3-0.9l338.9-291l-293.9 248.2l41.3-24.5l-58.9 24.5l-27.2 53.7l187-179.1l-200.1 163.2l196-169.5l12.1-26.6l-163.5 165.9l115.4-119.4l-93.8 96.8l6.3 16.1l-25.2 6.4l-21.9 1.9l-25.9 6.2l139.5-64l-101.9 84.4l-25.5-10.8l36.8-48.8l240.7-185.2l-265.5 221l-7.4 3.4l52.1-14.5l-4-15l55.3-73.3l-18.9-0.1l-84.3 106.9l51-38.9l-24 19.4l-35.8 53l6-18.9l-4.8 6.9l106.7-66.9l-9-34.1l38.8-33.9l40.4 5.6l-167.9 123.4l-6.3-11.2l193.8-206.2l-150.3 193.6l22.9-48l-6.7 15.7l70.6-75.5l-117 115.5l38.2-45l44.7-53l-8 41.5l-21.3 23.1l-4.2 20l-15 21.2l-14.6-24.3l-30.2 51.7l121.7-129.3l182.8-239.9l-93.7 136.2l-208.8 199.1l25.1-15.4l-5.5 1l-10.1 9.6l17.4-17.2l31.7-33.7l58.6-60.5l-109.6 103.7l60.2-25.3l-83.3 43.5l434.3-420.4l-305.8 299.4l-42.5 83.7l225.7-198.9l-312.4 227l163.4-119.5l5.9-19.3l-167.9 163.8l17.1-16.2l298.1-308.9l-270.6 295.6l73.6-90.5l373.9-304.4l-169.4 177.2l-304.3 220.7l46.6-35.5l-66.6 65.1l0.5 3.7l319.9-316.6l-317.6 320.8l151.6-175.5l-103.2 90.1l-20 36.8l65.8-68.9l170.1-154l-193.6 206.7l-43.2 67.6l92-108.1l-24.8 20.4l11.9-17.7l-85.6 62.7l6.4 31.4l-6.2-49.3l115.5-46.3l-124.7 90.7l115.6-117.8l-82.9 90l34.2-66.3l444.7-402.3l-391.8 355.7l-25.9-0.7l185.8-88.6l-117.2 69.2l153.6-126.4l-226.3 199.5l-90.4 91.3l140.1-138.7l69.8-56.1l-167.3 168.2l232-234.1l-13.8 6.2l92.7-93.4l-302.1 303.7l47.4-101.1l-23.4 35l84.2-63l-174.2 185.7l485.9-510.3l-331.9 332.3l-133.8 136.7l92.6-83.1l-75.3 82.3l376.8-380l-417.7 411l145.5-129.1l-36.9 54.4l-27.7-11.8l35.5-27.5l226.4-219.7l-261 248.9l-80.7 93.5l201.2-219.8l-133.5 143l26-1.5l82.6-100.7l-89.8 92.8l-31.6 2.1l63.4-55.2l-32.4 66l-36.5 20.6l173.7-201.2l-200.9 223.7l69.2-82.6l-62.5 77.8l-6.4-5.3l35.2-25.9l99.1-78.3l-99.2 120.3l-56 13.2l71.1-57.1l-46.5 47.5l1.3-11.4l51.3-75.3l2.4 89.8l-12.1-57.4l-24.1 17.2l-15 12.3l254.4-208.9l-272.9 250l132.1-113.2l15.6-60.7l-128.6 156.1l-9.1-37.2l-3.9 19.7l377.4-319.6l-141.9 132.8l-191.6 189.4l124.7-131.9l276.5-293.9l-460.3 462.9l50.9-60.7l123.9-131.3l7.7-5l44.7-52.6l-147.9 161.9l60.9-61.9l-35.2 41.6l-101.1 96.7l39.7-55.9l52.6-41.2l-98.2 108l33-36.8l-17.4 14.9l166.2-149l121.9-109.7l-284.1 254.4l75.9-77.3l45-29.1l-107.7 82.1l38.6-20.4l-17.6 14.1l-40.6 28.5l90.2-50.2l-15.5 13.8l-72.3 55.2l434.4-416.9l-239.2 208.7l81.3-47.4l-242.7 235l273.2-241.2l-116.4 54.8l-193.5 172.7l4.4 31.8l22.9-36.1l102.3-106.5l229-236.8l-116.6 124.4l-152 146.4l-2.1 26.1l138.7-113.1l-232.1 201.2l116.7-135.9l-35 27.4l-17 19.5l57.5-50.2l-114.2 95.3l37.1 32.4l115.7-124.6l-113.6 58.8l275.3-270.2l-263 259.3l255.4-155.1l-255.6 182.2l223.6-247l-130.3 123.8l237-188.3l-317.4 319.2l-3.8-23.4l96.9-56.8l-171 141.3l21.6-20l4.4 3.6l133.3-114.1l-45.1 32.1l-37.9 13.8l-59.8 46l-1.8 27.9l235.3-193.3l-181.7 148.2l88.8-121.1l-98.5 138l123.4-147.3l-61.4 28.6l-113.8 126.8l10.8-15.5l20.3-23.5l194.1-202.8l27.9 21.7l-72 48.9l285.7-269l-321.4 325l-80 70.3l107-77.9l-8.4-18.4l-140.7 133.2l25.5-42.1l45.3-8.2l127.2-164.8l-79.6 74.5l-47.6 96.9l205.8-281l-244 255.4l-16 40.6l-22.5 67.9l-7.6-31.6l78.7-37.6l-69 39.7l262.5-218.2l2.7-36.4l-171.9 199.6l4.5-93.3l-114.2 175.4l276.4-260l-196.9 181.3l294.5-326.7l-250.9 251.8l-22.9 57.6l-112.5 84.6l60.5-24.4l131.9-139.1l188.4-204.6l91.3-46.4l-389.5 359.2l563.3-540.6l-449.6 434.4l103.1-149.2l-281.9 306.8l524.1-505.4l-531.3 497.7l-10.5 2.5l160.8-140.6l-136.4 150.3l111.8-122.3l-80.8 112.3l-13.2-39.6l-19.6 20.4l45.4-42.8l184.5-150.1l-39.5-16.4l-179.1 247.3l84-135.4l-49.6 97.8l47-88.2l-113.4 128.6l45-20.1l100.6-101.3l-59.3-2.6l152.1-133.1l-231.4 257.5l146.1-136.7l86.2-119.2l-132.8 166.2l-75.8 56.5l88.4-100.8l-90.3 89.7l20.8-12.7l19.9-27.1l-55 79.3l274.9-278.2l27.6-42.8l-317.9 315.1l72.1-66.2l-0.1-15.8l116.5-58.5l-174 116l14.8 19.1l3.9-6.9l2-20.4l63-59.4l116.1-146.3l-213 232.3l202.5-197.5l-77 89.1l-57.6 84.5l51.3-43l74.5-58.3l-168.6 111.9l36.9-66.1l-62 76.4l35.7-46.3l102.8-60.6l259.9-245.2l-325.7 312.5l272.5-255l-294.5 271.1l8.6-18.7l162.1-165.7l-215.8 227l7.3-5l102.5-120.5l-50 58.1l36-38.6l-0.5 20.3l28.8-56.6l-90.8 96.7l-41.3 48.9l224.1-204.9l-70-6l27.6 21.7l-32.2 19.6l-136.3 143.7l260.3-298.8l-260.3 294.7l373.6-347.9l-344.7 315.5l-24.3 52.6l469.1-488.1l-480.1 490.3l69.8-57.4l-75.6 47.1l528.7-521.1l-523.4 525.1l16.2-34.3l309.7-278.1l-107.7 143.1l202.7-285.6l-370 429.5l37.2-14.3l8.3-89.1l-72.3 139.7l-9.8-20.3l9.8 9.1l61.1-76.4l-82.4 85l69.4-74.7l-55.7 80.1l27.2-27.4l32.5-33.4l-47.9 19.4l210.7-257.3l-105.4 140.4l-88.3 132.8l582.2-602.8l-612.2 585.8l252.5-267l-238.1 269.3l-9 14.8l140.5-197.1l-163.6 220.5l30.1-40.4l416.6-336.6l-443.7 362l38.1-38.9l-24.8 9.6l15.7 2l105.2-99.1l347.9-297.3l41-82.1l-287.9 323.1l-162.3 144.6l-65 33.3l4.8-39.1l3.6 50.3l85.2-52.1l-101 59.2l140.8-166.8l-114.7 149.8l250.7-274.3l-278.7 274l176.9-174.1l452.9-388.5l-417.3 359.5l-113.1 137.6l75.4-29.4l166-263l44.5-32.1l-373.9 408l248.4-280.9l-132.7 113.5l-110.7 170.2l-0.7-22.4l563.1-552.2l-530 487.8l171.7-160.4l-135.3 153l-12.9 56.9l-34.3-64.3l390.1-282l-423.1 373.3l9.3 6.5l111.5-121.5l-63.8 85.7l90.1-123.3l-92.6 75.1l95.5-99.2l-122.4 149.5l44.7-14.1l-67.1 23.8l292.6-278.5l-251.7 263.2l83.1-153.1l-124.6 180.7l-2.1 7.5l-0.5 2.5l9-53.9l215.5-179.9l-216.6 238.1l312.6-348.6l-71.3 90.6l-259.5 241.3l390.4-372.3l-35 69.7l-329.6 296.9l-9.6 0.8l-18.6-2.3l363.3-316.8l-177.2 183.9l-174.6 136l89.7-109.8l-16.5 18.4l-55.8 80.9l316.9-293.3l-154.5 152.6l-185 137l33-19.2l-24.4 30.9l220.4-179.2l-79.3 45.3l-111.3 126.3l85.7-73.4l-15.3-54.1l-98.1 158.7l194.8-219.5l-168.5 166.1l246-229.4l-1.1-51l-199 218.9l41.9 9.6l17.8-56.8l248.9-178.8l-373.4 330.1l-9.4 4.8l121.6-180.7l93.8-21.6l-107.4 76.5l-120.7 123.7l56.9-39l158.2-112l-213.8 139.9l214.1-201.3l-145.2 158l-65.2 14.8l622.2-528.7l-566.1 534.7l-55.5 14.6l96.1-90.5l-87.2 115.3l42.2-66l196.5-195.6l81.6-61.8l292.5-242l-586.9 565.5l16.8-51.4l-13.6-20.9l19.6-1.2l89.7-22.9l-127.4 89.4l23.3-53.5l260.6-211.8l-44.5-3.9l171.4-174.2l-353.6 374.6l326.5-324.2l-347 352.9l54.6-55.3l413.2-406.1l-346.6 320l-173.9 169l1.9-6.7l79.6-63.5l7.2-13.4l-93.5 74.5l103.4-79.7l109.5-105.1l60.4-47.5l-35.4-5l-161.4 169.9l-29.9 61.4l9.2-17.6l4.1-16.1l-14.6 29.8l374-428.1l-348.4 416.8l19-58.6l198.8-167.3l-272.5 268.8l10.1-34l99.5-87.9l-84.6 71.5l92.5-82.5l-118.6 117.3l272.8-243.2l135.2-142.2l-174.1 198.6l-236.7 210.6l89.5-83.7l117.2-161.5l-53.9 25.5l-114.3 143.9l38.2 10.6l-84.5 38.5l627.7-534.3l-588.7 504.3l167.6-99.9l-198.5 133.3l370.4-372.2l-277.3 316.7l-102.9 67.3l41.9-18.9l102.6-96.6l-149.1 124.2l153.3-144.2l-126.7 88.7l66.9-52l-86.6 111.5l-10.7-1.1l189.5-221.6l-190.4 198.4l11.6 7l14.1-3.9l236.2-204.3l-154 98l-55.3 103.2l-13.6-0.4l18.1-40.8l-43.2 49.3l9.7-24.9l20.3-14.9l-1.2 2.8l48.8-27.7l-30.7 39.2l-17-8.2l-44 31l162.9-156.8l-151.4 138.4l-3.7 14l335.6-290.7l-227.7 176.8l254.1-234.7l-293.9 275.2l21.1 7.8l-90 81.6l30.8-57.4l18.3 6.9l-43.8 31l27.3-16.1l-7.4 18.9l-5.9-12.7l368.7-301.1l-290.9 250.4l11.9-31.8l-18.8 29.3l-48.1 50.7l152.7-179l122.9-128.8l-198.6 236.4l-107 75.1l15.7-20l41.6 16.3l100.9-132.8l60-73.4l-151.6 160.5l114.6-141.8l-190.2 220.3l-3.9-23.9l418.3-400.1l-152.3 193.1l-248.9 203.8l166.6-109l230.9-307.9l-352.6 364.5l58-21.3l-45.4 51l-7.4-54.7l236-192.3l-287.7 265.3l115.3-66.1l68.1-91.1l-94.8 50.8l-84.1 143.5l358-315.1l-376.5 314.2l388.5-336l-367.5 301.5l40.2-74.6l477.9-433.5l89.2-71.3l-461.9 415.6l-72.5 65.7l-43.2 54.3l-29 41.9l19.2 1.1l-37.5 4.2l6-3.5l70.2-65.6l381.9-352.6l-433.2 392.6l83.1-23.6l-5.2 7.2l279-353.3l-287.2 325.5l-105.4 97.7l56.8-37.1l-51.2 40.1l209.3-203.7l-207.9 191.6l13.1-7.9l213-212.7l-226.8 237.7l16.2-31.9l70.5-65.5l-74.4 45.2l-15.4 49.8l248.3-246l-242.4 235.4l11.3-38.2l51-41.6l-69 93.5l276.6-238.4l-264.2 193.4l95.4-83.5l-83.1 86.5l190.9-185.8l-81.3 151l-77.9 2.7l-44.2 56.1l209.9-222.3l38.4 40.8l-249.2 133l59.5 5.4l150.3-195.1l-200.9 212.1l150.3-107.3l446.4-441.8l-550.5 516.9l35.8-36.8l-40.5 15.5l39.8-35.1l-26 64l41.8-47.3l-85.4 65.2l6.5 10.7l503.9-492l-391.8 380.1l-114.6 90.4l97.6-59.1l120.5-161.4l-18.5 80.5l-209.3 170.2l34.4 3.9l-25.9-18.9l104.7-130.6l-139.7 168.9l76.6-61.1l359.7-374.5l-425.2 412.2l251.3-260.7l123-81.2l-237.6 183.8l-8.6 49.9l-141.5 139.5l251.5-209.9l-207 161.4l34-2.4l-50.7 16.8l-9 33.6l69.9-91.6l-61.9 84.6l108.5-103.9l-77.2 90.6l232.9-286.6l-56.4 61.5l-189.3 191.4l-2.1-13.2l39.8-35.1l-62.9 84.8l193.1-155.7l-169.1 103l174.4-129l-20 13.7l183.3-191.4l-216.3 231.6l-152.9 107.1l22.1-6.3l25.8-43.7l29.2-44.1l7.5 50.4l-88.6 41.7l478.7-438.7l-346.5 332.6l-135.4 122l-5.7 7.3l78.9-56.8l44.5-84l-97.6 116.2l150.9-151.1l-149.8 151.6l43.7 7.2l9.9-71.1l74.9-56.9l-15.5 30.3l-87.5 88.7l11.6-10.3l34.7-51l-32.7 43.6l-43.7 6.3l-9 40.4l30-28.7l-8.7-2.2l44.8-18.5l216.1-187.6l-54.9-25.4l-124.3 161l95.7-137l-66.9 67.2l-60.3 115.3l16.5-47.3l-25.8 36.3l165.2-211.2l-32.4 104.5l5.3-27.5l-189.1 199.6l335.5-364.7l-223.7 209.2l-43.4 108.8l-83.7 39l181.2-152.6l-24.8 9.5l-165.9 166l12.7-43l174.3-139.8l-148.3 133.8l56.1-20.1l-44.6-10.6l10.1 3.2l36.6-59.1l33.3 31.1l-109.2 85.7l141.9-178.4l79.7-70.7l-242.5 239l52.5-33.4l45.7-29.3l-97.6 69.1l38.3-45l43.5-35.3l104.2-121.9l-166.1 206.4l79.7-76.9l-78.8 32l181-141.3l-140.8 129.3l-25.3 28.9l126-57.5l-155.4 104.4l198.3-182.7l-185.3 172.3l460.9-431.5l-387.1 362.6l-46.6 10.8l-8.8 18.1l322.4-251l-335.5 293.7l334.6-328.3l-316 272.9l51.8-36l-89.4 90.7l26.8 6.1l62.4-101.7l-64.5 73l-5.3 31.3l50.4-44.2l-41.8 15.9l23-46.5l51.9-35.2l1.2-37.1l-91 100.8l123.3-111.2l89.6-109l-201.5 245.3l13.5-42.2l-32.8 46.1l204.8-197.1l-84 76.2l-129.9 110l92.5-67.6l-70.7 87.3l112-118.9l-80.2 85.6l-23.5-10.9l150.1-118l-124.6 122.5l62.2-42.8l-105.7 65.6l38.9-29.7l212.4-164.5l-190.8 182.8l-19 3.3l4-37.3l-39.3 51.9l180-178.8l-131.2 99.4l-30.8 63.6l189.3-152.9l-201.4 139.4l65.3-18.4l-9.7-59.7l0.9 4.3l70.9-7.8l-121.9 69.8l116.3-71.3l44.3-48.9l-150.5 144.6l362.6-407.3l-170.4 243.7l-209.4 150.7l156-113.1l-153.9 133.5l56.8-78.6l-56.4 79.2l298-268.4l-191.6 165.8l-117 130.3l206.7-240.2l-152.4 169.2l131.6-106.9l-197.1 173.1l24.5-56l152.7-108.4l-98.4 112.3l-63.4 18.1l197.9-143.9l-102.4 56.4l156.1-119.5l-190.2 140.4l-28.9 28.7l-15.4 30.8l31.9-1.3l0.2-14.8l102.3-128l-169.3 163.7l319.6-330.5l-229.6 257.5l155.3-189.6l-244.2 273.6l82.6-77.8l336-280.4l-200.2 149.9l-206.6 220.2l342-344.9l-231.1 171l-80.7 122.7l-26.2 52.4l8.1-4.3l102.7-99.6l-128.4 85.4l55.4-38.2l170-166.1l-121.9 162l-92.3 59l58.9-66.8l127.6-155.5l-27.9 38.9l13.8 18.1l60.3-76l-179.8 170.9l159.1-107.9l-6-10.1l-129.1 113.8l-38.3 14.3l295.5-303.2l-235.8 293.1l-52.6 1.1l158.9-166.1l25.3 57.6l-200.3 108.2l-30.8 55.8l117.8-110.3l-44.7 26l-84.4 95.6l240.3-262l-208.4 239.3l-20.2 22.7l49.8-68.3l12.9-20.8l84.1-72.6l-111.4 118l-27 45.6l224.4-174l-163.8 108.4l-55.3 26.3l69.1-34.3l-57.9 33.9l10 35.2l276.6-325.9l-179.6 221.9l3.8-7.8l87.1-152.5l-229.9 264.7l192.2-123.8l-79.2 21.8l-52.4 29.2l-56 66l50.8-40.7l11.9-13.4l-5 24.8l-54.5 37.9l214.7-274.4l-210.2 253.4l155.9-178.7l32.2-2.1l81.6-90.5l-189.9 219.9l132.5-125.9l-227.2 197.8l49.1-38.5l30.3-20.6l189.6-195.8l-215.3 186.8l274.3-185.8l-268 230.6l81.2-99.1l140.3-100.9l-257.1 217.6l11.5-29l-20.2 27.4l13.7-38.9l-7.6-11.5l-14.5 39.4l302.6-254.3l-188.1 184.1l1-34.1l140.3-155.6l-231.4 244.8l12.2-10.8l593.7-588.8l-619.6 608.7l362.1-341.6l-216 243.1l-24.8-20.6l105.1-93.8l-236.8 220.9l112.2-95.6l4.2 29.8l-58.3 7.6l-10.9-20.2l99.4-26.8l-113.5 81.4l99.7-90.4l-116.6 109l-22.5 25l29-18.3l123.9-171.9l15.3 16.7l-166.3 158.5l52.1-63.5l35 31.4l123.1-162.4l41.4-65.4l-200.3 216.9l347.1-357.3l-266.4 266.3l-67.4 100.4l-3.3-39.8l427-389.9l-453.8 436.8l-8.8-9.2l187.7-195.1l-109.5 123.1l-29.8 28.6l200.8-211.9l-181.3 196.3l152.2-102.9l-165 146.4l-52.6 56.8l137.1-175.2l114.1-138.7l204.3-138.3"/>
<path class="pr" d="M199.9 515.9l-146.7 2.6l439-238.8l117-162.4l-11.7 54.5l-490 291l79.7-99.7l237-200.5l-116.6 106.3l-59.9 59.9l270.8-124.5l-162.6 162.4l-202.3 61l375.1-193.2l-431.5 245.2l190.4-42.5l-237.5 80.4l103.9-123.2l-118.1 149.6l365.2-188.8l121.2-95.4l-257.1 56.9l-113.1 107.5l274.3-68.1l-86.9-115.6l-13.2 183.3l51.4-59.7l-315.7 134.6l249.8-79l90.6-61.4l-228.8 26.9l232.4-23.4l82.9-92.9l-175.8 143.8l98.2-61.9l-192.1 10l96.1-125l-195 201.6l170.8-161l144.4 34.2l-231.4 38.2l218.1-42.1l-97.5 114.4l53.3-30.8l-154.2 120.5l274.5-245.1l-60.3-136.3l148.2 27.9l-236 222.6l-85.2 73.9l-67.7-97.3l45.7 176.6l174.7-223.6l-250.1 75.8l-28.8 39.4l268.7-74.2l-59.1 25.2l-165 1.9l31.8 126.6l287.9-200.1l-47.5 0.7l-247.7 61l-120.7 93.6l42.7-56l266.7-72.4l-39 45.4l131.1-112.3l32.5 15.4l57.8-108.1l-463.5 243.6l352.5-132.8l-327.9 292.1l283.4-255.7l-264.6 68.6l145-141l331.6-87.5l-199.7-8.2l-375.6 369.5l459.1-286.5l-109.7 108.1l-106-59l-38.1 173.8l-215.1 56.6l456.1-298.1l-183.1 209.3l-117.6-114.2l221.5 22.5l151.5-106.1l-276.4 56l-42.8 42.5l385.4-170.1l-427.2 196.6l-162.4 164.5l380.5-222.8l202.8-145.7l-402.7 175.8l-76.4 97.9l-78.7 57.4l298.5-101.9l-1.9-167.1l-279.9 261.5l213.7-227.8l-111.7 134.3l-126.3 111.8l50.2-44.6l154.9-1.4l370.2-339.8l-333.2 328.2l-216.9 4l320.4-111.7l-20.3 44.1l17.7-198.6l-234.3 232.5l53.2-93.5l-109.3 126.7l517.6-283.4l-317.5 108.1l80.3 86.3l-164.2-44.3l85 129.9l155.2-171.4l-406.1 238l279.3-293.1l-178.4 332.7l131.1-264.3l-127.6 71.5l142.9 71.3l276-288.6l-433.7 273.9l481.9-289.5l-417.3 197.3l116.2-98.2l45.3 162.8l-36 56.3l-189.1-24.1l265-76.9l-253.5-2.8l148.3 83.6l102.4-72.2l-229.7-11.8l-114.9 151l92-125.7l471.1-198.6l-293.3 238.1l289.1-272.1l-461.2 435.8l-116.5-63.7l177.7-156.4l271.3-95.6l58.4-58.4l-311.6 136.6l224.9-236.6l-44.6 204l-330 185l467.9-289.3l-504.6 242.9l127.9-46.8l-42.7 178.2l167-304.3l-151.3 139.9l-117.2 129.5l70-72.3l458.6-253.2l-377.2 126.3l52.3-9.3l-125.2 130.3l277.7-120.5l-270.4 78.3l407-151.8l-366.5 113.7l-101.3 122.5l491.5-331l-55.8 50.9l-132.9-27.1l34.2 171.6l-83.4-101.8l-171.4 142.1l56.9 107.4l-1.9-194.3l380.6-82.5l-277 242.4l-193.4 126.7l-14.9-154.6l325.6-105.2l28.6-52.7l-310.6 92.4l-108.8 137.9l494.8-463.2l-115.6 278.6l-287.3 21.8l375.5-129.8l-286.7 125.3l-55.6 209.2l-44.9-96.3l-4.1-72.9l499.4-179.5l-140.2 58.7l64.9-2l-439.3 193l-29.4-4.7l439.9-238.6l-459.6 283l174.3-156l287.6-95l-253.2 69.3l164.3 2.2l-244.7 66l33-38l200.6 77.7l-207.4 102.5l180.9-150.6l-336.7 143.6l92.1-104.9l241.9-76l-84 111.5l304.9-286.7l-38.6 38.5l-431.3 222.9l150.6 13.8l165.5-163.4l46.8-30.9l-324.2 155.8"/>
<path class="l45" d="M0 644.2 L660 0"/>
<path class="lb" d="M0 579.78 L594 0"/>
<path class="lb" d="M66 644.2 L660 64.42"/>
</g>
<rect class="sp" x="0" y="0" width="660" height="644.2"/>
<path class="tk" d="M-6.5 644.2H0M0 644.2V650.7M-6.5 536.83H0M110 644.2V650.7M-6.5 429.47H0M220 644.2V650.7M-6.5 322.1H0M330 644.2V650.7M-6.5 214.73H0M440 644.2V650.7M-6.5 107.37H0M550 644.2V650.7M-6.5 0H0M660 644.2V650.7"/>
<text class="tl" x="-15" y="652" text-anchor="end">0</text>
<text class="tl" x="-15" y="544.63" text-anchor="end">10000</text>
<text class="tl" x="-15" y="437.27" text-anchor="end">20000</text>
<text class="tl" x="-15" y="329.9" text-anchor="end">30000</text>
<text class="tl" x="-15" y="222.53" text-anchor="end">40000</text>
<text class="tl" x="-15" y="115.17" text-anchor="end">50000</text>
<text class="tl" x="-15" y="7.8" text-anchor="end">60000</text>
<g clip-path="url(#xc)">
<text class="tl" x="0" y="674.8" text-anchor="middle">0</text>
<text class="tl" x="110" y="674.8" text-anchor="middle">10000</text>
<text class="tl" x="220" y="674.8" text-anchor="middle">20000</text>
<text class="tl" x="330" y="674.8" text-anchor="middle">30000</text>
<text class="tl" x="440" y="674.8" text-anchor="middle">40000</text>
<text class="tl" x="550" y="674.8" text-anchor="middle">50000</text>
<text class="tl" x="660" y="674.8" text-anchor="middle">60000</text>
</g>
<text class="al" x="109.1" y="717.6">True Cumulative Oil Production (m</text>
<text class="sup" x="523.98" y="708.1">3</text>
<text class="al" x="534.28" y="717.6">)</text>
<g transform="translate(-106.1 581.2) rotate(-90)">
<text class="al" x="0" y="0">Predicted Cumulative Oil Production (m</text>
<text class="sup" x="470.67" y="-9.5">3</text>
<text class="al" x="480.97" y="0">)</text>
</g>
<text class="r2" x="43.5" y="59.7"><tspan class="it">R</tspan></text>
<text class="r2s" x="65.6" y="48.6">2</text>
<text class="r2" x="82" y="59.7">=</text>
<text class="r2" x="111.6" y="59.7" textLength="76" lengthAdjust="spacing">0.975</text>
<rect class="lg" x="289.6" y="434.2" width="357.7" height="197.8" rx="8.5"/>
<path class="lr" d="M304.5 458.7H350.1"/>
<path class="lbl" d="M306.4 489.4H348.9"/>
<circle class="mb" cx="327.7" cy="521.7" r="2.3"/>
<circle class="mr" cx="326.1" cy="577.5" r="2.3"/>
<text class="lt" x="363.2" y="466.5">45</text>
<text class="ltd" x="387.7" y="457">&#8728;</text>
<text class="lt" x="406.3" y="466.5" textLength="108.6" lengthAdjust="spacing">straight line</text>
<text class="lt" x="363.2" y="497" textLength="227.4" lengthAdjust="spacing">Absolute error = 6000 m</text>
<text class="lts" x="593.1" y="490">3</text>
<text class="lt" x="363.2" y="528.5" textLength="256.8" lengthAdjust="spacing">Sample point of cumulative</text>
<text class="lt" x="363.2" y="556.4" textLength="128.1" lengthAdjust="spacing">oil production</text>
<text class="lt" x="363.2" y="586.5" textLength="252.9" lengthAdjust="spacing">Sample point with absolute</text>
<text class="lt" x="363.2" y="615.1" textLength="221.7" lengthAdjust="spacing">error exceeding 6000 m</text>
<text class="lts" x="585.8" y="608.1">3</text>
</g>
<g transform="translate(981.6 1634.3)">
<g clip-path="url(#ax)">
<path class="pb" d="M4.2 632l25.4-28.6l-26.3 36.9l112.5-87.4l121.8-122l-169.6 141.7l-35.4 23.1l200-181.8l-107.9 100.3l-116.6 108.7l117.2-68.9l-94.3 40.1l13.5-54.7l-24.4 46l20.6 16.2l-21.3 17.6l-12.5 13.9l109.5-102.7l321.9-291.6l-411.6 383.7l535.5-551.9l-496.5 534.8l161.3-170.7l364-305.7l-555.7 491.9l84.6-65.2l-14.3 32.5l-24.6 38.5l-56-4.8l46.9-69.6l-16.4 66.1l-23.5 1.6l23.8-12.2l-41.5 1.2l91.5-108.5l318.3-299.4l-148.3 137.2l-262.6 285.7l149.4-105.2l-153.4 97.4l66-49l-45.5 36.1l129.1-74.1l245.4-236l-401.3 348.2l33.8-36.8l115.4-156.1l-124.1 177l181.1-242.8l-28.3 126.2l-21.8-19.1l-85.7 61.9l-16.8 59.2l-8.9 5.5l17-71l173.9-168.6l-234.1 258.4l34.8-84.8l91.3-3.6l83.7-92.2l-123.6 74.9l8.3 43l-82.1 24.5l140.5-131l-115.7 154.1l-40 15.7l13-27.7l-3.8 25.8l76.3-101.7l-71.8 110.2l-5.3-11.5l55.4-107.2l-40.6 103.3l50-89.1l-24.9 64.7l-49.8 19.9l17 19.1l175.4-196.5l-179.2 198l31.6-41.5l-21.7 22.9l315.9-269.9l-308.5 268.6l58-93l-1.4 57.1l-35.3-13.1l-51.1 57.2l6.7 10.9l139.6-155.2l-59.7 69.5l-29.3 6.7l-15.9 57.1l138.7-159.6l-165.6 149.2l14.5-2.7l-13.8 32.4l47-60.4l-60.5 44.5l38.6-38.6l193.9-141.6l-152.6 98.4l-68 82.1l402.2-326.3l-293.2 246.9l-113.1 98.6l29.4-87.7l-35.1 75.4l108.4-91.9l-76 52.4l-26 51.3l8.2-22.9l-0.8 22.9l8.5-30.8l-20.4 3.2l-6.4 8.8l58-52.6l-0.9-1.6l223-215.8l-251.6 270.1l380.5-333.2l-296.5 244.3l-82 51.1l-2.9 55.9l78-112l-62.1 56.2l88.6-88.8l42-32.7l-21.1 46.3l7.1 5.7l-85.5 45.5l-73.5 81.5l46.9-34l32.4-54.7l-4.9 79.3l119.1-163.6l-65.7-0.7l-7.6 60.3l-67.2 72.2l29.3-82.2l-79.3 115.7l41.6-37.8l24.8-57.8l-53.4 53l64.5-9.9l-45.4 25.6l28.3-45l34.6-33.3l-47.1 72l-26.5-15.8l-9.7 56.8l117.5-130l-56.1 56.2l-57.4 69l27.6-16.4l7.1-27.5l-46.9 39l4.2 7.5l350.8-404.2l-170.1 180.4l-115.3 148.2l-28.1 5.1l88.5-69.2l-105.2 116.4l20.5-45.5l-25.3 36.1l12.6-18.5l193.2-142.6l-82.7 14.9l-108.5 125.3l60.1-42.4l-37.8 30.4l258.1-295.9l-307.6 340l-3.3-0.8l24.4-37.3l-13.2 43.4l76.1-134.1l-52.3 105.2l-18.7 39.6l-6.9-33.1l61.5-45.3l-81.8 83.3l105.1-67.5l-101.6 59.2l21.8-47.9l33-12.1l-19.9 34.3l1.9 13.7l-1.5-52.8l-18.1 58.9l153.6-167l-132.8 129.9l6.2-3.1l4.1 15.6l-5.8-25.6l139.6-165.8l-79.1 142l-64.2 39.9l-1.3 33l22.6-20.9l-22.9-4.8l88.1-71.1l237.8-232.1l-343.8 309.3l66.1-41.2l-65.9 30.8l108.8-90.6l-123.1 107.9l206.6-200.1l-58.5 24.1l-138.1 171.1l-2.7 25.1l72.1-97.5l2.2 19.3l-78.5 85.8l28.3-45.6l219.3-205.8l-222.7 200.9l-7.1 22.2l-6.2-3.9l-3.9 29.8l20.8-34.6l-6.8-11.9l-12.6 42.8l77.1-86.7l161.7-198.2l-204.7 244.4l-35.1 27.9l157.2-202.7l-122.2 208.8l6.4-19.5l-38 17.5l124.2-183.2l-138.3 181.4l178.1-185.1l-137.8 137.6l72.9-110l-120.1 175.3l225.6-258.1l-191.8 226.4l-36.8 6.7l161-149l-122.7 143.2l-23.5 32.2l307.5-315.3l-313.7 308.4l52.8-68.4l143.3-175.9l-168.8 205.1l510.8-489.5l-331.5 331.6l-192.2 174.1l187.4-139.1l-148.1 119.1l89.5-85.3l-105 61.1l-5.2 0l9.1 26.3l-48.2 45.8l10.6-21.8l132.7-116.5l-91.4 90.9l-54.5 49.2l39.9-46.7l151.4-131.3l-187.2 152.9l70.2-23.9l-5.7 18.2l-39.1-16.1l-23.1 41.9l43.8-88l188.1-135.7l-233.3 202.7l11.4 12l46.1-7.7l3.8-29.3l79.4-93.7l-86.4 98.1l-49.5 29.3l302.5-306.9l-289.7 281.1l397.3-402.6l-395.2 425.2l180.2-160.1l-161.1 121.5l-19.7 42.7l96.8-129.1l-103.5 100.7l105.8-73.5l57.8-84l107.9-55.3l-242.6 204.4l8.5-22.8l-14.1 29.8l300.7-339l-130 235.5l4.4-48.2l-17.7-7.2l-186.7 202.5l44.4-77l84.6-54.9l-98.7 93.8l62.8-87.2l297.5-251.6l-328.4 334.5l-29.8 8l127.5-129.7l-107.3 102.5l46.8-36.2l-92.7 28.5l73.2-14.5l45.3-47.1l286.8-308.3l-357 402.9l36.7-74.4l22.9 14.3l-78.9 73.1l-6.7-9.2l101.2-137l-140.7 167.1l18.5-13.5l279.2-273.1l-43.8 11.9l-242.9 254.1l-6.3 25.2l55.8-33.2l34.6-73.8l-69.4 67.9l97.8-88l-56.6 58l26.6-61.4l-73.6 114.4l77-112.3l113.4-91.7l-84.4 72.5l-91.1 115.8l-34.4 30.6l49.7-40.1l-22.4 5.2l-19.7 22.3l137.7-101.5l-58.8-28.6l181.2-112.1l-234.3 224.3l78.6-79.9l-53 53.4l-32.6 34.5l80.9-77.5l-99.5 100.4l80.7-72.6l-34.5 12.5l118.5-96.4l-154.7 154l353.1-360.1l-365 345.5l37-62.7l185.8-155.6l-98.8 78.7l-62.4 104.7l66.9-85.6l-97 94.5l149.9-104.4l-47.2 40.7l-99.7 63.9l68.6-70.3l-86 109.9l-19.2-49.8l57.2-7.2l35.7-56.6l91.9-92.1l-175 193.7l224.9-188.9l-209.2 167.4l34.7-58.3l-7.3 43.3l87.7-125.4l-134.7 161.9l-2.2-12.3l13.9-4.7l62.7-51.9l-17.7 24.7l288.6-309.2l-254.9 316.5l112.2-140.7l-152.9 75.2l-59.1 117l2.7-22.8l244.2-185.3l201-213.7l-317.6 310.4l-118.8 94l64.3-30.9l109.8-130.9l-123.4 180.5l-11.3-57.5l-2-0.3l38.8-73.1l-83 123.9l11 2.4l105.8-113.3l-84.8 90.3l2.5-18.3l35.8-74.6l-6.3 51.2l-49.7 38.1l-0.5 8.6l-2.6-15.6l24.9 0.4l6.8-30.8l280.2-225.5l-271.1 242.3l44.5-7.2l28.7-17.6l-114.8 55.1l54.2-41.4l-38 25.4l38.7-42.5l185.4-155.6l-225.6 193.7l8.9 1.2l113.1-75.8l-123.6 54.2l10.3-13.9l-9 47l-6.1-0.6l-23.4 29.6l27.4-22.2l441.5-413.2l-460.1 433.7l59.4-33.7l2.2-1.9l-38.1 3.7l-31.6 11.4l47.7-48.7l44.5-19.4l12 1.2l-97.7 59.7l90.8-46.3l-93.6 49.7l87-48.1l5.3 12l-69.9 27.1l21.1-36.7l-40.1 64.1l7.9-27.3l24 13.3l-1.3-24.3l-3 29.7l-31.7 4.1l-0.5 11.1l1.5-10.1l82.1-66.5l59.9-113.5l-82.7 149.2l-46.8 19.6l69.6-67.3l-10.9 5.5l-64.9 75.1l15.8 1.2l166.4-185.6l-46.7 12.7l-47.5 96.2l70-58.7l-111.4 64.9l20.3 2.5l-75.9 73.5l39.5-26.7l173.6-162l-201.6 165.6l36.2-24.3l69.4-36.7l-100.5 49.4l617-584.7l-530.6 473.4l-65.9 59.8l80.7-17.9l398.7-360.8l-455.1 385.4l14.3 45.7l-60.1 11.1l78.6-127.1l8.1 24.6l-97.5 125.9l10.4-29.8l25.2 0.5l273.8-269.9l-180.1 167.2l-90.1 66.9l-4.4 25l-4.8-3.8l-17.7 26.9l222.5-170.1l-156.6 82.7l-71.6 84.4l250.1-172.7l-104.4-20.3l-35.6 86.8l-52.7 9.2l254.2-215.5l-258.6 247.5l-14.3 35.8l-53.6 45.9l261.2-187.8l-210.2 126.5l-31.8 46.1l-9.3-29.8l36.9 6.5l180.2-115.9l-210.6 141.7l77.8-63.1l48.1-75.6l-115 141.6l-12.7 15.1l52.2-50.6l-49.3 21.3l293.4-267.5l-153.3 159.5l13.5 1l-160.3 130l97-91.8l-97.3 49.7l-6.8 40.1l21.1-27.2l23.8 21.2l9.5-56l74.4-39.8l-48.1-10.6l-82.8 119.4l211.4-213.8l-191.5 159.4l11.7 27.8l52.1-30.9l-75 49.6l36.3 9.4l74.7-153.1l-66.7 61.9l198.5-193.5l-125.5 150.1l-126 134.9l59.5-102.5l194-181.5l-193.3 207.3l239.5-226.5l-296.7 277.1l285.8-226.8l-106.5 98.8l-116.2 90.9l-36.6 21.9l-21 41.7l22.4-45l108.5-111.6l12.2-56.7l-147.7 204.1l136-108.3l144.3-97.8l-168.9 113.4l-16.3-11.6l-98.8 74.7l17.6 13.1l284.5-245.8l-249.7 192.7l-49.6 69.7l229.6-267.8l-231.1 273.9l3.8-19.4l371.5-335.5l-305.4 290.9l153.5-213.9l-72.8 105.7l-53.8 87.8l-95.9 85.4l11.1-27.5l4.5 8l187.9-198.4l-165.7 185.8l160-219.9l-99.9 124.4l-10.4 83.4l-66.7 21.6l49.2-61.4l-13 35.1l-13-11.2l-45.5 29.4l194.6-175.9l-197.1 197.6l50.6-76.9l48-42.7l-41.3 48l16.1-2.6l87.7-77.8l-79.3 79l0.5 22.2l-43.2 32.7l-19-0.5l7.7-27.1l11-6.6l-38.6 35.9l31.2-16.9l21.8-11l-15.7 19l68.2-95.9l-23.1 54l-62.3 47.6l174.7-123.2l-152.6 143.1l-7.7-16.2l-17.8 15l76.9-75.4l-77.2 68.4l-14.6 18.9l133.4-132l-130.2 123.5l28.1 7.7l22-73.1l-24.4 31l-3.2-23.7l13.5 38.2l289.6-288.6l-305.2 257.3l18.5 5.1l218.9-251.9l-254 279.8l96.9-90.3l-28.3 37.8l25-60.9l-74.5 137.4l56.4-63.8l151.6-114.4l-230.8 170.5l103.8-105.9l-69.6 53.2l124.6-61.1l43.6-124.9l-149.5 189.4l-57.1 52.9l164.2-123.7l-51.3 17.1l-81.5 85.6l-2.7-36.8l120.1-140.9l-106.8 171.7l-29.7 30.9l92.1-82.7l-67.8 40.1l427.6-376.1l-445.8 370.8l17.3 47.9l-14 1.1l88.2-113.7l81.9-84.5l-50.3 89.7l-99.3 82.7l109.2-128.2l-23.8 47.9l-84.1 69.4l62.8-59.7l-93 78.4l95.6-83.3l-85.9 80.5l14.1-30.3l46.9 30.5l-78.5 20l24-36.3l-26.8 5.8l74.9-56.9l51.2-33.7l-112.9 122.4l52.1-62.8l-17.5 22.6l-16.8 41.2l390.3-457.2l-100.9 120.7l-297.2 270.5l11.1-20.3l71.5-34l-24 49.5l-46.4 7.3l2.1 6.9l12.5-13.9l-38.7 26.8l281.8-273.1l-294.7 316.7l167.9-139.5l-97.3 42.2l-52.4 64.8l109.2-103.8l-118 130.5l67.7-73.1l262.5-246.3l-286.9 304.3l43.9-62.9l-66.1 55l-13-7.8l14.4-6.1l13.7 41.9l-9.2-70.7l-20.8 45.7l286.4-332.1l-210.2 245.5l56.8-48.8l-130.2 149.4l-5.6-12.6l42-41l66.8-33.6l-101.7 68.5l14.7-4.7l-14.4-1.9l2.2-4.9l34.3-38.6l24.4-19.9l-1.3 66.6l-10.1-45.4l-5-26l21.3-24.7l-65.1 112.8l64.4-119l-26.8 72.9l43.4-14.1l195.9-190.7l-286.8 244.6l55.9-100.8l35.1-26.8l-89.7 130.6l241.1-229.9l-178.2 164.4l-39.6 54.6l301.8-306.8l-315.6 278.4l150-88.2l-107.2 54.5l45.5-45.3l-67.3 95.1l477.6-447.8l-474.4 472l139.2-125.2l-105.7 87.6l-41.8 15.8l-7.7-10.3l19.2-9.7l-39.1 53.7l-3.5-24.5l197.1-165.7l-70 106.9l39.4-76.4l-171.4 166.6l407.3-373.4l-274.9 250.8l-33 13.3l-75.3 67.2l41.3-26.4l-2.7 6l2.6-57.4l24.7 46l57.6-95.3l-119.4 144.1l41.8-52.8l-31.5 40.1l356.4-415l-340.5 385.3l51.4-35.3l-108.4 78.5l38.1-31.2l103.5-122.5l193.2-161.7l-315.5 294.5l-19.2 43l31.2-22.4l72.4-109l-48.7 85.2l5.9-18.7l212.2-251.4l-217.5 223.9l60.8-29.9l-84 84.3l10.8-22.1l169-123l-120.3 88.3l-83.8 76.2l77.3-117.4l-20.6 106.6l131-164.7l-193.1 158.2l213.7-153.2l-202.6 175.2l51.7-88.7l20.9 3.3l-67.2 37.8l-16.4 37.4l39.5-31.2l-41.6 31.4l37.2-28.1l49.2-47.7l-82.9 102.9l62.4-74.9l384-381.8l-320.4 307.6l-45.5 76.5l-38.5 11.1l3.4 19.7l-2.5 8.2l110.3-142.5l-156.6 174.1l201.6-206.3l-77.5 52.2l108.1-115.5l-196.6 218.8l4.5 26.6l99.6-151.6l-95.4 143.6l40.7-14.4l400.8-460.5l-421.9 478.6l8.3-55.1l-71.5 77.5l317.1-302.8l-269.7 271.7l-28.5 5.7l138.9-111.9l7-77.7l-81 161.5l-52.9 18.5l1 0.8l18.1-28.8l-4.5 18.5l-6.6 16.8l-8.6 6.7l41.6-52.9l130.6-77.7l13.8-53.2l-214.4 210.7l13.9-31.7l19.2-1.6l-35 35.3l61.9-55.5l-4.5-46l-56.3 100.9l20.6-15.6l11-38.6l27.9-46.1l10.7 3.8l-26.5 27l19.2 15.9l-65.7 35.8l112.2-92.3l272.9-274.6l-275 266.7l-82.7 85.5l80.9-54.1l-98.9 68.8l163.5-147.9l-52.4 71.3l-57.8 48.5l121.8-78.5l-101.9 13.6l32.4-11.5l-54.7 79.9l494.8-476.5l-334.5 282.3l-114.5 188.7l91.6-138.9l121.3-139.3l-317.6 326.3l143.1-154.6l117-76.2l-38.6 69.6l-31.2 6.6l-143.4 69.4l-32.5 56.3l5.4 22.4l92.6-104l67.9-46.8l-143.9 120.6l212.4-230.6l-222.7 250l6.2-43.4l20.5-11.2l-39.8 55.1l48.3-52.4l-58.2 66.5l65.4-94.6l-52.7 46.2l-14.3 27.1l238.6-202.3l-78.1 63.1l-131.8 141.7l63.5-50.8l-87.5 52.2l3.4 10.8l248.9-194.9l-210.1 151.9l-9.6 3.3l7.7-5.4l-6.4 49.7l-42 2.3l16.7-28l41.8-63.6l251.5-223.6l-275.2 227.8l47.5 4.2l-13.5 22.1l-63.4 62.8l15.8-46.3l-9.6 2.1l33.2-22.3l97.6-62.1l58.7-103.2l-195.5 208.7l97.9-31.1l-4.4-17.6l32.3-73.5l-55.4 122.6l83.9-121.1l-78.4 28.8l-77 77.2l55.8-16.1l-44.7 34.3l4.5-38.7l2.7 51l18.1-28.5l105.9-119.9l-60 109.9l162.8-228.9"/>
<path class="pr" d="M444.7 374.7l-201.9 152l-75.1-189.6l321.8-55.2l-386.6 328.9l302.2-252.3l-235.8-6.8l-96.3 156.3l506.6-325.4l-258.4 230l107.2-330.4l-149.9 221.5l-228.6 206.5l495.1-171.6l-363 43.9l-94.4 91l471.1-288.9l-397.9 376.9l56.2-210l-50.8-2.5l169.9 47.7l178.5-162.5l-465.6 274.1l88.6 70.3l-66-72.4l571.8-422.8l-175.4-13.9l4 245.7l-258.2 36.9l201.1 22.4l229.7-191.3l-432.8 153.2l-73.6 55.4l177.8 20.6l131.5-91.3l-230.6 44.9l218.8-36.9l-30 31.6l-224.2 197l0 1.2l-90.2-68.3l288.1-115l-62.4 61.7l-241.7 66.5l60.7-63.5l409.4-235.9l-100.1 151.6l-126 67.4l117.7-79.4l-18.1 49.3l176.8-165.7l-40.1-190.4l-451.5 440.3l-42.5 14.7l58.8-40.1l23.7 128.2l-41.8-194.3l362.8-130l-315.8 314.4l49.1-28.3l279.9-274.5l5.6 34.9l47.3-259l-441 445.2l81.9-79l359.6-109.8l-252.2 141.1l-115.1 118.2l254.9-234.5l-295.8 124l406.7-187.1l-363.1 151.9l50.7 93.1"/>
<path class="l45" d="M0 644.2 L660 0"/>
<path class="lb" d="M0 579.78 L594 0"/>
<path class="lb" d="M66 644.2 L660 64.42"/>
</g>
<rect class="sp" x="0" y="0" width="660" height="644.2"/>
<path class="tk" d="M-6.5 644.2H0M0 644.2V650.7M-6.5 536.83H0M110 644.2V650.7M-6.5 429.47H0M220 644.2V650.7M-6.5 322.1H0M330 644.2V650.7M-6.5 214.73H0M440 644.2V650.7M-6.5 107.37H0M550 644.2V650.7M-6.5 0H0M660 644.2V650.7"/>
<text class="tl" x="-15" y="652" text-anchor="end">0</text>
<text class="tl" x="-15" y="544.63" text-anchor="end">10000</text>
<text class="tl" x="-15" y="437.27" text-anchor="end">20000</text>
<text class="tl" x="-15" y="329.9" text-anchor="end">30000</text>
<text class="tl" x="-15" y="222.53" text-anchor="end">40000</text>
<text class="tl" x="-15" y="115.17" text-anchor="end">50000</text>
<text class="tl" x="-15" y="7.8" text-anchor="end">60000</text>
<g clip-path="url(#xc)">
<text class="tl" x="0" y="674.8" text-anchor="middle">0</text>
<text class="tl" x="110" y="674.8" text-anchor="middle">10000</text>
<text class="tl" x="220" y="674.8" text-anchor="middle">20000</text>
<text class="tl" x="330" y="674.8" text-anchor="middle">30000</text>
<text class="tl" x="440" y="674.8" text-anchor="middle">40000</text>
<text class="tl" x="550" y="674.8" text-anchor="middle">50000</text>
<text class="tl" x="660" y="674.8" text-anchor="middle">60000</text>
</g>
<text class="al" x="109.1" y="717.6">True Cumulative Oil Production (m</text>
<text class="sup" x="523.98" y="708.1">3</text>
<text class="al" x="534.28" y="717.6">)</text>
<g transform="translate(-106.1 581.2) rotate(-90)">
<text class="al" x="0" y="0">Predicted Cumulative Oil Production (m</text>
<text class="sup" x="470.67" y="-9.5">3</text>
<text class="al" x="480.97" y="0">)</text>
</g>
<text class="r2" x="43.5" y="59.7"><tspan class="it">R</tspan></text>
<text class="r2s" x="65.6" y="48.6">2</text>
<text class="r2" x="82" y="59.7">=</text>
<text class="r2" x="111.6" y="59.7" textLength="76" lengthAdjust="spacing">0.952</text>
<rect class="lg" x="289.6" y="434.2" width="357.7" height="197.8" rx="8.5"/>
<path class="lr" d="M304.5 458.7H350.1"/>
<path class="lbl" d="M306.4 489.4H348.9"/>
<circle class="mb" cx="327.7" cy="521.7" r="2.3"/>
<circle class="mr" cx="326.1" cy="577.5" r="2.3"/>
<text class="lt" x="363.2" y="466.5">45</text>
<text class="ltd" x="387.7" y="457">&#8728;</text>
<text class="lt" x="406.3" y="466.5" textLength="108.6" lengthAdjust="spacing">straight line</text>
<text class="lt" x="363.2" y="497" textLength="227.4" lengthAdjust="spacing">Absolute error = 6000 m</text>
<text class="lts" x="593.1" y="490">3</text>
<text class="lt" x="363.2" y="528.5" textLength="256.8" lengthAdjust="spacing">Sample point of cumulative</text>
<text class="lt" x="363.2" y="556.4" textLength="128.1" lengthAdjust="spacing">oil production</text>
<text class="lt" x="363.2" y="586.5" textLength="252.9" lengthAdjust="spacing">Sample point with absolute</text>
<text class="lt" x="363.2" y="615.1" textLength="221.7" lengthAdjust="spacing">error exceeding 6000 m</text>
<text class="lts" x="585.8" y="608.1">3</text>
</g>
<text class="cap" x="253.8" y="789.4" textLength="292.6" lengthAdjust="spacing">a. LR training set</text>
<text class="cap" x="1138.4" y="789.4" textLength="218.7" lengthAdjust="spacing">b. LR test set</text>
<text class="cap" x="235.1" y="1602.1" textLength="314.8" lengthAdjust="spacing">c. SVR training set</text>
<text class="cap" x="1119.5" y="1602.1" textLength="242.5" lengthAdjust="spacing">d. SVR test set</text>
</svg></body></html>
